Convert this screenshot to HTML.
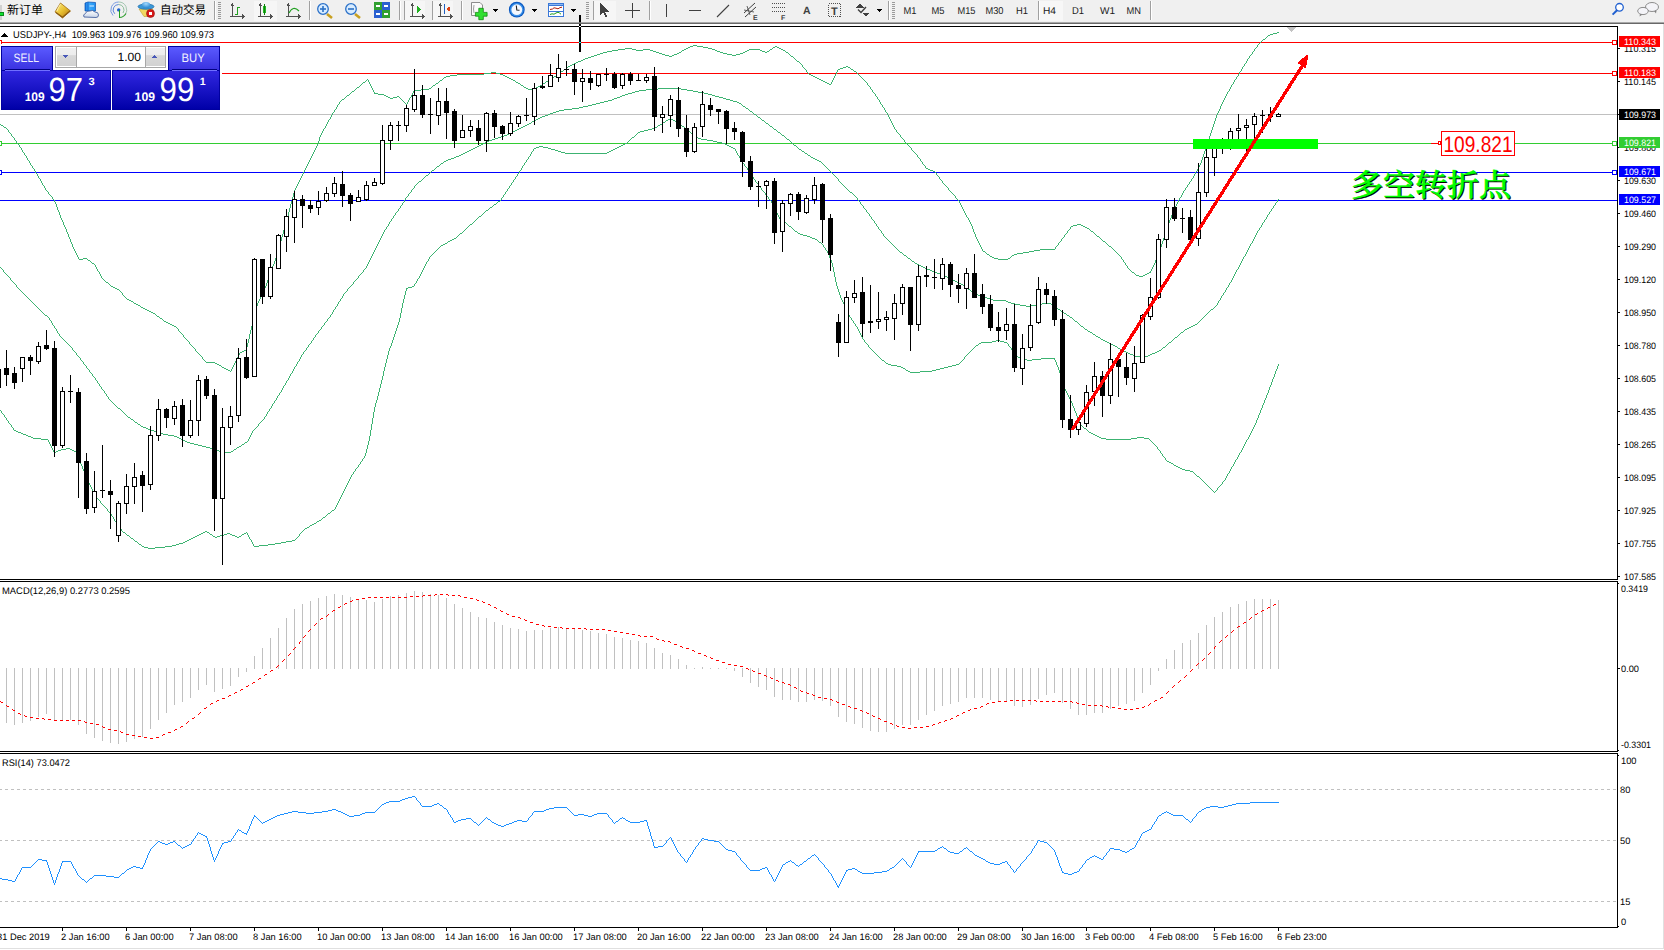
<!DOCTYPE html>
<html><head><meta charset="utf-8"><title>USDJPY-,H4</title>
<style>
html,body{margin:0;padding:0;background:#fff;width:1664px;height:950px;overflow:hidden;}
svg{display:block;}
text{white-space:pre;}
</style></head>
<body>
<svg width="1664" height="950" viewBox="0 0 1664 950" shape-rendering="crispEdges" text-rendering="geometricPrecision">
<rect x="0" y="0" width="1664" height="22" fill="#f0f0f0"/>
<rect x="0" y="22" width="1664" height="1" fill="#a8a8a8"/>
<rect x="0" y="23" width="1664" height="1" fill="#686868"/>
<rect x="0" y="5" width="1.5" height="15" fill="#d0d0d0"/>
<rect x="0" y="12" width="4" height="4" fill="#0a8a1a"/>
<rect x="0" y="13" width="3" height="2" fill="#10e030"/>
<text x="7" y="13.6" font-size="12" fill="#000" font-family="'Liberation Sans', 'Noto Sans CJK SC', 'WenQuanYi Zen Hei', sans-serif" textLength="36" lengthAdjust="spacingAndGlyphs">新订单</text>
<defs><linearGradient id="gGold" x1="0" y1="0" x2="1" y2="1"><stop offset="0" stop-color="#fff090"/><stop offset="0.5" stop-color="#e8c030"/><stop offset="1" stop-color="#b07010"/></linearGradient><linearGradient id="gSrv" x1="0" y1="0" x2="1" y2="0"><stop offset="0" stop-color="#1070e0"/><stop offset="0.3" stop-color="#40b0ff"/><stop offset="1" stop-color="#2090f0"/></linearGradient><linearGradient id="gCloud" x1="0" y1="0" x2="0" y2="1"><stop offset="0" stop-color="#ffffff"/><stop offset="1" stop-color="#c8d4e8"/></linearGradient><radialGradient id="gHat" cx="0.5" cy="0.3" r="0.7"><stop offset="0" stop-color="#a0d8ff"/><stop offset="1" stop-color="#2a88d0"/></radialGradient></defs>
<g shape-rendering="auto">
<polygon points="60.5,3 70.5,11 62.5,18 55,12" fill="url(#gGold)" stroke="#a06a10" stroke-width="0.8" stroke-linejoin="round"/>
<path d="M56,12.5 L62.5,17.2 L70,10.8" fill="none" stroke="#8a5a10" stroke-width="1.1"/>
<path d="M60.5,4 Q58,8 57,11" fill="none" stroke="#fff8c0" stroke-width="0.8"/>
<path d="M85,3 L88,2 L95.5,2.5 L95.5,11 L85,11 Z" fill="url(#gSrv)" stroke="#0a50b0" stroke-width="0.7"/>
<path d="M88,2.2 L88,11" stroke="#0a50c0" stroke-width="0.8"/>
<rect x="89.5" y="5.5" width="4.5" height="1" fill="#e0f0ff"/>
<path d="M84,17 Q82.5,14.5 85.5,13.5 Q86,10.5 90,11 Q92.5,9.5 95,12 Q98.5,12 98.5,15 Q98.5,17.5 96,17.5 Z" fill="url(#gCloud)" stroke="#4a64a0" stroke-width="0.9" stroke-linejoin="round"/>
<path d="M118.7,2 A8,8 0 0 0 113,15.5" fill="none" stroke="#6a90e0" stroke-width="0.9"/>
<path d="M118.7,4.5 A5.4,5.4 0 0 0 114.8,13.8" fill="none" stroke="#4a78d8" stroke-width="0.9"/>
<path d="M118.7,2 A8,8 0 0 1 125,15" fill="none" stroke="#9ac0a8" stroke-width="0.9"/>
<path d="M118.7,4.5 A5.4,5.4 0 0 1 123,13" fill="none" stroke="#80b890" stroke-width="0.9"/>
<path d="M119.4,17.5 A8,8 0 0 0 126,13.5" fill="none" stroke="#30a030" stroke-width="1.1"/>
<circle cx="118.7" cy="9.9" r="1.7" fill="#2060d0"/>
</g>
<rect x="119" y="10" width="1" height="8" fill="#20a020"/>
<g shape-rendering="auto">
<path d="M139,9 L153,9 L150,16.5 L144,16.5 Z" fill="#f0d860" stroke="#c0a030" stroke-width="0.6"/>
<ellipse cx="146" cy="6.6" rx="8" ry="2.6" fill="#3a98d8" stroke="#1a68a8" stroke-width="0.7"/>
<ellipse cx="146" cy="5" rx="4.2" ry="3" fill="url(#gHat)"/>
<circle cx="150.5" cy="13.5" r="4" fill="#d81818" stroke="#901010" stroke-width="0.6"/>
<rect x="149" y="12" width="3" height="3" fill="#ffffff"/>
</g>
<text x="160" y="13.6" font-size="12" fill="#000" font-family="'Liberation Sans', 'Noto Sans CJK SC', 'WenQuanYi Zen Hei', sans-serif" textLength="46" lengthAdjust="spacingAndGlyphs">自动交易</text>
<rect x="214" y="1" width="1" height="19" fill="#a0a0a0"/>
<rect x="215" y="1" width="1" height="19" fill="#ffffff"/>
<rect x="218" y="2" width="3" height="1" fill="#9a9a9a"/>
<rect x="218" y="4" width="3" height="1" fill="#9a9a9a"/>
<rect x="218" y="6" width="3" height="1" fill="#9a9a9a"/>
<rect x="218" y="8" width="3" height="1" fill="#9a9a9a"/>
<rect x="218" y="10" width="3" height="1" fill="#9a9a9a"/>
<rect x="218" y="12" width="3" height="1" fill="#9a9a9a"/>
<rect x="218" y="14" width="3" height="1" fill="#9a9a9a"/>
<rect x="218" y="16" width="3" height="1" fill="#9a9a9a"/>
<rect x="218" y="18" width="3" height="1" fill="#9a9a9a"/>
<rect x="232" y="4" width="1" height="13" fill="#505050"/>
<rect x="230" y="16" width="13" height="1" fill="#505050"/>
<polygon points="230.5,6 232.5,3 234.5,6" fill="#505050"/>
<polygon points="242,14 245,16.5 242,19" fill="#505050"/>
<rect x="237" y="7" width="1" height="8" fill="#20a020"/>
<rect x="237" y="7" width="3" height="1" fill="#20a020"/>
<rect x="235" y="14" width="2" height="1" fill="#20a020"/>
<rect x="254" y="1" width="23" height="20" fill="#f6f6f6"/>
<rect x="260" y="4" width="1" height="13" fill="#505050"/>
<rect x="258" y="16" width="13" height="1" fill="#505050"/>
<polygon points="258.5,6 260.5,3 262.5,6" fill="#505050"/>
<polygon points="270,14 273,16.5 270,19" fill="#505050"/>
<rect x="263" y="6" width="3" height="7" fill="#20c020"/>
<rect x="264" y="4" width="1" height="11" fill="#108010"/>
<rect x="288" y="4" width="1" height="13" fill="#505050"/>
<rect x="286" y="16" width="13" height="1" fill="#505050"/>
<polygon points="286.5,6 288.5,3 290.5,6" fill="#505050"/>
<polygon points="298,14 301,16.5 298,19" fill="#505050"/>
<g shape-rendering="auto"><path d="M289,13 Q293,5 299,11" fill="none" stroke="#20a020" stroke-width="1.2"/></g>
<rect x="309" y="1" width="1" height="19" fill="#a0a0a0"/>
<rect x="310" y="1" width="1" height="19" fill="#ffffff"/>
<g shape-rendering="auto">
<line x1="327" y1="14" x2="332" y2="18" stroke="#c8a020" stroke-width="2.6"/>
<circle cx="323" cy="9" r="5.3" fill="#d8ecff" stroke="#2a70c8" stroke-width="1.3"/>
<rect x="320" y="8.2" width="6" height="1.6" fill="#2a70c8"/>
<rect x="322.2" y="6" width="1.6" height="6" fill="#2a70c8"/>
<line x1="355" y1="14" x2="360" y2="18" stroke="#c8a020" stroke-width="2.6"/>
<circle cx="351" cy="9" r="5.3" fill="#d8ecff" stroke="#2a70c8" stroke-width="1.3"/>
<rect x="348" y="8.2" width="6" height="1.6" fill="#2a70c8"/>
</g>
<rect x="374" y="2" width="8" height="8" fill="#30a030"/>
<rect x="376" y="5" width="4" height="2" fill="#ffffff"/>
<rect x="382" y="2" width="8" height="8" fill="#2a60d0"/>
<rect x="384" y="5" width="4" height="2" fill="#ffffff"/>
<rect x="374" y="10" width="8" height="8" fill="#2a60d0"/>
<rect x="376" y="13" width="4" height="2" fill="#ffffff"/>
<rect x="382" y="10" width="8" height="8" fill="#30a030"/>
<rect x="384" y="13" width="4" height="2" fill="#ffffff"/>
<rect x="399" y="1" width="1" height="19" fill="#a0a0a0"/>
<rect x="400" y="1" width="1" height="19" fill="#ffffff"/>
<rect x="404" y="1" width="1" height="19" fill="#a0a0a0"/>
<rect x="405" y="1" width="1" height="19" fill="#ffffff"/>
<rect x="405" y="1" width="20" height="20" fill="#f6f6f6"/>
<rect x="412" y="4" width="1" height="13" fill="#505050"/>
<rect x="410" y="16" width="13" height="1" fill="#505050"/>
<polygon points="410.5,6 412.5,3 414.5,6" fill="#505050"/>
<polygon points="422,14 425,16.5 422,19" fill="#505050"/>
<polygon points="417,6 421,9.5 417,13" fill="#20b020"/>
<rect x="432" y="1" width="1" height="19" fill="#a0a0a0"/>
<rect x="433" y="1" width="1" height="19" fill="#ffffff"/>
<rect x="433" y="1" width="20" height="20" fill="#f6f6f6"/>
<rect x="440" y="4" width="1" height="13" fill="#505050"/>
<rect x="438" y="16" width="13" height="1" fill="#505050"/>
<polygon points="438.5,6 440.5,3 442.5,6" fill="#505050"/>
<polygon points="450,14 453,16.5 450,19" fill="#505050"/>
<rect x="444" y="4" width="1" height="10" fill="#2060c0"/>
<polygon points="446,9 450,6.5 450,11.5" fill="#e04010"/>
<rect x="461" y="1" width="1" height="19" fill="#a0a0a0"/>
<rect x="462" y="1" width="1" height="19" fill="#ffffff"/>
<g shape-rendering="auto">
<path d="M471.5,2.5 L480,2.5 L482.5,5 L482.5,15.5 L471.5,15.5 Z" fill="#fafafa" stroke="#808080" stroke-width="0.9"/>
<path d="M474,5 Q473,9 474,13" fill="none" stroke="#606060" stroke-width="0.6"/>
<path d="M478.8,8.3 H483.3 V12.4 H487.1 V16.2 H483.3 V19.7 H478.8 V16.2 H475.4 V12.4 H478.8 Z" fill="#30e030" stroke="#108a10" stroke-width="0.8"/>
</g>
<polygon points="493,9 498,9 495.5,12" fill="#000"/>
<g shape-rendering="auto">
<circle cx="516.8" cy="9.7" r="7.9" fill="#0a58c0"/>
<circle cx="516.8" cy="9.7" r="6.8" fill="#3a90e8"/>
<circle cx="516.8" cy="9.7" r="5.4" fill="#f4f8ff"/>
<path d="M516.3,5.5 L516.8,10 L519.5,10.3" fill="none" stroke="#202020" stroke-width="1.1"/>
</g>
<polygon points="532,9 537,9 534.5,12" fill="#000"/>
<rect x="548" y="3" width="16" height="14" fill="#3a78d8"/>
<rect x="549" y="6" width="14" height="10" fill="#ffffff"/>
<rect x="549" y="11" width="14" height="1" fill="#3a78d8"/>
<rect x="549" y="4" width="14" height="1" fill="#8ab8f0"/>
<g shape-rendering="auto">
<path d="M550,9.5 L552.5,9 L554,7.8 L556,8.2 L558,8.8 L560,7.6 L562,7.2" fill="none" stroke="#b02010" stroke-width="1"/>
<path d="M550,14.5 L552,13.8 L554,14.2 L556,13 L558,12.2 L559.5,13 L561,14.2" fill="none" stroke="#20a020" stroke-width="1"/>
</g>
<polygon points="571,9 576,9 573.5,12" fill="#000"/>
<rect x="586" y="2" width="3" height="1" fill="#9a9a9a"/>
<rect x="586" y="4" width="3" height="1" fill="#9a9a9a"/>
<rect x="586" y="6" width="3" height="1" fill="#9a9a9a"/>
<rect x="586" y="8" width="3" height="1" fill="#9a9a9a"/>
<rect x="586" y="10" width="3" height="1" fill="#9a9a9a"/>
<rect x="586" y="12" width="3" height="1" fill="#9a9a9a"/>
<rect x="586" y="14" width="3" height="1" fill="#9a9a9a"/>
<rect x="586" y="16" width="3" height="1" fill="#9a9a9a"/>
<rect x="586" y="18" width="3" height="1" fill="#9a9a9a"/>
<rect x="593" y="1" width="1" height="19" fill="#a0a0a0"/>
<rect x="594" y="1" width="1" height="19" fill="#ffffff"/>
<rect x="594" y="1" width="22" height="20" fill="#f6f6f6"/>
<polygon points="600,3 600,15 603,12 605.5,17 607,16.3 604.5,11.5 608.5,11.5" fill="#404040"/>
<rect x="632" y="3" width="1" height="15" fill="#404040"/>
<rect x="625" y="10" width="15" height="1" fill="#404040"/>
<rect x="649" y="1" width="1" height="19" fill="#a0a0a0"/>
<rect x="650" y="1" width="1" height="19" fill="#ffffff"/>
<rect x="666" y="4" width="1" height="13" fill="#404040"/>
<rect x="689" y="10" width="12" height="1" fill="#404040"/>
<g shape-rendering="auto">
<line x1="717" y1="17" x2="729" y2="5" stroke="#404040" stroke-width="1.1"/>
<line x1="744" y1="13" x2="755" y2="3" stroke="#404040" stroke-width="1"/>
<line x1="745" y1="17" x2="756" y2="7" stroke="#404040" stroke-width="1"/>
<line x1="744" y1="10" x2="754" y2="12" stroke="#404040" stroke-width="0.8"/>
<line x1="747" y1="6" x2="750" y2="15" stroke="#404040" stroke-width="0.8"/>
</g>
<text x="753" y="19.5" font-size="7" fill="#404040" font-family="'Liberation Sans', Arial, sans-serif" font-weight="bold">E</text>
<line x1="772" y1="3.5" x2="785" y2="3.5" stroke="#505050" stroke-width="1" stroke-dasharray="1,1"/>
<line x1="772" y1="7.5" x2="785" y2="7.5" stroke="#505050" stroke-width="1" stroke-dasharray="1,1"/>
<line x1="772" y1="11.5" x2="785" y2="11.5" stroke="#505050" stroke-width="1" stroke-dasharray="1,1"/>
<text x="781" y="19.5" font-size="7" fill="#404040" font-family="'Liberation Sans', Arial, sans-serif" font-weight="bold">F</text>
<text x="803" y="14" font-size="10.5" fill="#404040" font-family="'Liberation Sans', Arial, sans-serif" font-weight="bold">A</text>
<rect x="828.5" y="3.5" width="12" height="13" fill="none" stroke="#505050" stroke-width="1" stroke-dasharray="1,1"/>
<text x="831" y="15" font-size="11" fill="#404040" font-family="'Liberation Sans', Arial, sans-serif" font-weight="bold">T</text>
<polygon points="860,4 864,7.5 856,7.5" fill="#404040"/>
<polygon points="866,16.5 870,13 862,13" fill="#404040"/>
<g shape-rendering="auto"><path d="M858,9.5 L861,12.5 L866,7" fill="none" stroke="#404040" stroke-width="1.4"/></g>
<polygon points="877,9 882,9 879.5,12" fill="#000"/>
<rect x="888" y="1" width="1" height="19" fill="#a0a0a0"/>
<rect x="889" y="1" width="1" height="19" fill="#ffffff"/>
<rect x="892" y="2" width="3" height="1" fill="#9a9a9a"/>
<rect x="892" y="4" width="3" height="1" fill="#9a9a9a"/>
<rect x="892" y="6" width="3" height="1" fill="#9a9a9a"/>
<rect x="892" y="8" width="3" height="1" fill="#9a9a9a"/>
<rect x="892" y="10" width="3" height="1" fill="#9a9a9a"/>
<rect x="892" y="12" width="3" height="1" fill="#9a9a9a"/>
<rect x="892" y="14" width="3" height="1" fill="#9a9a9a"/>
<rect x="892" y="16" width="3" height="1" fill="#9a9a9a"/>
<rect x="892" y="18" width="3" height="1" fill="#9a9a9a"/>
<text x="903.5" y="14" font-size="10" fill="#202020" font-family="'Liberation Sans', Arial, sans-serif" textLength="13" lengthAdjust="spacingAndGlyphs">M1</text>
<text x="931.5" y="14" font-size="10" fill="#202020" font-family="'Liberation Sans', Arial, sans-serif" textLength="13" lengthAdjust="spacingAndGlyphs">M5</text>
<text x="957.5" y="14" font-size="10" fill="#202020" font-family="'Liberation Sans', Arial, sans-serif" textLength="18" lengthAdjust="spacingAndGlyphs">M15</text>
<text x="985.5" y="14" font-size="10" fill="#202020" font-family="'Liberation Sans', Arial, sans-serif" textLength="18" lengthAdjust="spacingAndGlyphs">M30</text>
<text x="1016" y="14" font-size="10" fill="#202020" font-family="'Liberation Sans', Arial, sans-serif" textLength="12" lengthAdjust="spacingAndGlyphs">H1</text>
<rect x="1039" y="1" width="24" height="20" fill="#f7f7f7"/>
<text x="1043" y="14" font-size="10" fill="#202020" font-family="'Liberation Sans', Arial, sans-serif" textLength="13" lengthAdjust="spacingAndGlyphs">H4</text>
<text x="1072" y="14" font-size="10" fill="#202020" font-family="'Liberation Sans', Arial, sans-serif" textLength="12" lengthAdjust="spacingAndGlyphs">D1</text>
<text x="1100" y="14" font-size="10" fill="#202020" font-family="'Liberation Sans', Arial, sans-serif" textLength="15" lengthAdjust="spacingAndGlyphs">W1</text>
<text x="1126.5" y="14" font-size="10" fill="#202020" font-family="'Liberation Sans', Arial, sans-serif" textLength="14.5" lengthAdjust="spacingAndGlyphs">MN</text>
<rect x="1038" y="1" width="1" height="19" fill="#a0a0a0"/>
<rect x="1039" y="1" width="1" height="19" fill="#ffffff"/>
<rect x="1150" y="1" width="1" height="19" fill="#a0a0a0"/>
<rect x="1151" y="1" width="1" height="19" fill="#ffffff"/>
<g shape-rendering="auto">
<circle cx="1619.5" cy="7.3" r="3.8" fill="#ffffff" stroke="#2060d0" stroke-width="1.3"/>
<line x1="1617" y1="10.3" x2="1612.6" y2="14.6" stroke="#2060d0" stroke-width="2"/>
<ellipse cx="1652" cy="7" rx="6.5" ry="4.5" fill="#f4f4f8" stroke="#808080" stroke-width="0.9"/>
<path d="M1654,11 L1656,13.5 L1656.5,10.5" fill="#808080"/>
<ellipse cx="1643" cy="11" rx="5.3" ry="3.6" fill="#f4f4f8" stroke="#808080" stroke-width="0.9"/>
<path d="M1640,14 L1639.5,16.5 L1642.5,14.5" fill="#808080"/>
</g>
<rect x="0" y="26" width="1618" height="1" fill="#000"/>
<rect x="1617" y="26" width="1" height="554" fill="#000"/>
<rect x="1617" y="581" width="1" height="171" fill="#000"/>
<rect x="1617" y="753" width="1" height="175" fill="#000"/>
<rect x="0" y="579" width="1617" height="1" fill="#000"/>
<rect x="0" y="581" width="1617" height="1" fill="#000"/>
<rect x="0" y="751" width="1617" height="1" fill="#000"/>
<rect x="0" y="753" width="1617" height="1" fill="#000"/>
<rect x="0" y="927" width="1618" height="1" fill="#000"/>
<rect x="1663" y="24" width="1" height="925" fill="#e0e0e0"/>
<rect x="0" y="948" width="1664" height="1" fill="#e0e0e0"/>
<defs><clipPath id="cm"><rect x="0" y="27" width="1617" height="552"/></clipPath><clipPath id="cmacd"><rect x="0" y="582" width="1617" height="169"/></clipPath><clipPath id="crsi"><rect x="0" y="755" width="1617" height="172"/></clipPath></defs>
<g clip-path="url(#cm)">
<rect x="0" y="114" width="1617" height="1" fill="#c0c0c0"/>
<rect x="0" y="42" width="1617" height="1" fill="#ff0000"/>
<rect x="-2.5" y="40.5" width="4" height="4" fill="#fff" stroke="#ff0000" stroke-width="1"/>
<rect x="1612.5" y="40.5" width="4" height="4" fill="#fff" stroke="#ff0000" stroke-width="1"/>
<rect x="0" y="73" width="1617" height="1" fill="#ff0000"/>
<rect x="1612.5" y="71.5" width="4" height="4" fill="#fff" stroke="#ff0000" stroke-width="1"/>
<rect x="0" y="143" width="1617" height="1" fill="#32cd32"/>
<rect x="-2.5" y="141.5" width="4" height="4" fill="#fff" stroke="#32cd32" stroke-width="1"/>
<rect x="1612.5" y="141.5" width="4" height="4" fill="#fff" stroke="#32cd32" stroke-width="1"/>
<rect x="0" y="172" width="1617" height="1" fill="#0000ff"/>
<rect x="-2.5" y="170.5" width="4" height="4" fill="#fff" stroke="#0000ff" stroke-width="1"/>
<rect x="1612.5" y="170.5" width="4" height="4" fill="#fff" stroke="#0000ff" stroke-width="1"/>
<rect x="0" y="200" width="1617" height="1" fill="#0000ff"/>
<path d="M1277 32h2v1h-2zM1273 33h4v1h-4zM1270 34h3v1h-3zM1268 35h2v1h-2zM1267 36h1v1h-1zM1266 37h1v1h-1zM1265 38h1v1h-1zM1263 39h2v1h-2zM1262 40h1v1h-1zM1261 41h1v1h-1zM1260 42h1v1h-1zM1259 43h1v1h-1zM1258 44h1v1h-1zM693 45h4v1h-4zM1257 45h1v1h-1zM690 46h3v1h-3zM697 46h6v1h-6zM775 46h2v1h-2zM1257 46h1v1h-1zM688 47h2v1h-2zM703 47h5v1h-5zM773 47h2v1h-2zM777 47h2v1h-2zM1256 47h1v1h-1zM625 48h7v1h-7zM686 48h2v1h-2zM708 48h4v1h-4zM772 48h1v1h-1zM779 48h2v1h-2zM1255 48h1v1h-1zM618 49h7v1h-7zM632 49h4v1h-4zM643 49h7v1h-7zM684 49h2v1h-2zM712 49h3v1h-3zM749 49h11v1h-11zM770 49h2v1h-2zM781 49h2v1h-2zM1254 49h1v1h-1zM612 50h6v1h-6zM636 50h7v1h-7zM650 50h3v1h-3zM682 50h2v1h-2zM715 50h2v1h-2zM747 50h2v1h-2zM760 50h2v1h-2zM769 50h1v1h-1zM783 50h2v1h-2zM1254 50h1v1h-1zM607 51h5v1h-5zM653 51h3v1h-3zM681 51h1v1h-1zM717 51h3v1h-3zM745 51h2v1h-2zM762 51h3v1h-3zM767 51h2v1h-2zM785 51h1v1h-1zM1253 51h1v1h-1zM603 52h4v1h-4zM656 52h3v1h-3zM679 52h2v1h-2zM720 52h3v1h-3zM743 52h2v1h-2zM765 52h2v1h-2zM786 52h2v1h-2zM1252 52h1v1h-1zM600 53h3v1h-3zM659 53h3v1h-3zM677 53h2v1h-2zM723 53h4v1h-4zM740 53h3v1h-3zM788 53h1v1h-1zM1252 53h1v1h-1zM597 54h3v1h-3zM662 54h3v1h-3zM674 54h3v1h-3zM727 54h5v1h-5zM736 54h4v1h-4zM789 54h1v1h-1zM1251 54h1v1h-1zM594 55h3v1h-3zM665 55h4v1h-4zM672 55h2v1h-2zM732 55h4v1h-4zM790 55h1v1h-1zM1250 55h1v1h-1zM591 56h3v1h-3zM669 56h3v1h-3zM791 56h2v1h-2zM1249 56h1v1h-1zM588 57h3v1h-3zM793 57h1v1h-1zM1249 57h1v1h-1zM585 58h3v1h-3zM794 58h1v1h-1zM1248 58h1v1h-1zM583 59h2v1h-2zM795 59h1v1h-1zM1247 59h1v1h-1zM581 60h2v1h-2zM796 60h1v1h-1zM1247 60h1v1h-1zM578 61h3v1h-3zM797 61h2v1h-2zM1246 61h1v1h-1zM576 62h2v1h-2zM799 62h1v1h-1zM1246 62h1v1h-1zM574 63h2v1h-2zM800 63h1v1h-1zM1245 63h1v1h-1zM572 64h2v1h-2zM801 64h1v1h-1zM1244 64h1v1h-1zM570 65h2v1h-2zM802 65h1v1h-1zM1244 65h1v1h-1zM568 66h2v1h-2zM802 66h1v1h-1zM846 66h2v1h-2zM1243 66h1v1h-1zM567 67h1v1h-1zM803 67h1v1h-1zM843 67h3v1h-3zM848 67h2v1h-2zM1242 67h1v1h-1zM566 68h1v1h-1zM804 68h1v1h-1zM840 68h3v1h-3zM850 68h1v1h-1zM1242 68h1v1h-1zM564 69h2v1h-2zM805 69h1v1h-1zM838 69h2v1h-2zM851 69h2v1h-2zM1241 69h1v1h-1zM563 70h1v1h-1zM806 70h1v1h-1zM837 70h1v1h-1zM853 70h1v1h-1zM1241 70h1v1h-1zM561 71h2v1h-2zM806 71h1v1h-1zM837 71h1v1h-1zM854 71h2v1h-2zM1240 71h1v1h-1zM491 72h5v1h-5zM560 72h1v1h-1zM807 72h1v1h-1zM836 72h1v1h-1zM856 72h1v1h-1zM1239 72h1v1h-1zM484 73h7v1h-7zM496 73h4v1h-4zM559 73h1v1h-1zM808 73h1v1h-1zM836 73h1v1h-1zM857 73h1v1h-1zM1239 73h1v1h-1zM457 74h27v1h-27zM500 74h3v1h-3zM557 74h2v1h-2zM809 74h2v1h-2zM835 74h1v1h-1zM858 74h1v1h-1zM1238 74h1v1h-1zM450 75h7v1h-7zM503 75h2v1h-2zM556 75h1v1h-1zM811 75h2v1h-2zM835 75h1v1h-1zM859 75h1v1h-1zM1238 75h1v1h-1zM446 76h4v1h-4zM505 76h2v1h-2zM554 76h2v1h-2zM813 76h2v1h-2zM834 76h1v1h-1zM860 76h1v1h-1zM1237 76h1v1h-1zM444 77h2v1h-2zM507 77h2v1h-2zM553 77h1v1h-1zM815 77h2v1h-2zM834 77h1v1h-1zM861 77h1v1h-1zM1236 77h1v1h-1zM443 78h1v1h-1zM509 78h2v1h-2zM551 78h2v1h-2zM817 78h2v1h-2zM833 78h1v1h-1zM862 78h1v1h-1zM1236 78h1v1h-1zM367 79h1v1h-1zM442 79h1v1h-1zM511 79h2v1h-2zM549 79h2v1h-2zM819 79h2v1h-2zM833 79h1v1h-1zM863 79h1v1h-1zM1235 79h1v1h-1zM366 80h1v1h-1zM368 80h1v1h-1zM440 80h2v1h-2zM513 80h2v1h-2zM548 80h1v1h-1zM821 80h2v1h-2zM832 80h1v1h-1zM864 80h1v1h-1zM1234 80h1v1h-1zM365 81h1v1h-1zM368 81h1v1h-1zM439 81h1v1h-1zM515 81h1v1h-1zM546 81h2v1h-2zM823 81h2v1h-2zM832 81h1v1h-1zM865 81h1v1h-1zM1234 81h1v1h-1zM363 82h2v1h-2zM369 82h1v1h-1zM438 82h1v1h-1zM516 82h2v1h-2zM545 82h1v1h-1zM825 82h2v1h-2zM831 82h1v1h-1zM866 82h1v1h-1zM1233 82h1v1h-1zM362 83h1v1h-1zM369 83h1v1h-1zM436 83h2v1h-2zM518 83h2v1h-2zM543 83h2v1h-2zM827 83h2v1h-2zM831 83h1v1h-1zM867 83h1v1h-1zM1233 83h1v1h-1zM361 84h1v1h-1zM370 84h1v1h-1zM435 84h1v1h-1zM520 84h1v1h-1zM542 84h1v1h-1zM829 84h2v1h-2zM867 84h1v1h-1zM1232 84h1v1h-1zM360 85h1v1h-1zM370 85h1v1h-1zM433 85h2v1h-2zM521 85h2v1h-2zM540 85h2v1h-2zM868 85h1v1h-1zM1231 85h1v1h-1zM359 86h1v1h-1zM371 86h1v1h-1zM432 86h1v1h-1zM523 86h1v1h-1zM538 86h2v1h-2zM869 86h1v1h-1zM1231 86h1v1h-1zM357 87h2v1h-2zM371 87h1v1h-1zM431 87h1v1h-1zM524 87h2v1h-2zM536 87h2v1h-2zM870 87h1v1h-1zM1230 87h1v1h-1zM356 88h1v1h-1zM372 88h1v1h-1zM429 88h2v1h-2zM526 88h2v1h-2zM534 88h2v1h-2zM870 88h1v1h-1zM1230 88h1v1h-1zM355 89h1v1h-1zM372 89h1v1h-1zM421 89h8v1h-8zM528 89h6v1h-6zM871 89h1v1h-1zM1229 89h1v1h-1zM354 90h1v1h-1zM373 90h1v1h-1zM414 90h7v1h-7zM872 90h1v1h-1zM1229 90h1v1h-1zM352 91h2v1h-2zM373 91h1v1h-1zM413 91h1v1h-1zM872 91h1v1h-1zM1228 91h1v1h-1zM351 92h1v1h-1zM374 92h1v1h-1zM413 92h1v1h-1zM873 92h1v1h-1zM1227 92h1v1h-1zM350 93h1v1h-1zM374 93h4v1h-4zM412 93h1v1h-1zM874 93h1v1h-1zM1227 93h1v1h-1zM349 94h1v1h-1zM378 94h6v1h-6zM412 94h1v1h-1zM875 94h1v1h-1zM1226 94h1v1h-1zM347 95h2v1h-2zM384 95h2v1h-2zM411 95h1v1h-1zM875 95h1v1h-1zM1226 95h1v1h-1zM346 96h1v1h-1zM386 96h2v1h-2zM397 96h2v1h-2zM411 96h1v1h-1zM876 96h1v1h-1zM1225 96h1v1h-1zM345 97h1v1h-1zM388 97h2v1h-2zM393 97h4v1h-4zM399 97h1v1h-1zM410 97h1v1h-1zM877 97h1v1h-1zM1225 97h1v1h-1zM344 98h1v1h-1zM390 98h3v1h-3zM400 98h1v1h-1zM409 98h1v1h-1zM877 98h1v1h-1zM1224 98h1v1h-1zM342 99h2v1h-2zM401 99h1v1h-1zM409 99h1v1h-1zM878 99h1v1h-1zM1224 99h1v1h-1zM341 100h1v1h-1zM402 100h1v1h-1zM408 100h1v1h-1zM879 100h1v1h-1zM1223 100h1v1h-1zM340 101h1v1h-1zM403 101h1v1h-1zM408 101h1v1h-1zM879 101h1v1h-1zM1223 101h1v1h-1zM339 102h1v1h-1zM404 102h1v1h-1zM407 102h1v1h-1zM880 102h1v1h-1zM1222 102h1v1h-1zM339 103h1v1h-1zM405 103h1v1h-1zM407 103h1v1h-1zM880 103h1v1h-1zM1222 103h1v1h-1zM338 104h1v1h-1zM406 104h1v1h-1zM881 104h1v1h-1zM1221 104h1v1h-1zM337 105h1v1h-1zM882 105h1v1h-1zM1221 105h1v1h-1zM337 106h1v1h-1zM882 106h1v1h-1zM1220 106h1v1h-1zM336 107h1v1h-1zM883 107h1v1h-1zM1220 107h1v1h-1zM336 108h1v1h-1zM884 108h1v1h-1zM1220 108h1v1h-1zM335 109h1v1h-1zM884 109h1v1h-1zM1219 109h1v1h-1zM334 110h1v1h-1zM885 110h1v1h-1zM1219 110h1v1h-1zM334 111h1v1h-1zM885 111h1v1h-1zM1218 111h1v1h-1zM333 112h1v1h-1zM886 112h1v1h-1zM1218 112h1v1h-1zM332 113h1v1h-1zM887 113h1v1h-1zM1217 113h1v1h-1zM332 114h1v1h-1zM887 114h1v1h-1zM1217 114h1v1h-1zM331 115h1v1h-1zM888 115h1v1h-1zM1216 115h1v1h-1zM331 116h1v1h-1zM888 116h1v1h-1zM1216 116h1v1h-1zM330 117h1v1h-1zM889 117h1v1h-1zM1216 117h1v1h-1zM330 118h1v1h-1zM889 118h1v1h-1zM1215 118h1v1h-1zM329 119h1v1h-1zM890 119h1v1h-1zM1215 119h1v1h-1zM328 120h1v1h-1zM890 120h1v1h-1zM1215 120h1v1h-1zM328 121h1v1h-1zM891 121h1v1h-1zM1214 121h1v1h-1zM327 122h1v1h-1zM891 122h1v1h-1zM1214 122h1v1h-1zM327 123h1v1h-1zM892 123h1v1h-1zM1214 123h1v1h-1zM0 124h1v1h-1zM326 124h1v1h-1zM892 124h1v1h-1zM1213 124h1v1h-1zM1 125h2v1h-2zM326 125h1v1h-1zM893 125h1v1h-1zM1213 125h1v1h-1zM3 126h1v1h-1zM325 126h1v1h-1zM893 126h1v1h-1zM1213 126h1v1h-1zM4 127h2v1h-2zM325 127h1v1h-1zM894 127h1v1h-1zM1212 127h1v1h-1zM6 128h1v1h-1zM324 128h1v1h-1zM894 128h1v1h-1zM1212 128h1v1h-1zM7 129h1v1h-1zM323 129h1v1h-1zM895 129h1v1h-1zM1212 129h1v1h-1zM8 130h1v1h-1zM323 130h1v1h-1zM896 130h1v1h-1zM1211 130h1v1h-1zM8 131h1v1h-1zM322 131h1v1h-1zM896 131h1v1h-1zM1211 131h1v1h-1zM9 132h1v1h-1zM322 132h1v1h-1zM897 132h1v1h-1zM1211 132h1v1h-1zM10 133h1v1h-1zM321 133h1v1h-1zM898 133h1v1h-1zM1210 133h1v1h-1zM11 134h1v1h-1zM321 134h1v1h-1zM899 134h1v1h-1zM1210 134h1v1h-1zM11 135h1v1h-1zM320 135h1v1h-1zM900 135h1v1h-1zM1210 135h1v1h-1zM12 136h1v1h-1zM320 136h1v1h-1zM900 136h1v1h-1zM1209 136h1v1h-1zM13 137h1v1h-1zM319 137h1v1h-1zM901 137h1v1h-1zM1209 137h1v1h-1zM14 138h1v1h-1zM319 138h1v1h-1zM902 138h1v1h-1zM1209 138h1v1h-1zM14 139h1v1h-1zM319 139h1v1h-1zM903 139h1v1h-1zM1208 139h1v1h-1zM15 140h1v1h-1zM319 140h1v1h-1zM904 140h1v1h-1zM1208 140h1v1h-1zM16 141h1v1h-1zM318 141h1v1h-1zM904 141h1v1h-1zM1208 141h1v1h-1zM16 142h1v1h-1zM318 142h1v1h-1zM905 142h1v1h-1zM1207 142h1v1h-1zM17 143h1v1h-1zM318 143h1v1h-1zM906 143h1v1h-1zM1207 143h1v1h-1zM18 144h1v1h-1zM317 144h1v1h-1zM907 144h1v1h-1zM1207 144h1v1h-1zM19 145h1v1h-1zM317 145h1v1h-1zM908 145h1v1h-1zM1206 145h1v1h-1zM19 146h1v1h-1zM316 146h1v1h-1zM909 146h1v1h-1zM1206 146h1v1h-1zM20 147h1v1h-1zM316 147h1v1h-1zM910 147h1v1h-1zM1206 147h1v1h-1zM21 148h1v1h-1zM315 148h1v1h-1zM911 148h1v1h-1zM1205 148h1v1h-1zM21 149h1v1h-1zM315 149h1v1h-1zM911 149h1v1h-1zM1205 149h1v1h-1zM22 150h1v1h-1zM314 150h1v1h-1zM912 150h1v1h-1zM1205 150h1v1h-1zM22 151h1v1h-1zM314 151h1v1h-1zM913 151h1v1h-1zM1204 151h1v1h-1zM23 152h1v1h-1zM313 152h1v1h-1zM914 152h1v1h-1zM1204 152h1v1h-1zM24 153h1v1h-1zM313 153h1v1h-1zM915 153h1v1h-1zM1204 153h1v1h-1zM24 154h1v1h-1zM312 154h1v1h-1zM916 154h1v1h-1zM1203 154h1v1h-1zM25 155h1v1h-1zM312 155h1v1h-1zM917 155h1v1h-1zM1203 155h1v1h-1zM26 156h1v1h-1zM311 156h1v1h-1zM917 156h1v1h-1zM1203 156h1v1h-1zM26 157h1v1h-1zM311 157h1v1h-1zM918 157h1v1h-1zM1202 157h1v1h-1zM27 158h1v1h-1zM310 158h1v1h-1zM919 158h1v1h-1zM1202 158h1v1h-1zM27 159h1v1h-1zM310 159h1v1h-1zM920 159h1v1h-1zM1202 159h1v1h-1zM28 160h1v1h-1zM309 160h1v1h-1zM920 160h1v1h-1zM1201 160h1v1h-1zM29 161h1v1h-1zM309 161h1v1h-1zM921 161h1v1h-1zM1201 161h1v1h-1zM29 162h1v1h-1zM308 162h1v1h-1zM922 162h1v1h-1zM1201 162h1v1h-1zM30 163h1v1h-1zM308 163h1v1h-1zM922 163h1v1h-1zM1200 163h1v1h-1zM30 164h1v1h-1zM307 164h1v1h-1zM923 164h1v1h-1zM1200 164h1v1h-1zM31 165h1v1h-1zM307 165h1v1h-1zM924 165h1v1h-1zM1199 165h1v1h-1zM32 166h1v1h-1zM306 166h1v1h-1zM925 166h1v1h-1zM1199 166h1v1h-1zM32 167h1v1h-1zM306 167h1v1h-1zM925 167h1v1h-1zM1198 167h1v1h-1zM33 168h1v1h-1zM305 168h1v1h-1zM926 168h2v1h-2zM1198 168h1v1h-1zM34 169h1v1h-1zM305 169h1v1h-1zM928 169h2v1h-2zM1197 169h1v1h-1zM34 170h1v1h-1zM304 170h1v1h-1zM930 170h3v1h-3zM1197 170h1v1h-1zM35 171h1v1h-1zM304 171h1v1h-1zM933 171h2v1h-2zM1196 171h1v1h-1zM35 172h1v1h-1zM303 172h1v1h-1zM935 172h1v1h-1zM1195 172h1v1h-1zM36 173h1v1h-1zM303 173h1v1h-1zM936 173h1v1h-1zM1195 173h1v1h-1zM37 174h1v1h-1zM302 174h1v1h-1zM936 174h1v1h-1zM1194 174h1v1h-1zM37 175h1v1h-1zM302 175h1v1h-1zM937 175h1v1h-1zM1194 175h1v1h-1zM38 176h1v1h-1zM301 176h1v1h-1zM938 176h1v1h-1zM1193 176h1v1h-1zM38 177h1v1h-1zM301 177h1v1h-1zM939 177h1v1h-1zM1193 177h1v1h-1zM39 178h1v1h-1zM300 178h1v1h-1zM939 178h1v1h-1zM1192 178h1v1h-1zM40 179h1v1h-1zM300 179h1v1h-1zM940 179h1v1h-1zM1191 179h1v1h-1zM40 180h1v1h-1zM299 180h1v1h-1zM941 180h1v1h-1zM1191 180h1v1h-1zM41 181h1v1h-1zM299 181h1v1h-1zM942 181h1v1h-1zM1190 181h1v1h-1zM41 182h1v1h-1zM298 182h1v1h-1zM942 182h1v1h-1zM1189 182h1v1h-1zM42 183h1v1h-1zM298 183h1v1h-1zM943 183h1v1h-1zM1189 183h1v1h-1zM42 184h1v1h-1zM297 184h1v1h-1zM944 184h1v1h-1zM1188 184h1v1h-1zM43 185h1v1h-1zM297 185h1v1h-1zM945 185h1v1h-1zM1187 185h1v1h-1zM44 186h1v1h-1zM296 186h1v1h-1zM946 186h1v1h-1zM1187 186h1v1h-1zM44 187h1v1h-1zM296 187h1v1h-1zM947 187h1v1h-1zM1186 187h1v1h-1zM45 188h1v1h-1zM295 188h1v1h-1zM948 188h1v1h-1zM1185 188h1v1h-1zM45 189h1v1h-1zM295 189h1v1h-1zM948 189h1v1h-1zM1185 189h1v1h-1zM46 190h1v1h-1zM294 190h1v1h-1zM949 190h1v1h-1zM1184 190h1v1h-1zM47 191h1v1h-1zM294 191h1v1h-1zM950 191h1v1h-1zM1183 191h1v1h-1zM48 192h1v1h-1zM294 192h1v1h-1zM951 192h1v1h-1zM1183 192h1v1h-1zM48 193h1v1h-1zM293 193h1v1h-1zM952 193h1v1h-1zM1182 193h1v1h-1zM49 194h1v1h-1zM293 194h1v1h-1zM953 194h1v1h-1zM1182 194h1v1h-1zM50 195h1v1h-1zM293 195h1v1h-1zM954 195h1v1h-1zM1181 195h1v1h-1zM51 196h1v1h-1zM293 196h1v1h-1zM955 196h1v1h-1zM1181 196h1v1h-1zM52 197h1v1h-1zM292 197h1v1h-1zM955 197h1v1h-1zM1180 197h1v1h-1zM52 198h1v1h-1zM292 198h1v1h-1zM956 198h1v1h-1zM1179 198h1v1h-1zM53 199h1v1h-1zM292 199h1v1h-1zM957 199h1v1h-1zM1179 199h1v1h-1zM54 200h1v1h-1zM292 200h1v1h-1zM958 200h1v1h-1zM1178 200h1v1h-1zM54 201h1v1h-1zM291 201h1v1h-1zM959 201h1v1h-1zM1178 201h1v1h-1zM55 202h1v1h-1zM291 202h1v1h-1zM959 202h1v1h-1zM1177 202h1v1h-1zM55 203h1v1h-1zM291 203h1v1h-1zM960 203h1v1h-1zM1177 203h1v1h-1zM56 204h1v1h-1zM290 204h1v1h-1zM960 204h1v1h-1zM1176 204h1v1h-1zM56 205h1v1h-1zM290 205h1v1h-1zM961 205h1v1h-1zM1176 205h1v1h-1zM56 206h1v1h-1zM290 206h1v1h-1zM961 206h1v1h-1zM1175 206h1v1h-1zM57 207h1v1h-1zM290 207h1v1h-1zM962 207h1v1h-1zM1175 207h1v1h-1zM57 208h1v1h-1zM289 208h1v1h-1zM962 208h1v1h-1zM1174 208h1v1h-1zM57 209h1v1h-1zM289 209h1v1h-1zM963 209h1v1h-1zM1174 209h1v1h-1zM58 210h1v1h-1zM289 210h1v1h-1zM963 210h1v1h-1zM1174 210h1v1h-1zM58 211h1v1h-1zM289 211h1v1h-1zM964 211h1v1h-1zM1173 211h1v1h-1zM59 212h1v1h-1zM288 212h1v1h-1zM964 212h1v1h-1zM1173 212h1v1h-1zM59 213h1v1h-1zM288 213h1v1h-1zM965 213h1v1h-1zM1172 213h1v1h-1zM59 214h1v1h-1zM288 214h1v1h-1zM965 214h1v1h-1zM1172 214h1v1h-1zM60 215h1v1h-1zM288 215h1v1h-1zM966 215h1v1h-1zM1171 215h1v1h-1zM60 216h1v1h-1zM287 216h1v1h-1zM966 216h1v1h-1zM1171 216h1v1h-1zM60 217h1v1h-1zM287 217h1v1h-1zM967 217h1v1h-1zM1171 217h1v1h-1zM61 218h1v1h-1zM287 218h1v1h-1zM968 218h1v1h-1zM1170 218h1v1h-1zM61 219h1v1h-1zM286 219h1v1h-1zM968 219h1v1h-1zM1170 219h1v1h-1zM62 220h1v1h-1zM286 220h1v1h-1zM969 220h1v1h-1zM1169 220h1v1h-1zM62 221h1v1h-1zM286 221h1v1h-1zM969 221h1v1h-1zM1169 221h1v1h-1zM63 222h1v1h-1zM286 222h1v1h-1zM970 222h1v1h-1zM1169 222h1v1h-1zM63 223h1v1h-1zM285 223h1v1h-1zM970 223h1v1h-1zM1168 223h1v1h-1zM63 224h1v1h-1zM285 224h1v1h-1zM971 224h1v1h-1zM1077 224h4v1h-4zM1168 224h1v1h-1zM64 225h1v1h-1zM285 225h1v1h-1zM971 225h1v1h-1zM1073 225h4v1h-4zM1081 225h2v1h-2zM1168 225h1v1h-1zM64 226h1v1h-1zM285 226h1v1h-1zM972 226h1v1h-1zM1071 226h2v1h-2zM1083 226h2v1h-2zM1167 226h1v1h-1zM65 227h1v1h-1zM284 227h1v1h-1zM972 227h1v1h-1zM1070 227h1v1h-1zM1085 227h2v1h-2zM1167 227h1v1h-1zM65 228h1v1h-1zM284 228h1v1h-1zM972 228h1v1h-1zM1070 228h1v1h-1zM1087 228h2v1h-2zM1167 228h1v1h-1zM66 229h1v1h-1zM284 229h1v1h-1zM973 229h1v1h-1zM1069 229h1v1h-1zM1089 229h1v1h-1zM1166 229h1v1h-1zM66 230h1v1h-1zM283 230h1v1h-1zM973 230h1v1h-1zM1068 230h1v1h-1zM1090 230h1v1h-1zM1166 230h1v1h-1zM66 231h1v1h-1zM283 231h1v1h-1zM973 231h1v1h-1zM1067 231h1v1h-1zM1091 231h2v1h-2zM1166 231h1v1h-1zM67 232h1v1h-1zM283 232h1v1h-1zM974 232h1v1h-1zM1067 232h1v1h-1zM1093 232h1v1h-1zM1165 232h1v1h-1zM67 233h1v1h-1zM283 233h1v1h-1zM974 233h1v1h-1zM1066 233h1v1h-1zM1094 233h1v1h-1zM1165 233h1v1h-1zM68 234h1v1h-1zM282 234h1v1h-1zM975 234h1v1h-1zM1065 234h1v1h-1zM1095 234h1v1h-1zM1165 234h1v1h-1zM68 235h1v1h-1zM282 235h1v1h-1zM975 235h1v1h-1zM1064 235h1v1h-1zM1096 235h1v1h-1zM1164 235h1v1h-1zM68 236h1v1h-1zM282 236h1v1h-1zM975 236h1v1h-1zM1064 236h1v1h-1zM1097 236h2v1h-2zM1164 236h1v1h-1zM69 237h1v1h-1zM281 237h1v1h-1zM976 237h1v1h-1zM1063 237h1v1h-1zM1099 237h1v1h-1zM1164 237h1v1h-1zM69 238h1v1h-1zM281 238h1v1h-1zM976 238h1v1h-1zM1062 238h1v1h-1zM1100 238h1v1h-1zM1163 238h1v1h-1zM70 239h1v1h-1zM281 239h1v1h-1zM977 239h1v1h-1zM1061 239h1v1h-1zM1101 239h1v1h-1zM1163 239h1v1h-1zM70 240h1v1h-1zM281 240h1v1h-1zM977 240h1v1h-1zM1061 240h1v1h-1zM1102 240h1v1h-1zM1163 240h1v1h-1zM70 241h1v1h-1zM280 241h1v1h-1zM978 241h1v1h-1zM1060 241h1v1h-1zM1103 241h2v1h-2zM1162 241h1v1h-1zM71 242h1v1h-1zM280 242h1v1h-1zM978 242h1v1h-1zM1059 242h1v1h-1zM1105 242h1v1h-1zM1162 242h1v1h-1zM71 243h1v1h-1zM280 243h1v1h-1zM979 243h1v1h-1zM1058 243h1v1h-1zM1106 243h1v1h-1zM1162 243h1v1h-1zM72 244h1v1h-1zM279 244h1v1h-1zM979 244h1v1h-1zM1058 244h1v1h-1zM1107 244h1v1h-1zM1161 244h1v1h-1zM72 245h1v1h-1zM279 245h1v1h-1zM980 245h1v1h-1zM1057 245h1v1h-1zM1108 245h1v1h-1zM1161 245h1v1h-1zM72 246h1v1h-1zM279 246h1v1h-1zM980 246h1v1h-1zM1056 246h1v1h-1zM1109 246h2v1h-2zM1161 246h1v1h-1zM73 247h1v1h-1zM279 247h1v1h-1zM981 247h1v1h-1zM1055 247h1v1h-1zM1111 247h1v1h-1zM1160 247h1v1h-1zM73 248h1v1h-1zM278 248h1v1h-1zM981 248h1v1h-1zM1055 248h1v1h-1zM1112 248h1v1h-1zM1160 248h1v1h-1zM74 249h1v1h-1zM278 249h1v1h-1zM982 249h1v1h-1zM1040 249h15v1h-15zM1113 249h1v1h-1zM1160 249h1v1h-1zM74 250h1v1h-1zM278 250h1v1h-1zM982 250h1v1h-1zM1034 250h6v1h-6zM1114 250h1v1h-1zM1159 250h1v1h-1zM75 251h1v1h-1zM277 251h1v1h-1zM983 251h2v1h-2zM1029 251h5v1h-5zM1115 251h1v1h-1zM1159 251h1v1h-1zM75 252h1v1h-1zM277 252h1v1h-1zM985 252h1v1h-1zM1023 252h6v1h-6zM1116 252h1v1h-1zM1158 252h1v1h-1zM76 253h1v1h-1zM277 253h1v1h-1zM986 253h1v1h-1zM1017 253h6v1h-6zM1117 253h1v1h-1zM1158 253h1v1h-1zM76 254h1v1h-1zM277 254h1v1h-1zM987 254h2v1h-2zM1014 254h3v1h-3zM1118 254h1v1h-1zM1158 254h1v1h-1zM77 255h1v1h-1zM276 255h1v1h-1zM989 255h1v1h-1zM1012 255h2v1h-2zM1119 255h1v1h-1zM1157 255h1v1h-1zM77 256h1v1h-1zM276 256h1v1h-1zM990 256h2v1h-2zM1011 256h1v1h-1zM1120 256h1v1h-1zM1157 256h1v1h-1zM78 257h1v1h-1zM276 257h1v1h-1zM992 257h2v1h-2zM1010 257h1v1h-1zM1121 257h1v1h-1zM1157 257h1v1h-1zM78 258h1v1h-1zM83 258h4v1h-4zM275 258h1v1h-1zM994 258h4v1h-4zM1008 258h2v1h-2zM1121 258h1v1h-1zM1156 258h1v1h-1zM79 259h4v1h-4zM87 259h1v1h-1zM275 259h1v1h-1zM998 259h10v1h-10zM1122 259h1v1h-1zM1156 259h1v1h-1zM88 260h2v1h-2zM275 260h1v1h-1zM1123 260h1v1h-1zM1155 260h1v1h-1zM90 261h1v1h-1zM274 261h1v1h-1zM1123 261h1v1h-1zM1155 261h1v1h-1zM91 262h1v1h-1zM274 262h1v1h-1zM1124 262h1v1h-1zM1155 262h1v1h-1zM92 263h2v1h-2zM274 263h1v1h-1zM1125 263h1v1h-1zM1154 263h1v1h-1zM94 264h1v1h-1zM273 264h1v1h-1zM1125 264h1v1h-1zM1154 264h1v1h-1zM95 265h1v1h-1zM273 265h1v1h-1zM1126 265h1v1h-1zM1153 265h1v1h-1zM95 266h1v1h-1zM272 266h1v1h-1zM1127 266h1v1h-1zM1153 266h1v1h-1zM96 267h1v1h-1zM272 267h1v1h-1zM1127 267h1v1h-1zM1152 267h1v1h-1zM96 268h1v1h-1zM272 268h1v1h-1zM1128 268h1v1h-1zM1152 268h1v1h-1zM97 269h1v1h-1zM271 269h1v1h-1zM1129 269h1v1h-1zM1151 269h1v1h-1zM97 270h1v1h-1zM271 270h1v1h-1zM1130 270h1v1h-1zM1151 270h1v1h-1zM98 271h1v1h-1zM271 271h1v1h-1zM1131 271h1v1h-1zM1150 271h1v1h-1zM99 272h1v1h-1zM270 272h1v1h-1zM1132 272h2v1h-2zM1149 272h2v1h-2zM99 273h1v1h-1zM270 273h1v1h-1zM1134 273h1v1h-1zM1147 273h2v1h-2zM100 274h1v1h-1zM270 274h1v1h-1zM1135 274h1v1h-1zM1145 274h2v1h-2zM100 275h1v1h-1zM269 275h1v1h-1zM1136 275h3v1h-3zM1143 275h2v1h-2zM101 276h1v1h-1zM269 276h1v1h-1zM1139 276h4v1h-4zM101 277h1v1h-1zM269 277h1v1h-1zM102 278h1v1h-1zM268 278h1v1h-1zM103 279h1v1h-1zM268 279h1v1h-1zM104 280h1v1h-1zM267 280h1v1h-1zM105 281h1v1h-1zM267 281h1v1h-1zM106 282h2v1h-2zM267 282h1v1h-1zM108 283h1v1h-1zM266 283h1v1h-1zM109 284h1v1h-1zM266 284h1v1h-1zM110 285h1v1h-1zM266 285h1v1h-1zM111 286h2v1h-2zM265 286h1v1h-1zM113 287h2v1h-2zM265 287h1v1h-1zM115 288h2v1h-2zM264 288h1v1h-1zM117 289h2v1h-2zM264 289h1v1h-1zM119 290h1v1h-1zM263 290h1v1h-1zM120 291h1v1h-1zM263 291h1v1h-1zM121 292h1v1h-1zM262 292h1v1h-1zM122 293h1v1h-1zM262 293h1v1h-1zM122 294h1v1h-1zM262 294h1v1h-1zM123 295h1v1h-1zM261 295h1v1h-1zM124 296h1v1h-1zM261 296h1v1h-1zM125 297h1v1h-1zM260 297h1v1h-1zM126 298h1v1h-1zM260 298h1v1h-1zM127 299h2v1h-2zM259 299h1v1h-1zM129 300h2v1h-2zM259 300h1v1h-1zM131 301h2v1h-2zM258 301h1v1h-1zM133 302h1v1h-1zM258 302h1v1h-1zM134 303h2v1h-2zM257 303h1v1h-1zM136 304h2v1h-2zM257 304h1v1h-1zM138 305h2v1h-2zM257 305h1v1h-1zM140 306h1v1h-1zM256 306h1v1h-1zM141 307h2v1h-2zM256 307h1v1h-1zM143 308h2v1h-2zM256 308h1v1h-1zM145 309h2v1h-2zM256 309h1v1h-1zM147 310h2v1h-2zM255 310h1v1h-1zM149 311h2v1h-2zM255 311h1v1h-1zM151 312h2v1h-2zM255 312h1v1h-1zM153 313h2v1h-2zM255 313h1v1h-1zM155 314h1v1h-1zM254 314h1v1h-1zM156 315h1v1h-1zM254 315h1v1h-1zM157 316h2v1h-2zM254 316h1v1h-1zM159 317h1v1h-1zM254 317h1v1h-1zM160 318h2v1h-2zM253 318h1v1h-1zM162 319h1v1h-1zM253 319h1v1h-1zM163 320h1v1h-1zM253 320h1v1h-1zM164 321h2v1h-2zM253 321h1v1h-1zM166 322h2v1h-2zM252 322h1v1h-1zM168 323h2v1h-2zM252 323h1v1h-1zM170 324h2v1h-2zM252 324h1v1h-1zM172 325h2v1h-2zM252 325h1v1h-1zM174 326h2v1h-2zM251 326h1v1h-1zM176 327h1v1h-1zM251 327h1v1h-1zM177 328h1v1h-1zM251 328h1v1h-1zM178 329h1v1h-1zM251 329h1v1h-1zM178 330h1v1h-1zM250 330h1v1h-1zM179 331h1v1h-1zM250 331h1v1h-1zM180 332h1v1h-1zM250 332h1v1h-1zM181 333h1v1h-1zM250 333h1v1h-1zM182 334h1v1h-1zM249 334h1v1h-1zM183 335h1v1h-1zM249 335h1v1h-1zM183 336h1v1h-1zM249 336h1v1h-1zM184 337h1v1h-1zM249 337h1v1h-1zM185 338h1v1h-1zM249 338h1v1h-1zM186 339h1v1h-1zM248 339h1v1h-1zM187 340h1v1h-1zM248 340h1v1h-1zM188 341h1v1h-1zM248 341h1v1h-1zM189 342h1v1h-1zM248 342h1v1h-1zM189 343h1v1h-1zM247 343h1v1h-1zM190 344h1v1h-1zM247 344h1v1h-1zM191 345h1v1h-1zM247 345h1v1h-1zM192 346h1v1h-1zM247 346h1v1h-1zM193 347h1v1h-1zM246 347h1v1h-1zM194 348h1v1h-1zM246 348h1v1h-1zM195 349h1v1h-1zM246 349h1v1h-1zM195 350h1v1h-1zM244 350h2v1h-2zM196 351h1v1h-1zM242 351h2v1h-2zM197 352h1v1h-1zM240 352h2v1h-2zM198 353h1v1h-1zM239 353h1v1h-1zM199 354h1v1h-1zM239 354h1v1h-1zM200 355h1v1h-1zM238 355h1v1h-1zM201 356h1v1h-1zM238 356h1v1h-1zM202 357h1v1h-1zM237 357h1v1h-1zM202 358h1v1h-1zM237 358h1v1h-1zM203 359h1v1h-1zM236 359h1v1h-1zM204 360h1v1h-1zM236 360h1v1h-1zM205 361h1v1h-1zM235 361h1v1h-1zM206 362h9v1h-9zM235 362h1v1h-1zM215 363h2v1h-2zM234 363h1v1h-1zM217 364h2v1h-2zM234 364h1v1h-1zM219 365h2v1h-2zM233 365h1v1h-1zM221 366h1v1h-1zM233 366h1v1h-1zM222 367h2v1h-2zM232 367h1v1h-1zM224 368h2v1h-2zM232 368h1v1h-1zM226 369h2v1h-2zM231 369h1v1h-1zM228 370h2v1h-2zM231 370h1v1h-1zM230 371h1v1h-1z" fill="#3cb371"/>
<path d="M658 88h23v1h-23zM646 89h12v1h-12zM681 89h6v1h-6zM639 90h7v1h-7zM687 90h6v1h-6zM635 91h4v1h-4zM693 91h5v1h-5zM632 92h3v1h-3zM698 92h6v1h-6zM628 93h4v1h-4zM704 93h4v1h-4zM625 94h3v1h-3zM708 94h4v1h-4zM622 95h3v1h-3zM712 95h3v1h-3zM620 96h2v1h-2zM715 96h4v1h-4zM617 97h3v1h-3zM719 97h4v1h-4zM614 98h3v1h-3zM723 98h3v1h-3zM612 99h2v1h-2zM726 99h4v1h-4zM608 100h4v1h-4zM730 100h3v1h-3zM604 101h4v1h-4zM733 101h4v1h-4zM600 102h4v1h-4zM737 102h2v1h-2zM596 103h4v1h-4zM739 103h2v1h-2zM592 104h4v1h-4zM741 104h1v1h-1zM588 105h4v1h-4zM742 105h1v1h-1zM583 106h5v1h-5zM743 106h2v1h-2zM579 107h4v1h-4zM745 107h1v1h-1zM572 108h7v1h-7zM746 108h2v1h-2zM564 109h8v1h-8zM748 109h1v1h-1zM559 110h5v1h-5zM749 110h1v1h-1zM556 111h3v1h-3zM750 111h2v1h-2zM553 112h3v1h-3zM752 112h1v1h-1zM550 113h3v1h-3zM753 113h1v1h-1zM548 114h2v1h-2zM754 114h2v1h-2zM545 115h3v1h-3zM756 115h1v1h-1zM542 116h3v1h-3zM757 116h1v1h-1zM540 117h2v1h-2zM758 117h2v1h-2zM538 118h2v1h-2zM760 118h1v1h-1zM536 119h2v1h-2zM761 119h1v1h-1zM534 120h2v1h-2zM762 120h2v1h-2zM532 121h2v1h-2zM764 121h1v1h-1zM531 122h1v1h-1zM765 122h1v1h-1zM529 123h2v1h-2zM766 123h2v1h-2zM527 124h2v1h-2zM768 124h1v1h-1zM525 125h2v1h-2zM769 125h1v1h-1zM523 126h2v1h-2zM770 126h2v1h-2zM521 127h2v1h-2zM772 127h1v1h-1zM519 128h2v1h-2zM773 128h1v1h-1zM517 129h2v1h-2zM774 129h2v1h-2zM515 130h2v1h-2zM776 130h1v1h-1zM513 131h2v1h-2zM777 131h1v1h-1zM511 132h2v1h-2zM778 132h2v1h-2zM509 133h2v1h-2zM780 133h1v1h-1zM507 134h2v1h-2zM781 134h1v1h-1zM504 135h3v1h-3zM782 135h2v1h-2zM501 136h3v1h-3zM784 136h1v1h-1zM498 137h3v1h-3zM785 137h1v1h-1zM495 138h3v1h-3zM786 138h1v1h-1zM492 139h3v1h-3zM787 139h2v1h-2zM489 140h3v1h-3zM789 140h1v1h-1zM487 141h2v1h-2zM790 141h1v1h-1zM485 142h2v1h-2zM791 142h1v1h-1zM483 143h2v1h-2zM792 143h1v1h-1zM481 144h2v1h-2zM793 144h1v1h-1zM479 145h2v1h-2zM794 145h2v1h-2zM477 146h2v1h-2zM796 146h1v1h-1zM475 147h2v1h-2zM797 147h1v1h-1zM473 148h2v1h-2zM798 148h1v1h-1zM471 149h2v1h-2zM799 149h2v1h-2zM469 150h2v1h-2zM801 150h1v1h-1zM467 151h2v1h-2zM802 151h2v1h-2zM465 152h2v1h-2zM804 152h1v1h-1zM463 153h2v1h-2zM805 153h2v1h-2zM461 154h2v1h-2zM807 154h1v1h-1zM459 155h2v1h-2zM808 155h2v1h-2zM456 156h3v1h-3zM810 156h1v1h-1zM454 157h2v1h-2zM811 157h2v1h-2zM451 158h3v1h-3zM813 158h2v1h-2zM448 159h3v1h-3zM815 159h2v1h-2zM446 160h2v1h-2zM817 160h2v1h-2zM444 161h2v1h-2zM819 161h2v1h-2zM443 162h1v1h-1zM821 162h1v1h-1zM441 163h2v1h-2zM822 163h1v1h-1zM440 164h1v1h-1zM823 164h1v1h-1zM439 165h1v1h-1zM824 165h1v1h-1zM437 166h2v1h-2zM825 166h1v1h-1zM436 167h1v1h-1zM826 167h1v1h-1zM435 168h1v1h-1zM827 168h1v1h-1zM434 169h1v1h-1zM828 169h1v1h-1zM432 170h2v1h-2zM829 170h1v1h-1zM431 171h1v1h-1zM830 171h1v1h-1zM430 172h1v1h-1zM831 172h1v1h-1zM429 173h1v1h-1zM832 173h1v1h-1zM428 174h1v1h-1zM833 174h1v1h-1zM426 175h2v1h-2zM834 175h1v1h-1zM425 176h1v1h-1zM835 176h1v1h-1zM424 177h1v1h-1zM836 177h1v1h-1zM423 178h1v1h-1zM837 178h1v1h-1zM422 179h1v1h-1zM838 179h1v1h-1zM421 180h1v1h-1zM838 180h1v1h-1zM419 181h2v1h-2zM839 181h1v1h-1zM418 182h1v1h-1zM840 182h1v1h-1zM417 183h1v1h-1zM841 183h1v1h-1zM416 184h1v1h-1zM842 184h1v1h-1zM415 185h1v1h-1zM843 185h1v1h-1zM414 186h1v1h-1zM844 186h1v1h-1zM414 187h1v1h-1zM845 187h1v1h-1zM413 188h1v1h-1zM846 188h1v1h-1zM412 189h1v1h-1zM847 189h1v1h-1zM411 190h1v1h-1zM848 190h1v1h-1zM411 191h1v1h-1zM849 191h1v1h-1zM410 192h1v1h-1zM850 192h2v1h-2zM409 193h1v1h-1zM852 193h1v1h-1zM408 194h1v1h-1zM853 194h1v1h-1zM408 195h1v1h-1zM854 195h1v1h-1zM407 196h1v1h-1zM855 196h1v1h-1zM406 197h1v1h-1zM856 197h1v1h-1zM405 198h1v1h-1zM857 198h1v1h-1zM405 199h1v1h-1zM857 199h1v1h-1zM1278 199h1v1h-1zM404 200h1v1h-1zM858 200h1v1h-1zM1277 200h1v1h-1zM404 201h1v1h-1zM859 201h1v1h-1zM1277 201h1v1h-1zM403 202h1v1h-1zM860 202h1v1h-1zM1276 202h1v1h-1zM402 203h1v1h-1zM860 203h1v1h-1zM1275 203h1v1h-1zM402 204h1v1h-1zM861 204h1v1h-1zM1275 204h1v1h-1zM401 205h1v1h-1zM862 205h1v1h-1zM1274 205h1v1h-1zM400 206h1v1h-1zM863 206h1v1h-1zM1273 206h1v1h-1zM400 207h1v1h-1zM863 207h1v1h-1zM1273 207h1v1h-1zM399 208h1v1h-1zM864 208h1v1h-1zM1272 208h1v1h-1zM398 209h1v1h-1zM865 209h1v1h-1zM1271 209h1v1h-1zM398 210h1v1h-1zM866 210h1v1h-1zM1271 210h1v1h-1zM397 211h1v1h-1zM866 211h1v1h-1zM1270 211h1v1h-1zM396 212h1v1h-1zM867 212h1v1h-1zM1269 212h1v1h-1zM395 213h1v1h-1zM868 213h1v1h-1zM1269 213h1v1h-1zM395 214h1v1h-1zM869 214h1v1h-1zM1268 214h1v1h-1zM394 215h1v1h-1zM869 215h1v1h-1zM1267 215h1v1h-1zM393 216h1v1h-1zM870 216h1v1h-1zM1267 216h1v1h-1zM393 217h1v1h-1zM871 217h1v1h-1zM1266 217h1v1h-1zM392 218h1v1h-1zM871 218h1v1h-1zM1266 218h1v1h-1zM391 219h1v1h-1zM872 219h1v1h-1zM1265 219h1v1h-1zM391 220h1v1h-1zM873 220h1v1h-1zM1264 220h1v1h-1zM390 221h1v1h-1zM874 221h1v1h-1zM1264 221h1v1h-1zM389 222h1v1h-1zM874 222h1v1h-1zM1263 222h1v1h-1zM389 223h1v1h-1zM875 223h1v1h-1zM1262 223h1v1h-1zM388 224h1v1h-1zM876 224h1v1h-1zM1262 224h1v1h-1zM388 225h1v1h-1zM876 225h1v1h-1zM1261 225h1v1h-1zM387 226h1v1h-1zM877 226h1v1h-1zM1261 226h1v1h-1zM386 227h1v1h-1zM878 227h1v1h-1zM1260 227h1v1h-1zM386 228h1v1h-1zM878 228h1v1h-1zM1259 228h1v1h-1zM385 229h1v1h-1zM879 229h1v1h-1zM1259 229h1v1h-1zM384 230h1v1h-1zM880 230h1v1h-1zM1258 230h1v1h-1zM384 231h1v1h-1zM881 231h1v1h-1zM1257 231h1v1h-1zM383 232h1v1h-1zM881 232h1v1h-1zM1257 232h1v1h-1zM383 233h1v1h-1zM882 233h1v1h-1zM1256 233h1v1h-1zM382 234h1v1h-1zM883 234h1v1h-1zM1256 234h1v1h-1zM382 235h1v1h-1zM883 235h1v1h-1zM1255 235h1v1h-1zM381 236h1v1h-1zM884 236h1v1h-1zM1255 236h1v1h-1zM381 237h1v1h-1zM885 237h1v1h-1zM1254 237h1v1h-1zM380 238h1v1h-1zM886 238h1v1h-1zM1254 238h1v1h-1zM380 239h1v1h-1zM887 239h1v1h-1zM1253 239h1v1h-1zM379 240h1v1h-1zM888 240h1v1h-1zM1253 240h1v1h-1zM379 241h1v1h-1zM889 241h1v1h-1zM1252 241h1v1h-1zM378 242h1v1h-1zM890 242h1v1h-1zM1252 242h1v1h-1zM378 243h1v1h-1zM891 243h1v1h-1zM1251 243h1v1h-1zM377 244h1v1h-1zM892 244h1v1h-1zM1250 244h1v1h-1zM377 245h1v1h-1zM893 245h1v1h-1zM1250 245h1v1h-1zM376 246h1v1h-1zM894 246h1v1h-1zM1249 246h1v1h-1zM376 247h1v1h-1zM895 247h1v1h-1zM1249 247h1v1h-1zM375 248h1v1h-1zM896 248h1v1h-1zM1248 248h1v1h-1zM375 249h1v1h-1zM897 249h1v1h-1zM1248 249h1v1h-1zM374 250h1v1h-1zM898 250h1v1h-1zM1247 250h1v1h-1zM374 251h1v1h-1zM899 251h1v1h-1zM1247 251h1v1h-1zM373 252h1v1h-1zM900 252h2v1h-2zM1246 252h1v1h-1zM373 253h1v1h-1zM902 253h1v1h-1zM1246 253h1v1h-1zM372 254h1v1h-1zM903 254h1v1h-1zM1245 254h1v1h-1zM372 255h1v1h-1zM904 255h2v1h-2zM1245 255h1v1h-1zM371 256h1v1h-1zM906 256h1v1h-1zM1244 256h1v1h-1zM371 257h1v1h-1zM907 257h1v1h-1zM1243 257h1v1h-1zM370 258h1v1h-1zM908 258h2v1h-2zM1243 258h1v1h-1zM370 259h1v1h-1zM910 259h1v1h-1zM1242 259h1v1h-1zM369 260h1v1h-1zM911 260h1v1h-1zM1242 260h1v1h-1zM369 261h1v1h-1zM912 261h2v1h-2zM1241 261h1v1h-1zM368 262h1v1h-1zM914 262h1v1h-1zM1241 262h1v1h-1zM368 263h1v1h-1zM915 263h2v1h-2zM1240 263h1v1h-1zM367 264h1v1h-1zM917 264h2v1h-2zM1240 264h1v1h-1zM367 265h1v1h-1zM919 265h2v1h-2zM1239 265h1v1h-1zM366 266h1v1h-1zM921 266h2v1h-2zM1239 266h1v1h-1zM0 267h1v1h-1zM366 267h1v1h-1zM923 267h2v1h-2zM1238 267h1v1h-1zM1 268h1v1h-1zM365 268h1v1h-1zM925 268h2v1h-2zM1238 268h1v1h-1zM2 269h1v1h-1zM364 269h1v1h-1zM927 269h3v1h-3zM1237 269h1v1h-1zM3 270h1v1h-1zM363 270h1v1h-1zM930 270h2v1h-2zM1236 270h1v1h-1zM3 271h1v1h-1zM363 271h1v1h-1zM932 271h3v1h-3zM1236 271h1v1h-1zM4 272h1v1h-1zM362 272h1v1h-1zM935 272h2v1h-2zM1235 272h1v1h-1zM5 273h1v1h-1zM361 273h1v1h-1zM937 273h3v1h-3zM1235 273h1v1h-1zM6 274h1v1h-1zM360 274h1v1h-1zM940 274h3v1h-3zM1234 274h1v1h-1zM7 275h1v1h-1zM359 275h1v1h-1zM943 275h2v1h-2zM1234 275h1v1h-1zM8 276h1v1h-1zM358 276h1v1h-1zM945 276h2v1h-2zM1233 276h1v1h-1zM9 277h1v1h-1zM358 277h1v1h-1zM947 277h2v1h-2zM1233 277h1v1h-1zM10 278h1v1h-1zM357 278h1v1h-1zM949 278h2v1h-2zM1232 278h1v1h-1zM10 279h1v1h-1zM356 279h1v1h-1zM951 279h2v1h-2zM1232 279h1v1h-1zM11 280h1v1h-1zM355 280h1v1h-1zM953 280h2v1h-2zM1231 280h1v1h-1zM12 281h1v1h-1zM354 281h1v1h-1zM955 281h2v1h-2zM1231 281h1v1h-1zM13 282h1v1h-1zM353 282h1v1h-1zM957 282h2v1h-2zM1230 282h1v1h-1zM14 283h1v1h-1zM353 283h1v1h-1zM959 283h2v1h-2zM1229 283h1v1h-1zM15 284h1v1h-1zM352 284h1v1h-1zM961 284h2v1h-2zM1229 284h1v1h-1zM16 285h1v1h-1zM351 285h1v1h-1zM963 285h1v1h-1zM1228 285h1v1h-1zM16 286h1v1h-1zM350 286h1v1h-1zM964 286h2v1h-2zM1228 286h1v1h-1zM17 287h1v1h-1zM349 287h1v1h-1zM966 287h1v1h-1zM1227 287h1v1h-1zM18 288h1v1h-1zM348 288h1v1h-1zM967 288h1v1h-1zM1226 288h1v1h-1zM19 289h1v1h-1zM347 289h1v1h-1zM968 289h2v1h-2zM1226 289h1v1h-1zM20 290h1v1h-1zM347 290h1v1h-1zM970 290h1v1h-1zM1225 290h1v1h-1zM21 291h1v1h-1zM346 291h1v1h-1zM971 291h2v1h-2zM1225 291h1v1h-1zM22 292h1v1h-1zM345 292h1v1h-1zM973 292h1v1h-1zM1224 292h1v1h-1zM23 293h1v1h-1zM344 293h1v1h-1zM974 293h2v1h-2zM1223 293h1v1h-1zM24 294h1v1h-1zM343 294h1v1h-1zM976 294h2v1h-2zM1223 294h1v1h-1zM25 295h1v1h-1zM343 295h1v1h-1zM978 295h3v1h-3zM1222 295h1v1h-1zM26 296h1v1h-1zM342 296h1v1h-1zM981 296h3v1h-3zM1221 296h1v1h-1zM27 297h1v1h-1zM342 297h1v1h-1zM984 297h3v1h-3zM1221 297h1v1h-1zM28 298h1v1h-1zM341 298h1v1h-1zM987 298h3v1h-3zM1220 298h1v1h-1zM29 299h1v1h-1zM340 299h1v1h-1zM990 299h3v1h-3zM1220 299h1v1h-1zM30 300h1v1h-1zM340 300h1v1h-1zM993 300h13v1h-13zM1219 300h1v1h-1zM31 301h1v1h-1zM339 301h1v1h-1zM1006 301h2v1h-2zM1218 301h1v1h-1zM32 302h1v1h-1zM338 302h1v1h-1zM1008 302h3v1h-3zM1218 302h1v1h-1zM33 303h1v1h-1zM338 303h1v1h-1zM1011 303h4v1h-4zM1042 303h9v1h-9zM1217 303h1v1h-1zM34 304h1v1h-1zM337 304h1v1h-1zM1015 304h5v1h-5zM1036 304h6v1h-6zM1051 304h2v1h-2zM1217 304h1v1h-1zM35 305h1v1h-1zM337 305h1v1h-1zM1020 305h6v1h-6zM1031 305h5v1h-5zM1053 305h1v1h-1zM1216 305h1v1h-1zM36 306h1v1h-1zM336 306h1v1h-1zM1026 306h5v1h-5zM1054 306h1v1h-1zM1215 306h1v1h-1zM37 307h1v1h-1zM335 307h1v1h-1zM1055 307h2v1h-2zM1214 307h1v1h-1zM38 308h1v1h-1zM335 308h1v1h-1zM1057 308h1v1h-1zM1213 308h1v1h-1zM39 309h1v1h-1zM334 309h1v1h-1zM1058 309h2v1h-2zM1211 309h2v1h-2zM40 310h1v1h-1zM333 310h1v1h-1zM1060 310h1v1h-1zM1210 310h1v1h-1zM41 311h1v1h-1zM333 311h1v1h-1zM1061 311h2v1h-2zM1209 311h1v1h-1zM42 312h1v1h-1zM332 312h1v1h-1zM1063 312h1v1h-1zM1208 312h1v1h-1zM43 313h1v1h-1zM332 313h1v1h-1zM1064 313h2v1h-2zM1207 313h1v1h-1zM44 314h1v1h-1zM331 314h1v1h-1zM1066 314h1v1h-1zM1206 314h1v1h-1zM45 315h2v1h-2zM330 315h1v1h-1zM1067 315h2v1h-2zM1205 315h1v1h-1zM47 316h1v1h-1zM330 316h1v1h-1zM1069 316h1v1h-1zM1204 316h1v1h-1zM48 317h1v1h-1zM329 317h1v1h-1zM1070 317h2v1h-2zM1203 317h1v1h-1zM49 318h1v1h-1zM328 318h1v1h-1zM1072 318h1v1h-1zM1202 318h1v1h-1zM49 319h1v1h-1zM327 319h1v1h-1zM1073 319h1v1h-1zM1201 319h1v1h-1zM50 320h1v1h-1zM327 320h1v1h-1zM1074 320h1v1h-1zM1200 320h1v1h-1zM51 321h1v1h-1zM326 321h1v1h-1zM1075 321h2v1h-2zM1199 321h1v1h-1zM51 322h1v1h-1zM325 322h1v1h-1zM1077 322h1v1h-1zM1198 322h1v1h-1zM52 323h1v1h-1zM324 323h1v1h-1zM1078 323h1v1h-1zM1197 323h1v1h-1zM52 324h1v1h-1zM324 324h1v1h-1zM1079 324h1v1h-1zM1195 324h2v1h-2zM53 325h1v1h-1zM323 325h1v1h-1zM1080 325h1v1h-1zM1193 325h2v1h-2zM54 326h1v1h-1zM322 326h1v1h-1zM1081 326h2v1h-2zM1191 326h2v1h-2zM54 327h1v1h-1zM321 327h1v1h-1zM1083 327h1v1h-1zM1189 327h2v1h-2zM55 328h1v1h-1zM321 328h1v1h-1zM1084 328h1v1h-1zM1187 328h2v1h-2zM56 329h1v1h-1zM320 329h1v1h-1zM1085 329h2v1h-2zM1185 329h2v1h-2zM56 330h1v1h-1zM319 330h1v1h-1zM1087 330h1v1h-1zM1184 330h1v1h-1zM57 331h1v1h-1zM318 331h1v1h-1zM1088 331h2v1h-2zM1183 331h1v1h-1zM57 332h1v1h-1zM318 332h1v1h-1zM1090 332h2v1h-2zM1181 332h2v1h-2zM58 333h1v1h-1zM317 333h1v1h-1zM1092 333h1v1h-1zM1180 333h1v1h-1zM59 334h1v1h-1zM316 334h1v1h-1zM1093 334h2v1h-2zM1179 334h1v1h-1zM59 335h1v1h-1zM315 335h1v1h-1zM1095 335h1v1h-1zM1178 335h1v1h-1zM60 336h1v1h-1zM315 336h1v1h-1zM1096 336h2v1h-2zM1177 336h1v1h-1zM61 337h1v1h-1zM314 337h1v1h-1zM1098 337h2v1h-2zM1175 337h2v1h-2zM62 338h1v1h-1zM313 338h1v1h-1zM1100 338h1v1h-1zM1174 338h1v1h-1zM63 339h1v1h-1zM313 339h1v1h-1zM1101 339h2v1h-2zM1173 339h1v1h-1zM64 340h1v1h-1zM312 340h1v1h-1zM1103 340h2v1h-2zM1172 340h1v1h-1zM65 341h1v1h-1zM311 341h1v1h-1zM1105 341h2v1h-2zM1171 341h1v1h-1zM66 342h1v1h-1zM311 342h1v1h-1zM1107 342h2v1h-2zM1169 342h2v1h-2zM67 343h1v1h-1zM310 343h1v1h-1zM1109 343h2v1h-2zM1168 343h1v1h-1zM68 344h1v1h-1zM309 344h1v1h-1zM1111 344h2v1h-2zM1167 344h1v1h-1zM69 345h1v1h-1zM308 345h1v1h-1zM1113 345h2v1h-2zM1166 345h1v1h-1zM70 346h1v1h-1zM308 346h1v1h-1zM1115 346h2v1h-2zM1165 346h1v1h-1zM71 347h1v1h-1zM307 347h1v1h-1zM1117 347h1v1h-1zM1163 347h2v1h-2zM72 348h1v1h-1zM306 348h1v1h-1zM1118 348h2v1h-2zM1162 348h1v1h-1zM72 349h1v1h-1zM306 349h1v1h-1zM1120 349h2v1h-2zM1161 349h1v1h-1zM73 350h1v1h-1zM305 350h1v1h-1zM1122 350h2v1h-2zM1159 350h2v1h-2zM74 351h1v1h-1zM304 351h1v1h-1zM1124 351h2v1h-2zM1157 351h2v1h-2zM75 352h1v1h-1zM303 352h1v1h-1zM1126 352h2v1h-2zM1155 352h2v1h-2zM76 353h1v1h-1zM303 353h1v1h-1zM1128 353h2v1h-2zM1152 353h3v1h-3zM76 354h1v1h-1zM302 354h1v1h-1zM1130 354h3v1h-3zM1150 354h2v1h-2zM77 355h1v1h-1zM301 355h1v1h-1zM1133 355h2v1h-2zM1148 355h2v1h-2zM78 356h1v1h-1zM301 356h1v1h-1zM1135 356h13v1h-13zM79 357h1v1h-1zM300 357h1v1h-1zM80 358h1v1h-1zM300 358h1v1h-1zM80 359h1v1h-1zM299 359h1v1h-1zM81 360h1v1h-1zM299 360h1v1h-1zM82 361h1v1h-1zM298 361h1v1h-1zM83 362h1v1h-1zM297 362h1v1h-1zM83 363h1v1h-1zM297 363h1v1h-1zM84 364h1v1h-1zM296 364h1v1h-1zM85 365h1v1h-1zM296 365h1v1h-1zM86 366h1v1h-1zM295 366h1v1h-1zM86 367h1v1h-1zM294 367h1v1h-1zM87 368h1v1h-1zM294 368h1v1h-1zM88 369h1v1h-1zM293 369h1v1h-1zM89 370h1v1h-1zM293 370h1v1h-1zM89 371h1v1h-1zM292 371h1v1h-1zM90 372h1v1h-1zM292 372h1v1h-1zM91 373h1v1h-1zM291 373h1v1h-1zM92 374h1v1h-1zM290 374h1v1h-1zM92 375h1v1h-1zM290 375h1v1h-1zM93 376h1v1h-1zM289 376h1v1h-1zM94 377h1v1h-1zM289 377h1v1h-1zM95 378h1v1h-1zM288 378h1v1h-1zM95 379h1v1h-1zM288 379h1v1h-1zM96 380h1v1h-1zM287 380h1v1h-1zM97 381h1v1h-1zM286 381h1v1h-1zM97 382h1v1h-1zM286 382h1v1h-1zM98 383h1v1h-1zM285 383h1v1h-1zM99 384h1v1h-1zM285 384h1v1h-1zM99 385h1v1h-1zM284 385h1v1h-1zM100 386h1v1h-1zM283 386h1v1h-1zM101 387h1v1h-1zM283 387h1v1h-1zM101 388h1v1h-1zM282 388h1v1h-1zM102 389h1v1h-1zM282 389h1v1h-1zM103 390h1v1h-1zM281 390h1v1h-1zM104 391h1v1h-1zM281 391h1v1h-1zM104 392h1v1h-1zM280 392h1v1h-1zM105 393h1v1h-1zM279 393h1v1h-1zM106 394h1v1h-1zM279 394h1v1h-1zM106 395h1v1h-1zM278 395h1v1h-1zM107 396h1v1h-1zM277 396h1v1h-1zM108 397h1v1h-1zM277 397h1v1h-1zM108 398h1v1h-1zM276 398h1v1h-1zM109 399h1v1h-1zM276 399h1v1h-1zM110 400h1v1h-1zM275 400h1v1h-1zM111 401h1v1h-1zM274 401h1v1h-1zM112 402h1v1h-1zM274 402h1v1h-1zM113 403h1v1h-1zM273 403h1v1h-1zM114 404h1v1h-1zM272 404h1v1h-1zM115 405h1v1h-1zM272 405h1v1h-1zM116 406h1v1h-1zM271 406h1v1h-1zM117 407h1v1h-1zM271 407h1v1h-1zM118 408h2v1h-2zM270 408h1v1h-1zM120 409h1v1h-1zM269 409h1v1h-1zM121 410h1v1h-1zM269 410h1v1h-1zM122 411h1v1h-1zM268 411h1v1h-1zM123 412h1v1h-1zM267 412h1v1h-1zM124 413h1v1h-1zM267 413h1v1h-1zM125 414h1v1h-1zM266 414h1v1h-1zM126 415h1v1h-1zM266 415h1v1h-1zM127 416h1v1h-1zM265 416h1v1h-1zM128 417h2v1h-2zM264 417h1v1h-1zM130 418h1v1h-1zM264 418h1v1h-1zM131 419h2v1h-2zM263 419h1v1h-1zM133 420h1v1h-1zM262 420h1v1h-1zM134 421h1v1h-1zM261 421h1v1h-1zM135 422h2v1h-2zM260 422h1v1h-1zM137 423h1v1h-1zM259 423h1v1h-1zM138 424h2v1h-2zM258 424h1v1h-1zM140 425h1v1h-1zM258 425h1v1h-1zM141 426h2v1h-2zM257 426h1v1h-1zM143 427h3v1h-3zM256 427h1v1h-1zM146 428h2v1h-2zM255 428h1v1h-1zM148 429h3v1h-3zM254 429h1v1h-1zM151 430h3v1h-3zM253 430h1v1h-1zM154 431h2v1h-2zM252 431h1v1h-1zM156 432h3v1h-3zM252 432h1v1h-1zM159 433h4v1h-4zM251 433h1v1h-1zM163 434h5v1h-5zM251 434h1v1h-1zM168 435h6v1h-6zM250 435h1v1h-1zM174 436h3v1h-3zM250 436h1v1h-1zM177 437h2v1h-2zM249 437h1v1h-1zM179 438h2v1h-2zM249 438h1v1h-1zM181 439h2v1h-2zM248 439h1v1h-1zM183 440h2v1h-2zM248 440h1v1h-1zM185 441h2v1h-2zM247 441h1v1h-1zM187 442h3v1h-3zM245 442h2v1h-2zM190 443h4v1h-4zM244 443h1v1h-1zM194 444h4v1h-4zM242 444h2v1h-2zM198 445h4v1h-4zM241 445h1v1h-1zM202 446h4v1h-4zM239 446h2v1h-2zM206 447h4v1h-4zM237 447h2v1h-2zM210 448h3v1h-3zM236 448h1v1h-1zM213 449h3v1h-3zM234 449h2v1h-2zM216 450h3v1h-3zM233 450h1v1h-1zM219 451h6v1h-6zM231 451h2v1h-2zM225 452h6v1h-6z" fill="#3cb371"/>
<path d="M670 118h1v1h-1zM668 119h2v1h-2zM671 119h2v1h-2zM666 120h2v1h-2zM673 120h2v1h-2zM665 121h1v1h-1zM675 121h2v1h-2zM663 122h2v1h-2zM677 122h1v1h-1zM662 123h1v1h-1zM678 123h2v1h-2zM660 124h2v1h-2zM680 124h1v1h-1zM658 125h2v1h-2zM681 125h1v1h-1zM657 126h1v1h-1zM682 126h2v1h-2zM655 127h2v1h-2zM684 127h1v1h-1zM652 128h3v1h-3zM685 128h1v1h-1zM648 129h4v1h-4zM686 129h1v1h-1zM644 130h4v1h-4zM687 130h2v1h-2zM640 131h4v1h-4zM689 131h1v1h-1zM638 132h2v1h-2zM690 132h1v1h-1zM637 133h1v1h-1zM691 133h2v1h-2zM636 134h1v1h-1zM693 134h1v1h-1zM635 135h1v1h-1zM694 135h1v1h-1zM634 136h1v1h-1zM695 136h2v1h-2zM632 137h2v1h-2zM697 137h1v1h-1zM631 138h1v1h-1zM698 138h3v1h-3zM630 139h1v1h-1zM701 139h6v1h-6zM629 140h1v1h-1zM707 140h6v1h-6zM628 141h1v1h-1zM713 141h4v1h-4zM627 142h1v1h-1zM717 142h5v1h-5zM625 143h2v1h-2zM722 143h3v1h-3zM623 144h2v1h-2zM725 144h2v1h-2zM621 145h2v1h-2zM727 145h2v1h-2zM539 146h4v1h-4zM619 146h2v1h-2zM729 146h2v1h-2zM536 147h3v1h-3zM543 147h5v1h-5zM617 147h2v1h-2zM731 147h2v1h-2zM534 148h2v1h-2zM548 148h3v1h-3zM615 148h2v1h-2zM733 148h2v1h-2zM533 149h1v1h-1zM551 149h4v1h-4zM613 149h2v1h-2zM735 149h1v1h-1zM533 150h1v1h-1zM555 150h3v1h-3zM611 150h2v1h-2zM735 150h1v1h-1zM532 151h1v1h-1zM558 151h3v1h-3zM609 151h2v1h-2zM736 151h1v1h-1zM531 152h1v1h-1zM561 152h4v1h-4zM607 152h2v1h-2zM736 152h1v1h-1zM531 153h1v1h-1zM565 153h42v1h-42zM737 153h1v1h-1zM530 154h1v1h-1zM737 154h1v1h-1zM530 155h1v1h-1zM738 155h1v1h-1zM529 156h1v1h-1zM739 156h1v1h-1zM528 157h1v1h-1zM739 157h1v1h-1zM528 158h1v1h-1zM740 158h1v1h-1zM527 159h1v1h-1zM740 159h1v1h-1zM526 160h1v1h-1zM741 160h1v1h-1zM526 161h1v1h-1zM741 161h1v1h-1zM525 162h1v1h-1zM742 162h1v1h-1zM524 163h1v1h-1zM743 163h1v1h-1zM524 164h1v1h-1zM744 164h1v1h-1zM523 165h1v1h-1zM744 165h1v1h-1zM522 166h1v1h-1zM745 166h1v1h-1zM522 167h1v1h-1zM746 167h1v1h-1zM521 168h1v1h-1zM747 168h1v1h-1zM521 169h1v1h-1zM747 169h1v1h-1zM520 170h1v1h-1zM748 170h1v1h-1zM519 171h1v1h-1zM749 171h1v1h-1zM519 172h1v1h-1zM749 172h1v1h-1zM518 173h1v1h-1zM750 173h1v1h-1zM517 174h1v1h-1zM751 174h1v1h-1zM517 175h1v1h-1zM751 175h1v1h-1zM516 176h1v1h-1zM752 176h1v1h-1zM515 177h1v1h-1zM753 177h1v1h-1zM515 178h1v1h-1zM753 178h1v1h-1zM514 179h1v1h-1zM754 179h1v1h-1zM513 180h1v1h-1zM755 180h1v1h-1zM513 181h1v1h-1zM755 181h1v1h-1zM512 182h1v1h-1zM756 182h1v1h-1zM511 183h1v1h-1zM757 183h1v1h-1zM511 184h1v1h-1zM758 184h1v1h-1zM510 185h1v1h-1zM758 185h1v1h-1zM509 186h1v1h-1zM759 186h1v1h-1zM509 187h1v1h-1zM760 187h1v1h-1zM508 188h1v1h-1zM761 188h1v1h-1zM507 189h1v1h-1zM761 189h1v1h-1zM507 190h1v1h-1zM762 190h1v1h-1zM506 191h1v1h-1zM763 191h1v1h-1zM505 192h1v1h-1zM764 192h1v1h-1zM505 193h1v1h-1zM765 193h1v1h-1zM504 194h1v1h-1zM765 194h1v1h-1zM503 195h1v1h-1zM766 195h1v1h-1zM503 196h1v1h-1zM767 196h1v1h-1zM502 197h1v1h-1zM768 197h1v1h-1zM501 198h1v1h-1zM768 198h1v1h-1zM501 199h1v1h-1zM769 199h1v1h-1zM500 200h1v1h-1zM770 200h1v1h-1zM498 201h2v1h-2zM771 201h1v1h-1zM497 202h1v1h-1zM771 202h1v1h-1zM496 203h1v1h-1zM772 203h1v1h-1zM494 204h2v1h-2zM772 204h1v1h-1zM493 205h1v1h-1zM773 205h1v1h-1zM492 206h1v1h-1zM773 206h1v1h-1zM490 207h2v1h-2zM774 207h1v1h-1zM489 208h1v1h-1zM774 208h1v1h-1zM488 209h1v1h-1zM775 209h1v1h-1zM486 210h2v1h-2zM775 210h1v1h-1zM485 211h1v1h-1zM776 211h1v1h-1zM484 212h1v1h-1zM776 212h1v1h-1zM483 213h1v1h-1zM777 213h1v1h-1zM482 214h1v1h-1zM777 214h1v1h-1zM481 215h1v1h-1zM778 215h1v1h-1zM479 216h2v1h-2zM778 216h1v1h-1zM478 217h1v1h-1zM779 217h1v1h-1zM477 218h1v1h-1zM779 218h1v1h-1zM476 219h1v1h-1zM780 219h2v1h-2zM475 220h1v1h-1zM782 220h1v1h-1zM474 221h1v1h-1zM783 221h2v1h-2zM473 222h1v1h-1zM785 222h1v1h-1zM472 223h1v1h-1zM786 223h1v1h-1zM470 224h2v1h-2zM787 224h1v1h-1zM469 225h1v1h-1zM788 225h1v1h-1zM468 226h1v1h-1zM789 226h2v1h-2zM467 227h1v1h-1zM791 227h1v1h-1zM466 228h1v1h-1zM792 228h1v1h-1zM465 229h1v1h-1zM793 229h1v1h-1zM464 230h1v1h-1zM794 230h1v1h-1zM463 231h1v1h-1zM795 231h2v1h-2zM462 232h1v1h-1zM797 232h1v1h-1zM460 233h2v1h-2zM798 233h2v1h-2zM459 234h1v1h-1zM800 234h3v1h-3zM458 235h1v1h-1zM803 235h4v1h-4zM457 236h1v1h-1zM807 236h3v1h-3zM456 237h1v1h-1zM810 237h2v1h-2zM454 238h2v1h-2zM812 238h3v1h-3zM452 239h2v1h-2zM815 239h2v1h-2zM450 240h2v1h-2zM817 240h1v1h-1zM448 241h2v1h-2zM818 241h1v1h-1zM447 242h1v1h-1zM819 242h2v1h-2zM445 243h2v1h-2zM821 243h1v1h-1zM443 244h2v1h-2zM822 244h1v1h-1zM441 245h2v1h-2zM823 245h1v1h-1zM440 246h1v1h-1zM823 246h1v1h-1zM439 247h1v1h-1zM824 247h1v1h-1zM438 248h1v1h-1zM825 248h1v1h-1zM437 249h1v1h-1zM825 249h1v1h-1zM436 250h1v1h-1zM826 250h1v1h-1zM435 251h1v1h-1zM827 251h1v1h-1zM434 252h1v1h-1zM827 252h1v1h-1zM433 253h1v1h-1zM828 253h1v1h-1zM432 254h1v1h-1zM828 254h1v1h-1zM431 255h1v1h-1zM829 255h1v1h-1zM430 256h1v1h-1zM829 256h1v1h-1zM429 257h1v1h-1zM829 257h1v1h-1zM429 258h1v1h-1zM830 258h1v1h-1zM428 259h1v1h-1zM830 259h1v1h-1zM428 260h1v1h-1zM831 260h1v1h-1zM427 261h1v1h-1zM831 261h1v1h-1zM426 262h1v1h-1zM831 262h1v1h-1zM426 263h1v1h-1zM832 263h1v1h-1zM425 264h1v1h-1zM832 264h1v1h-1zM425 265h1v1h-1zM832 265h1v1h-1zM424 266h1v1h-1zM832 266h1v1h-1zM424 267h1v1h-1zM833 267h1v1h-1zM423 268h1v1h-1zM833 268h1v1h-1zM423 269h1v1h-1zM833 269h1v1h-1zM422 270h1v1h-1zM833 270h1v1h-1zM422 271h1v1h-1zM833 271h1v1h-1zM421 272h1v1h-1zM834 272h1v1h-1zM421 273h1v1h-1zM834 273h1v1h-1zM420 274h1v1h-1zM834 274h1v1h-1zM420 275h1v1h-1zM834 275h1v1h-1zM419 276h1v1h-1zM834 276h1v1h-1zM419 277h1v1h-1zM835 277h1v1h-1zM418 278h1v1h-1zM835 278h1v1h-1zM417 279h1v1h-1zM835 279h1v1h-1zM417 280h1v1h-1zM835 280h1v1h-1zM416 281h1v1h-1zM835 281h1v1h-1zM416 282h1v1h-1zM836 282h1v1h-1zM415 283h1v1h-1zM836 283h1v1h-1zM414 284h1v1h-1zM836 284h1v1h-1zM414 285h1v1h-1zM836 285h1v1h-1zM412 286h2v1h-2zM837 286h1v1h-1zM408 287h4v1h-4zM837 287h1v1h-1zM406 288h2v1h-2zM837 288h1v1h-1zM406 289h1v1h-1zM838 289h1v1h-1zM406 290h1v1h-1zM838 290h1v1h-1zM405 291h1v1h-1zM838 291h1v1h-1zM405 292h1v1h-1zM839 292h1v1h-1zM405 293h1v1h-1zM839 293h1v1h-1zM405 294h1v1h-1zM839 294h1v1h-1zM404 295h1v1h-1zM840 295h1v1h-1zM404 296h1v1h-1zM840 296h1v1h-1zM404 297h1v1h-1zM840 297h1v1h-1zM404 298h1v1h-1zM841 298h1v1h-1zM403 299h1v1h-1zM841 299h1v1h-1zM403 300h1v1h-1zM842 300h1v1h-1zM403 301h1v1h-1zM842 301h1v1h-1zM403 302h1v1h-1zM843 302h1v1h-1zM402 303h1v1h-1zM843 303h1v1h-1zM402 304h1v1h-1zM844 304h1v1h-1zM402 305h1v1h-1zM844 305h1v1h-1zM402 306h1v1h-1zM844 306h1v1h-1zM402 307h1v1h-1zM845 307h1v1h-1zM401 308h1v1h-1zM845 308h1v1h-1zM401 309h1v1h-1zM846 309h1v1h-1zM401 310h1v1h-1zM846 310h1v1h-1zM401 311h1v1h-1zM847 311h1v1h-1zM401 312h1v1h-1zM847 312h1v1h-1zM400 313h1v1h-1zM848 313h1v1h-1zM400 314h1v1h-1zM848 314h1v1h-1zM400 315h1v1h-1zM849 315h1v1h-1zM400 316h1v1h-1zM849 316h1v1h-1zM400 317h1v1h-1zM850 317h1v1h-1zM399 318h1v1h-1zM851 318h1v1h-1zM399 319h1v1h-1zM851 319h1v1h-1zM399 320h1v1h-1zM852 320h1v1h-1zM399 321h1v1h-1zM853 321h1v1h-1zM398 322h1v1h-1zM853 322h1v1h-1zM398 323h1v1h-1zM854 323h1v1h-1zM398 324h1v1h-1zM855 324h1v1h-1zM397 325h1v1h-1zM855 325h1v1h-1zM397 326h1v1h-1zM856 326h1v1h-1zM397 327h1v1h-1zM857 327h1v1h-1zM396 328h1v1h-1zM857 328h1v1h-1zM396 329h1v1h-1zM858 329h1v1h-1zM396 330h1v1h-1zM858 330h1v1h-1zM395 331h1v1h-1zM859 331h1v1h-1zM395 332h1v1h-1zM859 332h1v1h-1zM395 333h1v1h-1zM860 333h1v1h-1zM394 334h1v1h-1zM860 334h1v1h-1zM394 335h1v1h-1zM861 335h1v1h-1zM394 336h1v1h-1zM861 336h1v1h-1zM393 337h1v1h-1zM862 337h1v1h-1zM393 338h1v1h-1zM862 338h1v1h-1zM393 339h1v1h-1zM863 339h1v1h-1zM392 340h1v1h-1zM864 340h1v1h-1zM996 340h4v1h-4zM392 341h1v1h-1zM864 341h1v1h-1zM992 341h4v1h-4zM1000 341h4v1h-4zM392 342h1v1h-1zM865 342h1v1h-1zM981 342h11v1h-11zM1004 342h3v1h-3zM391 343h1v1h-1zM866 343h1v1h-1zM979 343h2v1h-2zM1007 343h1v1h-1zM391 344h1v1h-1zM867 344h1v1h-1zM978 344h1v1h-1zM1008 344h1v1h-1zM391 345h1v1h-1zM868 345h1v1h-1zM976 345h2v1h-2zM1008 345h1v1h-1zM390 346h1v1h-1zM868 346h1v1h-1zM975 346h1v1h-1zM1009 346h1v1h-1zM390 347h1v1h-1zM869 347h1v1h-1zM974 347h1v1h-1zM1010 347h1v1h-1zM389 348h1v1h-1zM870 348h1v1h-1zM973 348h1v1h-1zM1011 348h1v1h-1zM389 349h1v1h-1zM871 349h1v1h-1zM972 349h1v1h-1zM1011 349h1v1h-1zM389 350h1v1h-1zM872 350h1v1h-1zM971 350h1v1h-1zM1012 350h1v1h-1zM388 351h1v1h-1zM873 351h1v1h-1zM970 351h1v1h-1zM1013 351h1v1h-1zM388 352h1v1h-1zM874 352h1v1h-1zM969 352h1v1h-1zM1014 352h1v1h-1zM388 353h1v1h-1zM875 353h1v1h-1zM968 353h1v1h-1zM1015 353h1v1h-1zM388 354h1v1h-1zM876 354h1v1h-1zM967 354h1v1h-1zM1015 354h1v1h-1zM387 355h1v1h-1zM877 355h1v1h-1zM966 355h1v1h-1zM1016 355h1v1h-1zM387 356h1v1h-1zM878 356h1v1h-1zM965 356h1v1h-1zM1017 356h1v1h-1zM387 357h1v1h-1zM879 357h1v1h-1zM964 357h1v1h-1zM1018 357h2v1h-2zM387 358h1v1h-1zM880 358h1v1h-1zM964 358h1v1h-1zM1020 358h3v1h-3zM1041 358h14v1h-14zM386 359h1v1h-1zM881 359h1v1h-1zM963 359h1v1h-1zM1023 359h4v1h-4zM1032 359h9v1h-9zM1054 359h1v1h-1zM386 360h1v1h-1zM882 360h2v1h-2zM962 360h1v1h-1zM1027 360h5v1h-5zM1055 360h1v1h-1zM386 361h1v1h-1zM884 361h1v1h-1zM961 361h1v1h-1zM1055 361h1v1h-1zM386 362h1v1h-1zM885 362h1v1h-1zM960 362h1v1h-1zM1056 362h1v1h-1zM385 363h1v1h-1zM886 363h2v1h-2zM959 363h1v1h-1zM1056 363h1v1h-1zM385 364h1v1h-1zM888 364h3v1h-3zM956 364h3v1h-3zM1056 364h1v1h-1zM1278 364h1v1h-1zM385 365h1v1h-1zM891 365h6v1h-6zM952 365h4v1h-4zM1057 365h1v1h-1zM1278 365h1v1h-1zM385 366h1v1h-1zM897 366h4v1h-4zM948 366h4v1h-4zM1057 366h1v1h-1zM1277 366h1v1h-1zM384 367h1v1h-1zM901 367h2v1h-2zM944 367h4v1h-4zM1058 367h1v1h-1zM1277 367h1v1h-1zM384 368h1v1h-1zM903 368h2v1h-2zM940 368h4v1h-4zM1058 368h1v1h-1zM1277 368h1v1h-1zM384 369h1v1h-1zM905 369h1v1h-1zM936 369h4v1h-4zM1058 369h1v1h-1zM1276 369h1v1h-1zM384 370h1v1h-1zM906 370h2v1h-2zM932 370h4v1h-4zM1059 370h1v1h-1zM1276 370h1v1h-1zM383 371h1v1h-1zM908 371h2v1h-2zM920 371h12v1h-12zM1059 371h1v1h-1zM1275 371h1v1h-1zM383 372h1v1h-1zM910 372h10v1h-10zM1059 372h1v1h-1zM1275 372h1v1h-1zM383 373h1v1h-1zM1060 373h1v1h-1zM1275 373h1v1h-1zM383 374h1v1h-1zM1060 374h1v1h-1zM1274 374h1v1h-1zM383 375h1v1h-1zM1060 375h1v1h-1zM1274 375h1v1h-1zM382 376h1v1h-1zM1060 376h1v1h-1zM1274 376h1v1h-1zM382 377h1v1h-1zM1061 377h1v1h-1zM1273 377h1v1h-1zM382 378h1v1h-1zM1061 378h1v1h-1zM1273 378h1v1h-1zM382 379h1v1h-1zM1061 379h1v1h-1zM1272 379h1v1h-1zM381 380h1v1h-1zM1062 380h1v1h-1zM1272 380h1v1h-1zM381 381h1v1h-1zM1062 381h1v1h-1zM1272 381h1v1h-1zM381 382h1v1h-1zM1062 382h1v1h-1zM1271 382h1v1h-1zM381 383h1v1h-1zM1063 383h1v1h-1zM1271 383h1v1h-1zM380 384h1v1h-1zM1063 384h1v1h-1zM1271 384h1v1h-1zM380 385h1v1h-1zM1063 385h1v1h-1zM1270 385h1v1h-1zM380 386h1v1h-1zM1063 386h1v1h-1zM1270 386h1v1h-1zM380 387h1v1h-1zM1064 387h1v1h-1zM1269 387h1v1h-1zM379 388h1v1h-1zM1064 388h1v1h-1zM1269 388h1v1h-1zM379 389h1v1h-1zM1065 389h1v1h-1zM1269 389h1v1h-1zM379 390h1v1h-1zM1065 390h1v1h-1zM1268 390h1v1h-1zM379 391h1v1h-1zM1066 391h1v1h-1zM1268 391h1v1h-1zM378 392h1v1h-1zM1066 392h1v1h-1zM1268 392h1v1h-1zM378 393h1v1h-1zM1067 393h1v1h-1zM1267 393h1v1h-1zM378 394h1v1h-1zM1067 394h1v1h-1zM1267 394h1v1h-1zM378 395h1v1h-1zM1068 395h1v1h-1zM1266 395h1v1h-1zM377 396h1v1h-1zM1068 396h1v1h-1zM1266 396h1v1h-1zM377 397h1v1h-1zM1069 397h1v1h-1zM1266 397h1v1h-1zM377 398h1v1h-1zM1069 398h1v1h-1zM1265 398h1v1h-1zM377 399h1v1h-1zM1070 399h1v1h-1zM1265 399h1v1h-1zM376 400h1v1h-1zM1070 400h1v1h-1zM1264 400h1v1h-1zM376 401h1v1h-1zM1071 401h1v1h-1zM1264 401h1v1h-1zM376 402h1v1h-1zM1071 402h1v1h-1zM1264 402h1v1h-1zM375 403h1v1h-1zM1072 403h1v1h-1zM1263 403h1v1h-1zM375 404h1v1h-1zM1072 404h1v1h-1zM1263 404h1v1h-1zM375 405h1v1h-1zM1072 405h1v1h-1zM1262 405h1v1h-1zM375 406h1v1h-1zM1073 406h1v1h-1zM1262 406h1v1h-1zM374 407h1v1h-1zM1073 407h1v1h-1zM1262 407h1v1h-1zM374 408h1v1h-1zM1074 408h1v1h-1zM1261 408h1v1h-1zM374 409h1v1h-1zM1074 409h1v1h-1zM1261 409h1v1h-1zM0 410h1v1h-1zM374 410h1v1h-1zM1074 410h1v1h-1zM1260 410h1v1h-1zM1 411h1v1h-1zM374 411h1v1h-1zM1075 411h1v1h-1zM1260 411h1v1h-1zM1 412h1v1h-1zM373 412h1v1h-1zM1075 412h1v1h-1zM1260 412h1v1h-1zM2 413h1v1h-1zM373 413h1v1h-1zM1076 413h1v1h-1zM1259 413h1v1h-1zM3 414h1v1h-1zM373 414h1v1h-1zM1076 414h1v1h-1zM1259 414h1v1h-1zM4 415h1v1h-1zM373 415h1v1h-1zM1076 415h1v1h-1zM1258 415h1v1h-1zM4 416h1v1h-1zM373 416h1v1h-1zM1077 416h1v1h-1zM1258 416h1v1h-1zM5 417h1v1h-1zM373 417h1v1h-1zM1077 417h1v1h-1zM1258 417h1v1h-1zM6 418h1v1h-1zM372 418h1v1h-1zM1078 418h1v1h-1zM1257 418h1v1h-1zM6 419h1v1h-1zM372 419h1v1h-1zM1078 419h1v1h-1zM1257 419h1v1h-1zM7 420h1v1h-1zM372 420h1v1h-1zM1078 420h1v1h-1zM1256 420h1v1h-1zM8 421h1v1h-1zM372 421h1v1h-1zM1079 421h1v1h-1zM1256 421h1v1h-1zM8 422h1v1h-1zM372 422h1v1h-1zM1079 422h1v1h-1zM1256 422h1v1h-1zM9 423h1v1h-1zM372 423h1v1h-1zM1080 423h1v1h-1zM1255 423h1v1h-1zM10 424h1v1h-1zM371 424h1v1h-1zM1080 424h1v1h-1zM1255 424h1v1h-1zM11 425h1v1h-1zM371 425h1v1h-1zM1081 425h1v1h-1zM1254 425h1v1h-1zM11 426h1v1h-1zM371 426h1v1h-1zM1082 426h1v1h-1zM1254 426h1v1h-1zM12 427h1v1h-1zM371 427h1v1h-1zM1083 427h1v1h-1zM1253 427h1v1h-1zM13 428h1v1h-1zM371 428h1v1h-1zM1084 428h2v1h-2zM1253 428h1v1h-1zM13 429h1v1h-1zM371 429h1v1h-1zM1086 429h1v1h-1zM1252 429h1v1h-1zM14 430h2v1h-2zM370 430h1v1h-1zM1087 430h1v1h-1zM1252 430h1v1h-1zM16 431h2v1h-2zM370 431h1v1h-1zM1088 431h1v1h-1zM1251 431h1v1h-1zM18 432h3v1h-3zM370 432h1v1h-1zM1089 432h2v1h-2zM1251 432h1v1h-1zM21 433h2v1h-2zM370 433h1v1h-1zM1091 433h2v1h-2zM1250 433h1v1h-1zM23 434h3v1h-3zM370 434h1v1h-1zM1093 434h2v1h-2zM1250 434h1v1h-1zM26 435h2v1h-2zM370 435h1v1h-1zM1095 435h2v1h-2zM1249 435h1v1h-1zM28 436h3v1h-3zM369 436h1v1h-1zM1097 436h2v1h-2zM1249 436h1v1h-1zM31 437h2v1h-2zM369 437h1v1h-1zM1099 437h2v1h-2zM1137 437h7v1h-7zM1248 437h1v1h-1zM33 438h8v1h-8zM369 438h1v1h-1zM1101 438h5v1h-5zM1131 438h6v1h-6zM1144 438h5v1h-5zM1248 438h1v1h-1zM41 439h7v1h-7zM369 439h1v1h-1zM1106 439h25v1h-25zM1149 439h1v1h-1zM1247 439h1v1h-1zM48 440h1v1h-1zM369 440h1v1h-1zM1150 440h1v1h-1zM1246 440h1v1h-1zM48 441h1v1h-1zM368 441h1v1h-1zM1151 441h1v1h-1zM1246 441h1v1h-1zM49 442h1v1h-1zM368 442h1v1h-1zM1152 442h1v1h-1zM1245 442h1v1h-1zM49 443h1v1h-1zM368 443h1v1h-1zM1153 443h1v1h-1zM1245 443h1v1h-1zM50 444h1v1h-1zM368 444h1v1h-1zM1154 444h1v1h-1zM1244 444h1v1h-1zM50 445h1v1h-1zM367 445h1v1h-1zM1155 445h1v1h-1zM1244 445h1v1h-1zM51 446h1v1h-1zM367 446h1v1h-1zM1156 446h1v1h-1zM1243 446h1v1h-1zM51 447h1v1h-1zM367 447h1v1h-1zM1157 447h1v1h-1zM1243 447h1v1h-1zM52 448h1v1h-1zM66 448h4v1h-4zM367 448h1v1h-1zM1157 448h1v1h-1zM1242 448h1v1h-1zM52 449h1v1h-1zM61 449h5v1h-5zM70 449h2v1h-2zM366 449h1v1h-1zM1158 449h1v1h-1zM1242 449h1v1h-1zM53 450h1v1h-1zM58 450h3v1h-3zM72 450h2v1h-2zM366 450h1v1h-1zM1159 450h1v1h-1zM1241 450h1v1h-1zM53 451h1v1h-1zM56 451h2v1h-2zM74 451h2v1h-2zM366 451h1v1h-1zM1160 451h1v1h-1zM1241 451h1v1h-1zM54 452h2v1h-2zM76 452h1v1h-1zM366 452h1v1h-1zM1160 452h1v1h-1zM1240 452h1v1h-1zM76 453h1v1h-1zM365 453h1v1h-1zM1161 453h1v1h-1zM1239 453h1v1h-1zM77 454h1v1h-1zM365 454h1v1h-1zM1162 454h1v1h-1zM1239 454h1v1h-1zM77 455h1v1h-1zM365 455h1v1h-1zM1162 455h1v1h-1zM1238 455h1v1h-1zM78 456h1v1h-1zM364 456h1v1h-1zM1163 456h1v1h-1zM1238 456h1v1h-1zM78 457h1v1h-1zM364 457h1v1h-1zM1164 457h1v1h-1zM1237 457h1v1h-1zM78 458h1v1h-1zM363 458h1v1h-1zM1165 458h1v1h-1zM1237 458h1v1h-1zM79 459h1v1h-1zM362 459h1v1h-1zM1165 459h1v1h-1zM1236 459h1v1h-1zM79 460h1v1h-1zM362 460h1v1h-1zM1166 460h1v1h-1zM1235 460h1v1h-1zM80 461h1v1h-1zM361 461h1v1h-1zM1167 461h2v1h-2zM1235 461h1v1h-1zM80 462h1v1h-1zM360 462h1v1h-1zM1169 462h2v1h-2zM1234 462h1v1h-1zM80 463h1v1h-1zM360 463h1v1h-1zM1171 463h2v1h-2zM1234 463h1v1h-1zM81 464h1v1h-1zM359 464h1v1h-1zM1173 464h1v1h-1zM1233 464h1v1h-1zM81 465h1v1h-1zM358 465h1v1h-1zM1174 465h2v1h-2zM1233 465h1v1h-1zM82 466h1v1h-1zM358 466h1v1h-1zM1176 466h2v1h-2zM1232 466h1v1h-1zM82 467h1v1h-1zM357 467h1v1h-1zM1178 467h2v1h-2zM1231 467h1v1h-1zM82 468h1v1h-1zM356 468h1v1h-1zM1180 468h2v1h-2zM1231 468h1v1h-1zM83 469h1v1h-1zM355 469h1v1h-1zM1182 469h3v1h-3zM1230 469h1v1h-1zM83 470h1v1h-1zM355 470h1v1h-1zM1185 470h5v1h-5zM1230 470h1v1h-1zM84 471h1v1h-1zM354 471h1v1h-1zM1190 471h3v1h-3zM1229 471h1v1h-1zM84 472h1v1h-1zM353 472h1v1h-1zM1193 472h1v1h-1zM1229 472h1v1h-1zM84 473h1v1h-1zM353 473h1v1h-1zM1194 473h1v1h-1zM1228 473h1v1h-1zM85 474h1v1h-1zM352 474h1v1h-1zM1195 474h1v1h-1zM1227 474h1v1h-1zM85 475h1v1h-1zM351 475h1v1h-1zM1196 475h1v1h-1zM1227 475h1v1h-1zM86 476h1v1h-1zM351 476h1v1h-1zM1197 476h2v1h-2zM1226 476h1v1h-1zM86 477h1v1h-1zM350 477h1v1h-1zM1199 477h1v1h-1zM1226 477h1v1h-1zM87 478h1v1h-1zM350 478h1v1h-1zM1200 478h1v1h-1zM1225 478h1v1h-1zM87 479h1v1h-1zM349 479h1v1h-1zM1201 479h1v1h-1zM1225 479h1v1h-1zM87 480h1v1h-1zM349 480h1v1h-1zM1202 480h1v1h-1zM1224 480h1v1h-1zM88 481h1v1h-1zM348 481h1v1h-1zM1203 481h1v1h-1zM1223 481h1v1h-1zM88 482h1v1h-1zM348 482h1v1h-1zM1204 482h1v1h-1zM1222 482h1v1h-1zM89 483h1v1h-1zM347 483h1v1h-1zM1205 483h1v1h-1zM1222 483h1v1h-1zM89 484h1v1h-1zM347 484h1v1h-1zM1206 484h1v1h-1zM1221 484h1v1h-1zM90 485h1v1h-1zM346 485h1v1h-1zM1207 485h1v1h-1zM1220 485h1v1h-1zM90 486h1v1h-1zM346 486h1v1h-1zM1208 486h1v1h-1zM1219 486h1v1h-1zM91 487h1v1h-1zM345 487h1v1h-1zM1209 487h1v1h-1zM1218 487h1v1h-1zM91 488h1v1h-1zM345 488h1v1h-1zM1210 488h1v1h-1zM1217 488h1v1h-1zM92 489h1v1h-1zM344 489h1v1h-1zM1211 489h1v1h-1zM1217 489h1v1h-1zM92 490h1v1h-1zM344 490h1v1h-1zM1212 490h1v1h-1zM1216 490h1v1h-1zM93 491h1v1h-1zM343 491h1v1h-1zM1213 491h1v1h-1zM1215 491h1v1h-1zM94 492h1v1h-1zM343 492h1v1h-1zM1214 492h1v1h-1zM94 493h1v1h-1zM342 493h1v1h-1zM95 494h1v1h-1zM342 494h1v1h-1zM95 495h1v1h-1zM341 495h1v1h-1zM96 496h1v1h-1zM341 496h1v1h-1zM96 497h1v1h-1zM340 497h1v1h-1zM97 498h1v1h-1zM340 498h1v1h-1zM98 499h1v1h-1zM339 499h1v1h-1zM99 500h1v1h-1zM339 500h1v1h-1zM100 501h1v1h-1zM338 501h1v1h-1zM100 502h1v1h-1zM338 502h1v1h-1zM101 503h1v1h-1zM337 503h1v1h-1zM102 504h1v1h-1zM337 504h1v1h-1zM103 505h1v1h-1zM336 505h1v1h-1zM104 506h1v1h-1zM336 506h1v1h-1zM105 507h1v1h-1zM335 507h1v1h-1zM106 508h1v1h-1zM335 508h1v1h-1zM107 509h1v1h-1zM334 509h1v1h-1zM107 510h1v1h-1zM332 510h2v1h-2zM108 511h1v1h-1zM331 511h1v1h-1zM109 512h1v1h-1zM330 512h1v1h-1zM110 513h1v1h-1zM328 513h2v1h-2zM111 514h1v1h-1zM327 514h1v1h-1zM111 515h1v1h-1zM326 515h1v1h-1zM112 516h1v1h-1zM325 516h1v1h-1zM113 517h1v1h-1zM323 517h2v1h-2zM113 518h1v1h-1zM322 518h1v1h-1zM114 519h1v1h-1zM321 519h1v1h-1zM114 520h1v1h-1zM319 520h2v1h-2zM115 521h1v1h-1zM317 521h2v1h-2zM116 522h1v1h-1zM316 522h1v1h-1zM116 523h1v1h-1zM314 523h2v1h-2zM117 524h1v1h-1zM312 524h2v1h-2zM118 525h1v1h-1zM310 525h2v1h-2zM118 526h1v1h-1zM309 526h1v1h-1zM119 527h1v1h-1zM307 527h2v1h-2zM120 528h1v1h-1zM305 528h2v1h-2zM121 529h1v1h-1zM304 529h1v1h-1zM121 530h1v1h-1zM303 530h1v1h-1zM122 531h1v1h-1zM205 531h2v1h-2zM302 531h1v1h-1zM123 532h2v1h-2zM203 532h2v1h-2zM207 532h2v1h-2zM246 532h1v1h-1zM301 532h1v1h-1zM125 533h1v1h-1zM201 533h2v1h-2zM209 533h1v1h-1zM227 533h3v1h-3zM244 533h2v1h-2zM247 533h1v1h-1zM300 533h1v1h-1zM126 534h1v1h-1zM199 534h2v1h-2zM210 534h2v1h-2zM224 534h3v1h-3zM230 534h2v1h-2zM242 534h2v1h-2zM247 534h1v1h-1zM299 534h1v1h-1zM127 535h2v1h-2zM197 535h2v1h-2zM212 535h1v1h-1zM220 535h4v1h-4zM232 535h3v1h-3zM241 535h1v1h-1zM248 535h1v1h-1zM299 535h1v1h-1zM129 536h1v1h-1zM195 536h2v1h-2zM213 536h2v1h-2zM217 536h3v1h-3zM235 536h2v1h-2zM239 536h2v1h-2zM248 536h1v1h-1zM298 536h1v1h-1zM130 537h1v1h-1zM193 537h2v1h-2zM215 537h2v1h-2zM237 537h2v1h-2zM249 537h1v1h-1zM297 537h1v1h-1zM131 538h2v1h-2zM191 538h2v1h-2zM249 538h1v1h-1zM296 538h1v1h-1zM133 539h1v1h-1zM189 539h2v1h-2zM250 539h1v1h-1zM295 539h1v1h-1zM134 540h1v1h-1zM187 540h2v1h-2zM251 540h1v1h-1zM292 540h3v1h-3zM135 541h2v1h-2zM185 541h2v1h-2zM251 541h1v1h-1zM286 541h6v1h-6zM137 542h1v1h-1zM183 542h2v1h-2zM252 542h1v1h-1zM281 542h5v1h-5zM138 543h1v1h-1zM179 543h4v1h-4zM252 543h1v1h-1zM275 543h6v1h-6zM139 544h2v1h-2zM176 544h3v1h-3zM253 544h1v1h-1zM268 544h7v1h-7zM141 545h1v1h-1zM172 545h4v1h-4zM253 545h1v1h-1zM259 545h9v1h-9zM142 546h2v1h-2zM165 546h7v1h-7zM254 546h5v1h-5zM144 547h4v1h-4zM155 547h10v1h-10zM148 548h7v1h-7z" fill="#3cb371"/>
<rect x="-2" y="362" width="1" height="31" fill="#000"/>
<rect x="-4" y="369" width="5" height="19" fill="#000"/>
<rect x="6" y="350" width="1" height="36" fill="#000"/>
<rect x="4" y="368" width="5" height="7" fill="#000"/>
<rect x="14" y="367" width="1" height="22" fill="#000"/>
<rect x="12" y="373" width="5" height="10" fill="#000"/>
<rect x="22" y="357" width="1" height="25" fill="#000"/>
<rect x="20" y="357" width="5" height="12" fill="#000"/>
<rect x="21" y="358" width="3" height="10" fill="#fff"/>
<rect x="30" y="355" width="1" height="20" fill="#000"/>
<rect x="28" y="357" width="5" height="4" fill="#000"/>
<rect x="38" y="342" width="1" height="22" fill="#000"/>
<rect x="36" y="346" width="5" height="16" fill="#000"/>
<rect x="37" y="347" width="3" height="14" fill="#fff"/>
<rect x="46" y="330" width="1" height="20" fill="#000"/>
<rect x="44" y="345" width="5" height="4" fill="#000"/>
<rect x="54" y="341" width="1" height="116" fill="#000"/>
<rect x="52" y="348" width="5" height="98" fill="#000"/>
<rect x="62" y="387" width="1" height="61" fill="#000"/>
<rect x="60" y="391" width="5" height="55" fill="#000"/>
<rect x="61" y="392" width="3" height="53" fill="#fff"/>
<rect x="70" y="375" width="1" height="28" fill="#000"/>
<rect x="68" y="391" width="5" height="1" fill="#000"/>
<rect x="78" y="388" width="1" height="110" fill="#000"/>
<rect x="76" y="392" width="5" height="71" fill="#000"/>
<rect x="86" y="453" width="1" height="61" fill="#000"/>
<rect x="84" y="461" width="5" height="48" fill="#000"/>
<rect x="94" y="471" width="1" height="42" fill="#000"/>
<rect x="92" y="491" width="5" height="17" fill="#000"/>
<rect x="93" y="492" width="3" height="15" fill="#fff"/>
<rect x="102" y="445" width="1" height="53" fill="#000"/>
<rect x="100" y="490" width="5" height="1" fill="#000"/>
<rect x="110" y="480" width="1" height="49" fill="#000"/>
<rect x="108" y="491" width="5" height="4" fill="#000"/>
<rect x="118" y="501" width="1" height="41" fill="#000"/>
<rect x="116" y="503" width="5" height="33" fill="#000"/>
<rect x="117" y="504" width="3" height="31" fill="#fff"/>
<rect x="126" y="474" width="1" height="40" fill="#000"/>
<rect x="124" y="486" width="5" height="18" fill="#000"/>
<rect x="125" y="487" width="3" height="16" fill="#fff"/>
<rect x="134" y="463" width="1" height="41" fill="#000"/>
<rect x="132" y="477" width="5" height="10" fill="#000"/>
<rect x="133" y="478" width="3" height="8" fill="#fff"/>
<rect x="142" y="471" width="1" height="41" fill="#000"/>
<rect x="140" y="475" width="5" height="11" fill="#000"/>
<rect x="150" y="426" width="1" height="64" fill="#000"/>
<rect x="148" y="435" width="5" height="50" fill="#000"/>
<rect x="149" y="436" width="3" height="48" fill="#fff"/>
<rect x="158" y="399" width="1" height="42" fill="#000"/>
<rect x="156" y="409" width="5" height="27" fill="#000"/>
<rect x="157" y="410" width="3" height="25" fill="#fff"/>
<rect x="166" y="408" width="1" height="20" fill="#000"/>
<rect x="164" y="409" width="5" height="9" fill="#000"/>
<rect x="174" y="401" width="1" height="24" fill="#000"/>
<rect x="172" y="406" width="5" height="13" fill="#000"/>
<rect x="173" y="407" width="3" height="11" fill="#fff"/>
<rect x="182" y="399" width="1" height="48" fill="#000"/>
<rect x="180" y="405" width="5" height="31" fill="#000"/>
<rect x="190" y="400" width="1" height="38" fill="#000"/>
<rect x="188" y="420" width="5" height="16" fill="#000"/>
<rect x="189" y="421" width="3" height="14" fill="#fff"/>
<rect x="198" y="375" width="1" height="61" fill="#000"/>
<rect x="196" y="380" width="5" height="41" fill="#000"/>
<rect x="197" y="381" width="3" height="39" fill="#fff"/>
<rect x="206" y="376" width="1" height="23" fill="#000"/>
<rect x="204" y="379" width="5" height="17" fill="#000"/>
<rect x="214" y="389" width="1" height="142" fill="#000"/>
<rect x="212" y="395" width="5" height="104" fill="#000"/>
<rect x="222" y="408" width="1" height="157" fill="#000"/>
<rect x="220" y="427" width="5" height="72" fill="#000"/>
<rect x="221" y="428" width="3" height="70" fill="#fff"/>
<rect x="230" y="406" width="1" height="39" fill="#000"/>
<rect x="228" y="416" width="5" height="12" fill="#000"/>
<rect x="229" y="417" width="3" height="10" fill="#fff"/>
<rect x="238" y="348" width="1" height="74" fill="#000"/>
<rect x="236" y="358" width="5" height="58" fill="#000"/>
<rect x="237" y="359" width="3" height="56" fill="#fff"/>
<rect x="246" y="339" width="1" height="40" fill="#000"/>
<rect x="244" y="357" width="5" height="21" fill="#000"/>
<rect x="254" y="258" width="1" height="119" fill="#000"/>
<rect x="252" y="259" width="5" height="118" fill="#000"/>
<rect x="253" y="260" width="3" height="116" fill="#fff"/>
<rect x="262" y="259" width="1" height="45" fill="#000"/>
<rect x="260" y="259" width="5" height="38" fill="#000"/>
<rect x="270" y="254" width="1" height="45" fill="#000"/>
<rect x="268" y="267" width="5" height="30" fill="#000"/>
<rect x="269" y="268" width="3" height="28" fill="#fff"/>
<rect x="278" y="234" width="1" height="35" fill="#000"/>
<rect x="276" y="235" width="5" height="34" fill="#000"/>
<rect x="277" y="236" width="3" height="32" fill="#fff"/>
<rect x="286" y="209" width="1" height="43" fill="#000"/>
<rect x="284" y="216" width="5" height="21" fill="#000"/>
<rect x="285" y="217" width="3" height="19" fill="#fff"/>
<rect x="294" y="191" width="1" height="52" fill="#000"/>
<rect x="292" y="199" width="5" height="19" fill="#000"/>
<rect x="293" y="200" width="3" height="17" fill="#fff"/>
<rect x="302" y="195" width="1" height="33" fill="#000"/>
<rect x="300" y="199" width="5" height="7" fill="#000"/>
<rect x="310" y="200" width="1" height="13" fill="#000"/>
<rect x="308" y="205" width="5" height="4" fill="#000"/>
<rect x="318" y="191" width="1" height="24" fill="#000"/>
<rect x="316" y="201" width="5" height="7" fill="#000"/>
<rect x="317" y="202" width="3" height="5" fill="#fff"/>
<rect x="326" y="187" width="1" height="15" fill="#000"/>
<rect x="324" y="193" width="5" height="8" fill="#000"/>
<rect x="325" y="194" width="3" height="6" fill="#fff"/>
<rect x="334" y="177" width="1" height="20" fill="#000"/>
<rect x="332" y="183" width="5" height="11" fill="#000"/>
<rect x="333" y="184" width="3" height="9" fill="#fff"/>
<rect x="342" y="171" width="1" height="36" fill="#000"/>
<rect x="340" y="184" width="5" height="12" fill="#000"/>
<rect x="350" y="193" width="1" height="28" fill="#000"/>
<rect x="348" y="195" width="5" height="9" fill="#000"/>
<rect x="358" y="190" width="1" height="12" fill="#000"/>
<rect x="356" y="197" width="5" height="5" fill="#000"/>
<rect x="357" y="198" width="3" height="3" fill="#fff"/>
<rect x="366" y="181" width="1" height="20" fill="#000"/>
<rect x="364" y="185" width="5" height="15" fill="#000"/>
<rect x="365" y="186" width="3" height="13" fill="#fff"/>
<rect x="374" y="178" width="1" height="8" fill="#000"/>
<rect x="372" y="182" width="5" height="4" fill="#000"/>
<rect x="373" y="183" width="3" height="2" fill="#fff"/>
<rect x="382" y="125" width="1" height="60" fill="#000"/>
<rect x="380" y="140" width="5" height="44" fill="#000"/>
<rect x="381" y="141" width="3" height="42" fill="#fff"/>
<rect x="390" y="122" width="1" height="28" fill="#000"/>
<rect x="388" y="125" width="5" height="16" fill="#000"/>
<rect x="389" y="126" width="3" height="14" fill="#fff"/>
<rect x="398" y="121" width="1" height="20" fill="#000"/>
<rect x="396" y="125" width="5" height="1" fill="#000"/>
<rect x="406" y="105" width="1" height="27" fill="#000"/>
<rect x="404" y="108" width="5" height="18" fill="#000"/>
<rect x="405" y="109" width="3" height="16" fill="#fff"/>
<rect x="414" y="69" width="1" height="43" fill="#000"/>
<rect x="412" y="95" width="5" height="15" fill="#000"/>
<rect x="413" y="96" width="3" height="13" fill="#fff"/>
<rect x="422" y="85" width="1" height="33" fill="#000"/>
<rect x="420" y="95" width="5" height="20" fill="#000"/>
<rect x="430" y="98" width="1" height="36" fill="#000"/>
<rect x="428" y="114" width="5" height="1" fill="#000"/>
<rect x="438" y="88" width="1" height="37" fill="#000"/>
<rect x="436" y="101" width="5" height="15" fill="#000"/>
<rect x="437" y="102" width="3" height="13" fill="#fff"/>
<rect x="446" y="88" width="1" height="51" fill="#000"/>
<rect x="444" y="101" width="5" height="12" fill="#000"/>
<rect x="454" y="109" width="1" height="39" fill="#000"/>
<rect x="452" y="111" width="5" height="30" fill="#000"/>
<rect x="462" y="115" width="1" height="23" fill="#000"/>
<rect x="460" y="130" width="5" height="8" fill="#000"/>
<rect x="461" y="131" width="3" height="6" fill="#fff"/>
<rect x="470" y="120" width="1" height="17" fill="#000"/>
<rect x="468" y="126" width="5" height="5" fill="#000"/>
<rect x="469" y="127" width="3" height="3" fill="#fff"/>
<rect x="478" y="120" width="1" height="25" fill="#000"/>
<rect x="476" y="128" width="5" height="13" fill="#000"/>
<rect x="486" y="112" width="1" height="40" fill="#000"/>
<rect x="484" y="113" width="5" height="28" fill="#000"/>
<rect x="485" y="114" width="3" height="26" fill="#fff"/>
<rect x="494" y="110" width="1" height="28" fill="#000"/>
<rect x="492" y="113" width="5" height="14" fill="#000"/>
<rect x="502" y="125" width="1" height="15" fill="#000"/>
<rect x="500" y="126" width="5" height="8" fill="#000"/>
<rect x="510" y="112" width="1" height="24" fill="#000"/>
<rect x="508" y="123" width="5" height="11" fill="#000"/>
<rect x="509" y="124" width="3" height="9" fill="#fff"/>
<rect x="518" y="115" width="1" height="12" fill="#000"/>
<rect x="516" y="116" width="5" height="8" fill="#000"/>
<rect x="517" y="117" width="3" height="6" fill="#fff"/>
<rect x="526" y="98" width="1" height="23" fill="#000"/>
<rect x="524" y="115" width="5" height="1" fill="#000"/>
<rect x="534" y="83" width="1" height="42" fill="#000"/>
<rect x="532" y="88" width="5" height="29" fill="#000"/>
<rect x="533" y="89" width="3" height="27" fill="#fff"/>
<rect x="542" y="76" width="1" height="13" fill="#000"/>
<rect x="540" y="86" width="5" height="2" fill="#000"/>
<rect x="550" y="64" width="1" height="23" fill="#000"/>
<rect x="548" y="75" width="5" height="12" fill="#000"/>
<rect x="549" y="76" width="3" height="10" fill="#fff"/>
<rect x="558" y="54" width="1" height="28" fill="#000"/>
<rect x="556" y="68" width="5" height="10" fill="#000"/>
<rect x="557" y="69" width="3" height="8" fill="#fff"/>
<rect x="566" y="61" width="1" height="15" fill="#000"/>
<rect x="564" y="69" width="5" height="1" fill="#000"/>
<rect x="574" y="64" width="1" height="31" fill="#000"/>
<rect x="572" y="69" width="5" height="13" fill="#000"/>
<rect x="582" y="69" width="1" height="33" fill="#000"/>
<rect x="580" y="78" width="5" height="4" fill="#000"/>
<rect x="581" y="79" width="3" height="2" fill="#fff"/>
<rect x="590" y="71" width="1" height="19" fill="#000"/>
<rect x="588" y="78" width="5" height="5" fill="#000"/>
<rect x="598" y="74" width="1" height="13" fill="#000"/>
<rect x="596" y="74" width="5" height="12" fill="#000"/>
<rect x="597" y="75" width="3" height="10" fill="#fff"/>
<rect x="606" y="68" width="1" height="13" fill="#000"/>
<rect x="604" y="74" width="5" height="1" fill="#000"/>
<rect x="614" y="72" width="1" height="17" fill="#000"/>
<rect x="612" y="74" width="5" height="14" fill="#000"/>
<rect x="622" y="73" width="1" height="16" fill="#000"/>
<rect x="620" y="74" width="5" height="12" fill="#000"/>
<rect x="621" y="75" width="3" height="10" fill="#fff"/>
<rect x="630" y="72" width="1" height="13" fill="#000"/>
<rect x="628" y="74" width="5" height="7" fill="#000"/>
<rect x="638" y="74" width="1" height="7" fill="#000"/>
<rect x="636" y="80" width="5" height="1" fill="#000"/>
<rect x="646" y="74" width="1" height="9" fill="#000"/>
<rect x="644" y="77" width="5" height="4" fill="#000"/>
<rect x="645" y="78" width="3" height="2" fill="#fff"/>
<rect x="654" y="67" width="1" height="64" fill="#000"/>
<rect x="652" y="76" width="5" height="41" fill="#000"/>
<rect x="662" y="106" width="1" height="27" fill="#000"/>
<rect x="660" y="114" width="5" height="4" fill="#000"/>
<rect x="661" y="115" width="3" height="2" fill="#fff"/>
<rect x="670" y="95" width="1" height="32" fill="#000"/>
<rect x="668" y="99" width="5" height="17" fill="#000"/>
<rect x="669" y="100" width="3" height="15" fill="#fff"/>
<rect x="678" y="87" width="1" height="50" fill="#000"/>
<rect x="676" y="100" width="5" height="29" fill="#000"/>
<rect x="686" y="115" width="1" height="42" fill="#000"/>
<rect x="684" y="128" width="5" height="24" fill="#000"/>
<rect x="694" y="123" width="1" height="30" fill="#000"/>
<rect x="692" y="127" width="5" height="25" fill="#000"/>
<rect x="693" y="128" width="3" height="23" fill="#fff"/>
<rect x="702" y="91" width="1" height="46" fill="#000"/>
<rect x="700" y="104" width="5" height="23" fill="#000"/>
<rect x="701" y="105" width="3" height="21" fill="#fff"/>
<rect x="710" y="98" width="1" height="18" fill="#000"/>
<rect x="708" y="105" width="5" height="5" fill="#000"/>
<rect x="718" y="109" width="1" height="15" fill="#000"/>
<rect x="716" y="109" width="5" height="3" fill="#000"/>
<rect x="726" y="110" width="1" height="34" fill="#000"/>
<rect x="724" y="111" width="5" height="18" fill="#000"/>
<rect x="734" y="122" width="1" height="18" fill="#000"/>
<rect x="732" y="128" width="5" height="4" fill="#000"/>
<rect x="742" y="131" width="1" height="46" fill="#000"/>
<rect x="740" y="132" width="5" height="30" fill="#000"/>
<rect x="750" y="156" width="1" height="34" fill="#000"/>
<rect x="748" y="161" width="5" height="26" fill="#000"/>
<rect x="758" y="181" width="1" height="26" fill="#000"/>
<rect x="756" y="186" width="5" height="1" fill="#000"/>
<rect x="766" y="180" width="1" height="29" fill="#000"/>
<rect x="764" y="181" width="5" height="5" fill="#000"/>
<rect x="765" y="182" width="3" height="3" fill="#fff"/>
<rect x="774" y="178" width="1" height="66" fill="#000"/>
<rect x="772" y="181" width="5" height="52" fill="#000"/>
<rect x="782" y="200" width="1" height="52" fill="#000"/>
<rect x="780" y="203" width="5" height="29" fill="#000"/>
<rect x="781" y="204" width="3" height="27" fill="#fff"/>
<rect x="790" y="193" width="1" height="23" fill="#000"/>
<rect x="788" y="194" width="5" height="10" fill="#000"/>
<rect x="789" y="195" width="3" height="8" fill="#fff"/>
<rect x="798" y="192" width="1" height="28" fill="#000"/>
<rect x="796" y="194" width="5" height="18" fill="#000"/>
<rect x="806" y="195" width="1" height="19" fill="#000"/>
<rect x="804" y="198" width="5" height="15" fill="#000"/>
<rect x="805" y="199" width="3" height="13" fill="#fff"/>
<rect x="814" y="177" width="1" height="27" fill="#000"/>
<rect x="812" y="185" width="5" height="15" fill="#000"/>
<rect x="813" y="186" width="3" height="13" fill="#fff"/>
<rect x="822" y="183" width="1" height="60" fill="#000"/>
<rect x="820" y="184" width="5" height="36" fill="#000"/>
<rect x="830" y="214" width="1" height="57" fill="#000"/>
<rect x="828" y="218" width="5" height="37" fill="#000"/>
<rect x="838" y="314" width="1" height="43" fill="#000"/>
<rect x="836" y="322" width="5" height="21" fill="#000"/>
<rect x="846" y="291" width="1" height="52" fill="#000"/>
<rect x="844" y="297" width="5" height="46" fill="#000"/>
<rect x="845" y="298" width="3" height="44" fill="#fff"/>
<rect x="854" y="280" width="1" height="23" fill="#000"/>
<rect x="852" y="293" width="5" height="5" fill="#000"/>
<rect x="853" y="294" width="3" height="3" fill="#fff"/>
<rect x="862" y="277" width="1" height="60" fill="#000"/>
<rect x="860" y="292" width="5" height="32" fill="#000"/>
<rect x="870" y="285" width="1" height="48" fill="#000"/>
<rect x="868" y="321" width="5" height="2" fill="#000"/>
<rect x="878" y="292" width="1" height="37" fill="#000"/>
<rect x="876" y="319" width="5" height="3" fill="#000"/>
<rect x="877" y="320" width="3" height="1" fill="#fff"/>
<rect x="886" y="311" width="1" height="20" fill="#000"/>
<rect x="884" y="317" width="5" height="3" fill="#000"/>
<rect x="885" y="318" width="3" height="1" fill="#fff"/>
<rect x="894" y="294" width="1" height="46" fill="#000"/>
<rect x="892" y="303" width="5" height="16" fill="#000"/>
<rect x="893" y="304" width="3" height="14" fill="#fff"/>
<rect x="902" y="284" width="1" height="31" fill="#000"/>
<rect x="900" y="287" width="5" height="17" fill="#000"/>
<rect x="901" y="288" width="3" height="15" fill="#fff"/>
<rect x="910" y="287" width="1" height="64" fill="#000"/>
<rect x="908" y="287" width="5" height="38" fill="#000"/>
<rect x="918" y="265" width="1" height="66" fill="#000"/>
<rect x="916" y="276" width="5" height="49" fill="#000"/>
<rect x="917" y="277" width="3" height="47" fill="#fff"/>
<rect x="926" y="266" width="1" height="21" fill="#000"/>
<rect x="924" y="275" width="5" height="2" fill="#000"/>
<rect x="934" y="259" width="1" height="30" fill="#000"/>
<rect x="932" y="277" width="5" height="1" fill="#000"/>
<rect x="942" y="258" width="1" height="32" fill="#000"/>
<rect x="940" y="264" width="5" height="15" fill="#000"/>
<rect x="941" y="265" width="3" height="13" fill="#fff"/>
<rect x="950" y="262" width="1" height="35" fill="#000"/>
<rect x="948" y="264" width="5" height="21" fill="#000"/>
<rect x="958" y="274" width="1" height="29" fill="#000"/>
<rect x="956" y="285" width="5" height="4" fill="#000"/>
<rect x="966" y="268" width="1" height="41" fill="#000"/>
<rect x="964" y="273" width="5" height="16" fill="#000"/>
<rect x="965" y="274" width="3" height="14" fill="#fff"/>
<rect x="974" y="254" width="1" height="44" fill="#000"/>
<rect x="972" y="273" width="5" height="25" fill="#000"/>
<rect x="982" y="284" width="1" height="30" fill="#000"/>
<rect x="980" y="294" width="5" height="13" fill="#000"/>
<rect x="990" y="295" width="1" height="36" fill="#000"/>
<rect x="988" y="304" width="5" height="24" fill="#000"/>
<rect x="998" y="312" width="1" height="30" fill="#000"/>
<rect x="996" y="327" width="5" height="4" fill="#000"/>
<rect x="1006" y="308" width="1" height="32" fill="#000"/>
<rect x="1004" y="324" width="5" height="7" fill="#000"/>
<rect x="1005" y="325" width="3" height="5" fill="#fff"/>
<rect x="1014" y="304" width="1" height="68" fill="#000"/>
<rect x="1012" y="324" width="5" height="44" fill="#000"/>
<rect x="1022" y="334" width="1" height="51" fill="#000"/>
<rect x="1020" y="348" width="5" height="21" fill="#000"/>
<rect x="1021" y="349" width="3" height="19" fill="#fff"/>
<rect x="1030" y="304" width="1" height="47" fill="#000"/>
<rect x="1028" y="325" width="5" height="23" fill="#000"/>
<rect x="1029" y="326" width="3" height="21" fill="#fff"/>
<rect x="1038" y="277" width="1" height="47" fill="#000"/>
<rect x="1036" y="289" width="5" height="34" fill="#000"/>
<rect x="1037" y="290" width="3" height="32" fill="#fff"/>
<rect x="1046" y="283" width="1" height="21" fill="#000"/>
<rect x="1044" y="289" width="5" height="6" fill="#000"/>
<rect x="1054" y="290" width="1" height="36" fill="#000"/>
<rect x="1052" y="296" width="5" height="24" fill="#000"/>
<rect x="1062" y="310" width="1" height="118" fill="#000"/>
<rect x="1060" y="319" width="5" height="101" fill="#000"/>
<rect x="1070" y="395" width="1" height="43" fill="#000"/>
<rect x="1068" y="419" width="5" height="11" fill="#000"/>
<rect x="1078" y="417" width="1" height="18" fill="#000"/>
<rect x="1076" y="422" width="5" height="8" fill="#000"/>
<rect x="1077" y="423" width="3" height="6" fill="#fff"/>
<rect x="1086" y="385" width="1" height="42" fill="#000"/>
<rect x="1084" y="392" width="5" height="32" fill="#000"/>
<rect x="1085" y="393" width="3" height="30" fill="#fff"/>
<rect x="1094" y="362" width="1" height="44" fill="#000"/>
<rect x="1092" y="376" width="5" height="16" fill="#000"/>
<rect x="1093" y="377" width="3" height="14" fill="#fff"/>
<rect x="1102" y="371" width="1" height="46" fill="#000"/>
<rect x="1100" y="376" width="5" height="20" fill="#000"/>
<rect x="1110" y="343" width="1" height="61" fill="#000"/>
<rect x="1108" y="359" width="5" height="37" fill="#000"/>
<rect x="1109" y="360" width="3" height="35" fill="#fff"/>
<rect x="1118" y="359" width="1" height="38" fill="#000"/>
<rect x="1116" y="359" width="5" height="8" fill="#000"/>
<rect x="1126" y="353" width="1" height="32" fill="#000"/>
<rect x="1124" y="367" width="5" height="11" fill="#000"/>
<rect x="1134" y="346" width="1" height="46" fill="#000"/>
<rect x="1132" y="363" width="5" height="16" fill="#000"/>
<rect x="1133" y="364" width="3" height="14" fill="#fff"/>
<rect x="1142" y="314" width="1" height="49" fill="#000"/>
<rect x="1140" y="315" width="5" height="48" fill="#000"/>
<rect x="1141" y="316" width="3" height="46" fill="#fff"/>
<rect x="1150" y="278" width="1" height="42" fill="#000"/>
<rect x="1148" y="297" width="5" height="20" fill="#000"/>
<rect x="1149" y="298" width="3" height="18" fill="#fff"/>
<rect x="1158" y="234" width="1" height="65" fill="#000"/>
<rect x="1156" y="239" width="5" height="59" fill="#000"/>
<rect x="1157" y="240" width="3" height="57" fill="#fff"/>
<rect x="1166" y="199" width="1" height="49" fill="#000"/>
<rect x="1164" y="207" width="5" height="33" fill="#000"/>
<rect x="1165" y="208" width="3" height="31" fill="#fff"/>
<rect x="1174" y="198" width="1" height="23" fill="#000"/>
<rect x="1172" y="207" width="5" height="12" fill="#000"/>
<rect x="1182" y="208" width="1" height="25" fill="#000"/>
<rect x="1180" y="218" width="5" height="1" fill="#000"/>
<rect x="1190" y="210" width="1" height="30" fill="#000"/>
<rect x="1188" y="217" width="5" height="23" fill="#000"/>
<rect x="1198" y="163" width="1" height="83" fill="#000"/>
<rect x="1196" y="192" width="5" height="47" fill="#000"/>
<rect x="1197" y="193" width="3" height="45" fill="#fff"/>
<rect x="1206" y="148" width="1" height="49" fill="#000"/>
<rect x="1204" y="157" width="5" height="36" fill="#000"/>
<rect x="1205" y="158" width="3" height="34" fill="#fff"/>
<rect x="1214" y="139" width="1" height="37" fill="#000"/>
<rect x="1212" y="142" width="5" height="16" fill="#000"/>
<rect x="1213" y="143" width="3" height="14" fill="#fff"/>
<rect x="1222" y="138" width="1" height="16" fill="#000"/>
<rect x="1220" y="142" width="5" height="5" fill="#000"/>
<rect x="1221" y="143" width="3" height="3" fill="#fff"/>
<rect x="1230" y="128" width="1" height="22" fill="#000"/>
<rect x="1228" y="131" width="5" height="11" fill="#000"/>
<rect x="1229" y="132" width="3" height="9" fill="#fff"/>
<rect x="1238" y="114" width="1" height="32" fill="#000"/>
<rect x="1236" y="128" width="5" height="3" fill="#000"/>
<rect x="1237" y="129" width="3" height="1" fill="#fff"/>
<rect x="1246" y="119" width="1" height="32" fill="#000"/>
<rect x="1244" y="125" width="5" height="3" fill="#000"/>
<rect x="1245" y="126" width="3" height="1" fill="#fff"/>
<rect x="1254" y="113" width="1" height="25" fill="#000"/>
<rect x="1252" y="116" width="5" height="9" fill="#000"/>
<rect x="1253" y="117" width="3" height="7" fill="#fff"/>
<rect x="1262" y="110" width="1" height="23" fill="#000"/>
<rect x="1260" y="115" width="5" height="1" fill="#000"/>
<rect x="1270" y="107" width="1" height="15" fill="#000"/>
<rect x="1268" y="114" width="5" height="3" fill="#000"/>
<rect x="1278" y="113" width="1" height="4" fill="#000"/>
<rect x="1276" y="114" width="5" height="3" fill="#000"/>
<rect x="1277" y="115" width="3" height="1" fill="#fff"/>
</g>
<rect x="1193" y="139" width="125" height="10" fill="#00ff00"/>
<g shape-rendering="crispEdges">
<line x1="1072.9" y1="428.7" x2="1302.3" y2="65.8" stroke="#ff0000" stroke-width="3.3" stroke-linecap="round"/>
<polygon points="1307.6,55.2 1298.2,62.6 1305.5,67.6" fill="#ff0000" stroke="#ff0000" stroke-width="1.3" stroke-linejoin="round"/>
</g>
<polygon points="1286,27 1296,27 1291,32" fill="#c4c4c4"/>
<rect x="1441.5" y="131.5" width="73" height="24" fill="#fff" stroke="#ff0000" stroke-width="1"/>
<rect x="1431" y="143" width="8" height="1" fill="#ff0000"/>
<rect x="1438.5" y="141.5" width="2" height="3" fill="#fff" stroke="#ff0000" stroke-width="1"/>
<text x="1443.5" y="152.2" font-size="22.5" fill="#ff0000" font-family="'Liberation Sans', Arial, sans-serif" textLength="69" lengthAdjust="spacingAndGlyphs">109.821</text>
<text x="1352" y="197" font-size="31" fill="#000" font-family="'Liberation Serif', 'Noto Serif CJK SC', serif" font-weight="500" textLength="160" lengthAdjust="spacingAndGlyphs" stroke="#000" stroke-width="0.45">多空转折点</text>
<text x="1351" y="196" font-size="31" fill="#00ff00" font-family="'Liberation Serif', 'Noto Serif CJK SC', serif" font-weight="500" textLength="160" lengthAdjust="spacingAndGlyphs" stroke="#00ff00" stroke-width="0.45">多空转折点</text>
<rect x="579" y="15" width="2" height="37" fill="#000"/>
<rect x="579" y="26" width="2" height="1" fill="#fff"/>
<rect x="579" y="42" width="2" height="1" fill="#00ffff"/>
<rect x="579" y="22" width="2" height="2" fill="#6a6a6a"/>
<g clip-path="url(#cmacd)">
<rect x="6" y="668" width="1" height="55" fill="#c0c0c0"/>
<rect x="14" y="668" width="1" height="57" fill="#c0c0c0"/>
<rect x="22" y="668" width="1" height="55" fill="#c0c0c0"/>
<rect x="30" y="668" width="1" height="53" fill="#c0c0c0"/>
<rect x="38" y="668" width="1" height="49" fill="#c0c0c0"/>
<rect x="46" y="668" width="1" height="46" fill="#c0c0c0"/>
<rect x="54" y="668" width="1" height="53" fill="#c0c0c0"/>
<rect x="62" y="668" width="1" height="53" fill="#c0c0c0"/>
<rect x="70" y="668" width="1" height="52" fill="#c0c0c0"/>
<rect x="78" y="668" width="1" height="57" fill="#c0c0c0"/>
<rect x="86" y="668" width="1" height="66" fill="#c0c0c0"/>
<rect x="94" y="668" width="1" height="70" fill="#c0c0c0"/>
<rect x="102" y="668" width="1" height="73" fill="#c0c0c0"/>
<rect x="110" y="668" width="1" height="75" fill="#c0c0c0"/>
<rect x="118" y="668" width="1" height="76" fill="#c0c0c0"/>
<rect x="126" y="668" width="1" height="74" fill="#c0c0c0"/>
<rect x="134" y="668" width="1" height="71" fill="#c0c0c0"/>
<rect x="142" y="668" width="1" height="69" fill="#c0c0c0"/>
<rect x="150" y="668" width="1" height="61" fill="#c0c0c0"/>
<rect x="158" y="668" width="1" height="52" fill="#c0c0c0"/>
<rect x="166" y="668" width="1" height="45" fill="#c0c0c0"/>
<rect x="174" y="668" width="1" height="37" fill="#c0c0c0"/>
<rect x="182" y="668" width="1" height="34" fill="#c0c0c0"/>
<rect x="190" y="668" width="1" height="30" fill="#c0c0c0"/>
<rect x="198" y="668" width="1" height="22" fill="#c0c0c0"/>
<rect x="206" y="668" width="1" height="17" fill="#c0c0c0"/>
<rect x="214" y="668" width="1" height="24" fill="#c0c0c0"/>
<rect x="222" y="668" width="1" height="21" fill="#c0c0c0"/>
<rect x="230" y="668" width="1" height="18" fill="#c0c0c0"/>
<rect x="238" y="668" width="1" height="9" fill="#c0c0c0"/>
<rect x="246" y="668" width="1" height="4" fill="#c0c0c0"/>
<rect x="254" y="656" width="1" height="13" fill="#c0c0c0"/>
<rect x="262" y="648" width="1" height="21" fill="#c0c0c0"/>
<rect x="270" y="638" width="1" height="31" fill="#c0c0c0"/>
<rect x="278" y="628" width="1" height="41" fill="#c0c0c0"/>
<rect x="286" y="618" width="1" height="51" fill="#c0c0c0"/>
<rect x="294" y="609" width="1" height="60" fill="#c0c0c0"/>
<rect x="302" y="604" width="1" height="65" fill="#c0c0c0"/>
<rect x="310" y="601" width="1" height="68" fill="#c0c0c0"/>
<rect x="318" y="598" width="1" height="71" fill="#c0c0c0"/>
<rect x="326" y="596" width="1" height="73" fill="#c0c0c0"/>
<rect x="334" y="594" width="1" height="75" fill="#c0c0c0"/>
<rect x="342" y="595" width="1" height="74" fill="#c0c0c0"/>
<rect x="350" y="597" width="1" height="72" fill="#c0c0c0"/>
<rect x="358" y="599" width="1" height="70" fill="#c0c0c0"/>
<rect x="366" y="600" width="1" height="69" fill="#c0c0c0"/>
<rect x="374" y="602" width="1" height="67" fill="#c0c0c0"/>
<rect x="382" y="599" width="1" height="70" fill="#c0c0c0"/>
<rect x="390" y="596" width="1" height="73" fill="#c0c0c0"/>
<rect x="398" y="595" width="1" height="74" fill="#c0c0c0"/>
<rect x="406" y="593" width="1" height="76" fill="#c0c0c0"/>
<rect x="414" y="591" width="1" height="78" fill="#c0c0c0"/>
<rect x="422" y="592" width="1" height="77" fill="#c0c0c0"/>
<rect x="430" y="594" width="1" height="75" fill="#c0c0c0"/>
<rect x="438" y="595" width="1" height="74" fill="#c0c0c0"/>
<rect x="446" y="598" width="1" height="71" fill="#c0c0c0"/>
<rect x="454" y="604" width="1" height="65" fill="#c0c0c0"/>
<rect x="462" y="608" width="1" height="61" fill="#c0c0c0"/>
<rect x="470" y="612" width="1" height="57" fill="#c0c0c0"/>
<rect x="478" y="617" width="1" height="52" fill="#c0c0c0"/>
<rect x="486" y="618" width="1" height="51" fill="#c0c0c0"/>
<rect x="494" y="622" width="1" height="47" fill="#c0c0c0"/>
<rect x="502" y="625" width="1" height="44" fill="#c0c0c0"/>
<rect x="510" y="628" width="1" height="41" fill="#c0c0c0"/>
<rect x="518" y="629" width="1" height="40" fill="#c0c0c0"/>
<rect x="526" y="631" width="1" height="38" fill="#c0c0c0"/>
<rect x="534" y="630" width="1" height="39" fill="#c0c0c0"/>
<rect x="542" y="630" width="1" height="39" fill="#c0c0c0"/>
<rect x="550" y="628" width="1" height="41" fill="#c0c0c0"/>
<rect x="558" y="627" width="1" height="42" fill="#c0c0c0"/>
<rect x="566" y="628" width="1" height="41" fill="#c0c0c0"/>
<rect x="574" y="629" width="1" height="40" fill="#c0c0c0"/>
<rect x="582" y="630" width="1" height="39" fill="#c0c0c0"/>
<rect x="590" y="631" width="1" height="38" fill="#c0c0c0"/>
<rect x="598" y="633" width="1" height="36" fill="#c0c0c0"/>
<rect x="606" y="634" width="1" height="35" fill="#c0c0c0"/>
<rect x="614" y="637" width="1" height="32" fill="#c0c0c0"/>
<rect x="622" y="638" width="1" height="31" fill="#c0c0c0"/>
<rect x="630" y="640" width="1" height="29" fill="#c0c0c0"/>
<rect x="638" y="641" width="1" height="28" fill="#c0c0c0"/>
<rect x="646" y="643" width="1" height="26" fill="#c0c0c0"/>
<rect x="654" y="648" width="1" height="21" fill="#c0c0c0"/>
<rect x="662" y="653" width="1" height="16" fill="#c0c0c0"/>
<rect x="670" y="655" width="1" height="14" fill="#c0c0c0"/>
<rect x="678" y="659" width="1" height="10" fill="#c0c0c0"/>
<rect x="686" y="665" width="1" height="4" fill="#c0c0c0"/>
<rect x="694" y="668" width="1" height="1" fill="#c0c0c0"/>
<rect x="702" y="667" width="1" height="2" fill="#c0c0c0"/>
<rect x="710" y="668" width="1" height="1" fill="#c0c0c0"/>
<rect x="718" y="668" width="1" height="1" fill="#c0c0c0"/>
<rect x="726" y="668" width="1" height="1" fill="#c0c0c0"/>
<rect x="734" y="668" width="1" height="3" fill="#c0c0c0"/>
<rect x="742" y="668" width="1" height="9" fill="#c0c0c0"/>
<rect x="750" y="668" width="1" height="15" fill="#c0c0c0"/>
<rect x="758" y="668" width="1" height="19" fill="#c0c0c0"/>
<rect x="766" y="668" width="1" height="22" fill="#c0c0c0"/>
<rect x="774" y="668" width="1" height="29" fill="#c0c0c0"/>
<rect x="782" y="668" width="1" height="32" fill="#c0c0c0"/>
<rect x="790" y="668" width="1" height="32" fill="#c0c0c0"/>
<rect x="798" y="668" width="1" height="34" fill="#c0c0c0"/>
<rect x="806" y="668" width="1" height="34" fill="#c0c0c0"/>
<rect x="814" y="668" width="1" height="32" fill="#c0c0c0"/>
<rect x="822" y="668" width="1" height="33" fill="#c0c0c0"/>
<rect x="830" y="668" width="1" height="38" fill="#c0c0c0"/>
<rect x="838" y="668" width="1" height="49" fill="#c0c0c0"/>
<rect x="846" y="668" width="1" height="54" fill="#c0c0c0"/>
<rect x="854" y="668" width="1" height="56" fill="#c0c0c0"/>
<rect x="862" y="668" width="1" height="60" fill="#c0c0c0"/>
<rect x="870" y="668" width="1" height="63" fill="#c0c0c0"/>
<rect x="878" y="668" width="1" height="64" fill="#c0c0c0"/>
<rect x="886" y="668" width="1" height="64" fill="#c0c0c0"/>
<rect x="894" y="668" width="1" height="61" fill="#c0c0c0"/>
<rect x="902" y="668" width="1" height="57" fill="#c0c0c0"/>
<rect x="910" y="668" width="1" height="57" fill="#c0c0c0"/>
<rect x="918" y="668" width="1" height="52" fill="#c0c0c0"/>
<rect x="926" y="668" width="1" height="47" fill="#c0c0c0"/>
<rect x="934" y="668" width="1" height="43" fill="#c0c0c0"/>
<rect x="942" y="668" width="1" height="38" fill="#c0c0c0"/>
<rect x="950" y="668" width="1" height="36" fill="#c0c0c0"/>
<rect x="958" y="668" width="1" height="34" fill="#c0c0c0"/>
<rect x="966" y="668" width="1" height="30" fill="#c0c0c0"/>
<rect x="974" y="668" width="1" height="30" fill="#c0c0c0"/>
<rect x="982" y="668" width="1" height="30" fill="#c0c0c0"/>
<rect x="990" y="668" width="1" height="32" fill="#c0c0c0"/>
<rect x="998" y="668" width="1" height="34" fill="#c0c0c0"/>
<rect x="1006" y="668" width="1" height="34" fill="#c0c0c0"/>
<rect x="1014" y="668" width="1" height="38" fill="#c0c0c0"/>
<rect x="1022" y="668" width="1" height="39" fill="#c0c0c0"/>
<rect x="1030" y="668" width="1" height="37" fill="#c0c0c0"/>
<rect x="1038" y="668" width="1" height="31" fill="#c0c0c0"/>
<rect x="1046" y="668" width="1" height="27" fill="#c0c0c0"/>
<rect x="1054" y="668" width="1" height="25" fill="#c0c0c0"/>
<rect x="1062" y="668" width="1" height="35" fill="#c0c0c0"/>
<rect x="1070" y="668" width="1" height="41" fill="#c0c0c0"/>
<rect x="1078" y="668" width="1" height="47" fill="#c0c0c0"/>
<rect x="1086" y="668" width="1" height="47" fill="#c0c0c0"/>
<rect x="1094" y="668" width="1" height="45" fill="#c0c0c0"/>
<rect x="1102" y="668" width="1" height="45" fill="#c0c0c0"/>
<rect x="1110" y="668" width="1" height="41" fill="#c0c0c0"/>
<rect x="1118" y="668" width="1" height="38" fill="#c0c0c0"/>
<rect x="1126" y="668" width="1" height="36" fill="#c0c0c0"/>
<rect x="1134" y="668" width="1" height="33" fill="#c0c0c0"/>
<rect x="1142" y="668" width="1" height="25" fill="#c0c0c0"/>
<rect x="1150" y="668" width="1" height="17" fill="#c0c0c0"/>
<rect x="1158" y="668" width="1" height="3" fill="#c0c0c0"/>
<rect x="1166" y="659" width="1" height="10" fill="#c0c0c0"/>
<rect x="1174" y="650" width="1" height="19" fill="#c0c0c0"/>
<rect x="1182" y="643" width="1" height="26" fill="#c0c0c0"/>
<rect x="1190" y="640" width="1" height="29" fill="#c0c0c0"/>
<rect x="1198" y="633" width="1" height="36" fill="#c0c0c0"/>
<rect x="1206" y="625" width="1" height="44" fill="#c0c0c0"/>
<rect x="1214" y="617" width="1" height="52" fill="#c0c0c0"/>
<rect x="1222" y="612" width="1" height="57" fill="#c0c0c0"/>
<rect x="1230" y="607" width="1" height="62" fill="#c0c0c0"/>
<rect x="1238" y="604" width="1" height="65" fill="#c0c0c0"/>
<rect x="1246" y="601" width="1" height="68" fill="#c0c0c0"/>
<rect x="1254" y="599" width="1" height="70" fill="#c0c0c0"/>
<rect x="1262" y="599" width="1" height="70" fill="#c0c0c0"/>
<rect x="1270" y="599" width="1" height="70" fill="#c0c0c0"/>
<rect x="1278" y="600" width="1" height="69" fill="#c0c0c0"/>
<path d="M435 594h2v1h-2zM440 594h3v1h-3zM446 594h2v1h-2zM423 595h2v1h-2zM428 595h3v1h-3zM434 595h1v1h-1zM448 595h1v1h-1zM452 595h3v1h-3zM458 595h2v1h-2zM410 596h3v1h-3zM416 596h3v1h-3zM422 596h1v1h-1zM460 596h1v1h-1zM368 597h3v1h-3zM374 597h3v1h-3zM380 597h3v1h-3zM386 597h3v1h-3zM392 597h3v1h-3zM398 597h3v1h-3zM404 597h3v1h-3zM464 597h3v1h-3zM362 598h3v1h-3zM470 598h3v1h-3zM356 599h3v1h-3zM476 599h1v1h-1zM352 600h1v1h-1zM477 600h2v1h-2zM350 601h2v1h-2zM482 601h1v1h-1zM483 602h2v1h-2zM345 603h2v1h-2zM344 604h1v1h-1zM488 604h2v1h-2zM1274 604h2v1h-2zM490 605h1v1h-1zM1273 605h1v1h-1zM340 606h1v1h-1zM338 607h2v1h-2zM494 607h2v1h-2zM1268 607h2v1h-2zM496 608h1v1h-1zM1267 608h1v1h-1zM333 610h2v1h-2zM500 610h1v1h-1zM1262 610h2v1h-2zM332 611h1v1h-1zM501 611h2v1h-2zM1261 611h1v1h-1zM506 613h1v1h-1zM1257 613h1v1h-1zM328 614h1v1h-1zM507 614h2v1h-2zM1255 614h2v1h-2zM327 615h1v1h-1zM326 616h1v1h-1zM512 616h3v1h-3zM518 617h2v1h-2zM1251 617h1v1h-1zM321 618h2v1h-2zM520 618h1v1h-1zM1250 618h1v1h-1zM320 619h1v1h-1zM524 619h1v1h-1zM1249 619h1v1h-1zM525 620h2v1h-2zM530 622h3v1h-3zM1244 622h2v1h-2zM316 623h1v1h-1zM1243 623h1v1h-1zM315 624h1v1h-1zM536 624h3v1h-3zM314 625h1v1h-1zM542 625h2v1h-2zM544 626h1v1h-1zM548 626h3v1h-3zM1238 626h2v1h-2zM554 627h3v1h-3zM560 627h2v1h-2zM1237 627h1v1h-1zM562 628h1v1h-1zM566 628h3v1h-3zM572 628h3v1h-3zM578 628h3v1h-3zM584 628h2v1h-2zM310 629h1v1h-1zM586 629h1v1h-1zM590 629h3v1h-3zM596 629h3v1h-3zM602 629h3v1h-3zM309 630h1v1h-1zM608 630h3v1h-3zM1233 630h1v1h-1zM308 631h1v1h-1zM614 631h3v1h-3zM1232 631h1v1h-1zM620 632h3v1h-3zM1231 632h1v1h-1zM626 633h3v1h-3zM632 634h3v1h-3zM305 635h1v1h-1zM638 635h2v1h-2zM1227 635h1v1h-1zM304 636h1v1h-1zM640 636h1v1h-1zM644 636h3v1h-3zM650 636h3v1h-3zM1226 636h1v1h-1zM303 637h1v1h-1zM1225 637h1v1h-1zM656 638h1v1h-1zM657 639h2v1h-2zM662 640h2v1h-2zM1221 640h1v1h-1zM300 641h1v1h-1zM664 641h1v1h-1zM668 641h2v1h-2zM1220 641h1v1h-1zM299 642h1v1h-1zM670 642h1v1h-1zM1219 642h1v1h-1zM299 643h1v1h-1zM674 644h3v1h-3zM680 646h2v1h-2zM1215 646h1v1h-1zM295 647h1v1h-1zM682 647h1v1h-1zM1214 647h1v1h-1zM294 648h1v1h-1zM686 648h3v1h-3zM1214 648h1v1h-1zM293 649h1v1h-1zM692 650h2v1h-2zM694 651h1v1h-1zM1210 652h1v1h-1zM290 653h1v1h-1zM698 653h3v1h-3zM1209 653h1v1h-1zM289 654h1v1h-1zM1208 654h1v1h-1zM288 655h1v1h-1zM704 655h2v1h-2zM706 656h1v1h-1zM710 657h1v1h-1zM711 658h2v1h-2zM1204 658h1v1h-1zM284 659h1v1h-1zM1203 659h1v1h-1zM283 660h1v1h-1zM716 660h3v1h-3zM1202 660h1v1h-1zM282 661h1v1h-1zM722 662h3v1h-3zM1198 663h1v1h-1zM728 664h3v1h-3zM1197 664h1v1h-1zM278 665h1v1h-1zM734 665h3v1h-3zM1196 665h1v1h-1zM277 666h1v1h-1zM740 666h3v1h-3zM276 667h1v1h-1zM746 668h2v1h-2zM748 669h1v1h-1zM1192 669h1v1h-1zM271 670h2v1h-2zM752 670h1v1h-1zM1191 670h1v1h-1zM270 671h1v1h-1zM753 671h2v1h-2zM1190 671h1v1h-1zM758 673h3v1h-3zM265 674h2v1h-2zM264 675h1v1h-1zM764 675h2v1h-2zM1186 675h1v1h-1zM766 676h1v1h-1zM1185 676h1v1h-1zM770 677h1v1h-1zM1184 677h1v1h-1zM259 678h2v1h-2zM771 678h2v1h-2zM258 679h1v1h-1zM776 680h2v1h-2zM1180 680h1v1h-1zM778 681h1v1h-1zM1179 681h1v1h-1zM253 682h2v1h-2zM782 682h2v1h-2zM1178 682h1v1h-1zM252 683h1v1h-1zM784 683h1v1h-1zM788 684h2v1h-2zM248 685h1v1h-1zM790 685h1v1h-1zM1174 685h1v1h-1zM246 686h2v1h-2zM1173 686h1v1h-1zM794 687h2v1h-2zM1172 687h1v1h-1zM796 688h1v1h-1zM241 689h2v1h-2zM240 690h1v1h-1zM800 690h1v1h-1zM801 691h2v1h-2zM1168 691h1v1h-1zM235 692h2v1h-2zM806 692h1v1h-1zM1167 692h1v1h-1zM234 693h1v1h-1zM807 693h2v1h-2zM1166 693h1v1h-1zM812 694h1v1h-1zM229 695h2v1h-2zM813 695h2v1h-2zM228 696h1v1h-1zM818 697h3v1h-3zM1161 697h2v1h-2zM222 698h3v1h-3zM824 698h3v1h-3zM1160 698h1v1h-1zM830 699h2v1h-2zM217 700h2v1h-2zM832 700h1v1h-1zM1010 700h3v1h-3zM1016 700h3v1h-3zM1022 700h3v1h-3zM1028 700h3v1h-3zM1034 700h2v1h-2zM1155 700h2v1h-2zM0 701h1v1h-1zM216 701h1v1h-1zM836 701h1v1h-1zM998 701h3v1h-3zM1004 701h3v1h-3zM1036 701h1v1h-1zM1040 701h3v1h-3zM1046 701h3v1h-3zM1052 701h3v1h-3zM1058 701h3v1h-3zM1064 701h3v1h-3zM1070 701h2v1h-2zM1154 701h1v1h-1zM1 702h2v1h-2zM837 702h2v1h-2zM992 702h3v1h-3zM1072 702h1v1h-1zM1076 702h1v1h-1zM211 703h2v1h-2zM987 703h2v1h-2zM1077 703h2v1h-2zM1150 703h1v1h-1zM210 704h1v1h-1zM842 704h3v1h-3zM986 704h1v1h-1zM1082 704h3v1h-3zM1149 704h1v1h-1zM6 705h1v1h-1zM1088 705h3v1h-3zM1094 705h3v1h-3zM1100 705h2v1h-2zM1148 705h1v1h-1zM7 706h2v1h-2zM848 706h2v1h-2zM981 706h2v1h-2zM1102 706h1v1h-1zM1106 706h2v1h-2zM1144 706h1v1h-1zM206 707h1v1h-1zM850 707h1v1h-1zM980 707h1v1h-1zM1108 707h1v1h-1zM1112 707h3v1h-3zM1142 707h2v1h-2zM204 708h2v1h-2zM854 708h3v1h-3zM974 708h3v1h-3zM1118 708h3v1h-3zM1136 708h3v1h-3zM12 709h1v1h-1zM970 709h1v1h-1zM1124 709h3v1h-3zM1130 709h3v1h-3zM13 710h2v1h-2zM860 710h2v1h-2zM968 710h2v1h-2zM862 711h1v1h-1zM200 712h1v1h-1zM866 712h1v1h-1zM963 712h2v1h-2zM18 713h2v1h-2zM199 713h1v1h-1zM867 713h2v1h-2zM962 713h1v1h-1zM20 714h1v1h-1zM198 714h1v1h-1zM24 715h1v1h-1zM872 715h1v1h-1zM957 715h2v1h-2zM25 716h2v1h-2zM873 716h2v1h-2zM956 716h1v1h-1zM30 717h3v1h-3zM194 717h1v1h-1zM36 718h3v1h-3zM42 718h2v1h-2zM192 718h2v1h-2zM878 718h2v1h-2zM951 718h2v1h-2zM44 719h1v1h-1zM48 719h3v1h-3zM880 719h1v1h-1zM950 719h1v1h-1zM54 720h3v1h-3zM60 720h3v1h-3zM66 720h3v1h-3zM72 720h3v1h-3zM78 720h3v1h-3zM945 720h2v1h-2zM84 721h1v1h-1zM188 721h1v1h-1zM884 721h3v1h-3zM944 721h1v1h-1zM85 722h2v1h-2zM187 722h1v1h-1zM939 722h2v1h-2zM90 723h3v1h-3zM186 723h1v1h-1zM890 723h2v1h-2zM938 723h1v1h-1zM96 724h3v1h-3zM892 724h1v1h-1zM933 724h2v1h-2zM896 725h1v1h-1zM932 725h1v1h-1zM102 726h1v1h-1zM181 726h2v1h-2zM897 726h2v1h-2zM926 726h3v1h-3zM103 727h2v1h-2zM180 727h1v1h-1zM902 727h3v1h-3zM914 727h3v1h-3zM920 727h3v1h-3zM908 728h3v1h-3zM108 729h3v1h-3zM175 729h2v1h-2zM114 730h3v1h-3zM174 730h1v1h-1zM120 731h1v1h-1zM121 732h2v1h-2zM168 732h3v1h-3zM126 734h3v1h-3zM163 734h2v1h-2zM132 735h3v1h-3zM162 735h1v1h-1zM138 736h3v1h-3zM144 737h3v1h-3zM156 737h3v1h-3zM150 738h3v1h-3z" fill="#ff0000"/>
</g>
<g clip-path="url(#crsi)">
<line x1="0" y1="789.5" x2="1617" y2="789.5" stroke="#c0c0c0" stroke-width="1" stroke-dasharray="3,3" stroke-dashoffset="1"/>
<line x1="0" y1="840.5" x2="1617" y2="840.5" stroke="#c0c0c0" stroke-width="1" stroke-dasharray="3,3" stroke-dashoffset="1"/>
<line x1="0" y1="901.5" x2="1617" y2="901.5" stroke="#c0c0c0" stroke-width="1" stroke-dasharray="3,3" stroke-dashoffset="1"/>
<path d="M412 796h3v1h-3zM408 797h4v1h-4zM415 797h1v1h-1zM405 798h3v1h-3zM416 798h1v1h-1zM402 799h3v1h-3zM416 799h1v1h-1zM400 800h2v1h-2zM417 800h1v1h-1zM389 801h11v1h-11zM418 801h1v1h-1zM386 802h3v1h-3zM419 802h1v1h-1zM1250 802h29v1h-29zM384 803h2v1h-2zM420 803h1v1h-1zM437 803h2v1h-2zM1236 803h14v1h-14zM382 804h2v1h-2zM420 804h1v1h-1zM434 804h3v1h-3zM439 804h1v1h-1zM1232 804h4v1h-4zM381 805h1v1h-1zM421 805h1v1h-1zM432 805h2v1h-2zM440 805h2v1h-2zM1228 805h4v1h-4zM380 806h1v1h-1zM422 806h10v1h-10zM442 806h1v1h-1zM1210 806h8v1h-8zM1224 806h4v1h-4zM379 807h1v1h-1zM443 807h1v1h-1zM554 807h13v1h-13zM1206 807h4v1h-4zM1218 807h6v1h-6zM378 808h1v1h-1zM444 808h2v1h-2zM549 808h5v1h-5zM567 808h1v1h-1zM1204 808h2v1h-2zM332 809h4v1h-4zM377 809h1v1h-1zM446 809h1v1h-1zM546 809h3v1h-3zM568 809h1v1h-1zM1202 809h2v1h-2zM328 810h4v1h-4zM336 810h2v1h-2zM376 810h1v1h-1zM447 810h1v1h-1zM544 810h2v1h-2zM569 810h1v1h-1zM1201 810h1v1h-1zM292 811h6v1h-6zM322 811h6v1h-6zM338 811h3v1h-3zM375 811h1v1h-1zM447 811h1v1h-1zM534 811h10v1h-10zM570 811h1v1h-1zM1166 811h1v1h-1zM1199 811h2v1h-2zM288 812h4v1h-4zM298 812h8v1h-8zM314 812h8v1h-8zM341 812h2v1h-2zM365 812h10v1h-10zM448 812h1v1h-1zM533 812h1v1h-1zM571 812h1v1h-1zM1164 812h2v1h-2zM1167 812h2v1h-2zM1198 812h1v1h-1zM284 813h4v1h-4zM306 813h8v1h-8zM343 813h2v1h-2zM362 813h3v1h-3zM448 813h1v1h-1zM532 813h1v1h-1zM572 813h1v1h-1zM597 813h10v1h-10zM1162 813h2v1h-2zM1169 813h2v1h-2zM1197 813h1v1h-1zM280 814h4v1h-4zM345 814h2v1h-2zM360 814h2v1h-2zM449 814h1v1h-1zM532 814h1v1h-1zM573 814h1v1h-1zM578 814h6v1h-6zM594 814h3v1h-3zM607 814h1v1h-1zM1161 814h1v1h-1zM1171 814h2v1h-2zM1196 814h1v1h-1zM254 815h1v1h-1zM277 815h3v1h-3zM347 815h2v1h-2zM354 815h6v1h-6zM450 815h1v1h-1zM531 815h1v1h-1zM574 815h4v1h-4zM584 815h4v1h-4zM592 815h2v1h-2zM608 815h1v1h-1zM1159 815h2v1h-2zM1173 815h10v1h-10zM1196 815h1v1h-1zM254 816h2v1h-2zM275 816h2v1h-2zM349 816h5v1h-5zM450 816h1v1h-1zM530 816h1v1h-1zM588 816h4v1h-4zM608 816h1v1h-1zM1158 816h1v1h-1zM1183 816h1v1h-1zM1195 816h1v1h-1zM253 817h1v1h-1zM256 817h1v1h-1zM273 817h2v1h-2zM451 817h1v1h-1zM486 817h1v1h-1zM529 817h1v1h-1zM609 817h1v1h-1zM622 817h1v1h-1zM1157 817h1v1h-1zM1184 817h1v1h-1zM1194 817h1v1h-1zM253 818h1v1h-1zM257 818h1v1h-1zM271 818h2v1h-2zM452 818h1v1h-1zM466 818h5v1h-5zM485 818h1v1h-1zM487 818h1v1h-1zM528 818h1v1h-1zM610 818h1v1h-1zM620 818h2v1h-2zM623 818h2v1h-2zM1157 818h1v1h-1zM1185 818h1v1h-1zM1193 818h1v1h-1zM252 819h1v1h-1zM258 819h1v1h-1zM269 819h2v1h-2zM452 819h1v1h-1zM461 819h5v1h-5zM471 819h1v1h-1zM484 819h1v1h-1zM488 819h2v1h-2zM528 819h1v1h-1zM611 819h1v1h-1zM619 819h1v1h-1zM625 819h1v1h-1zM1156 819h1v1h-1zM1186 819h2v1h-2zM1192 819h1v1h-1zM252 820h1v1h-1zM259 820h1v1h-1zM267 820h2v1h-2zM453 820h1v1h-1zM458 820h3v1h-3zM472 820h1v1h-1zM483 820h1v1h-1zM490 820h1v1h-1zM517 820h5v1h-5zM527 820h1v1h-1zM612 820h1v1h-1zM618 820h1v1h-1zM626 820h2v1h-2zM644 820h3v1h-3zM1156 820h1v1h-1zM1188 820h1v1h-1zM1192 820h1v1h-1zM251 821h1v1h-1zM260 821h1v1h-1zM265 821h2v1h-2zM453 821h1v1h-1zM456 821h2v1h-2zM473 821h1v1h-1zM482 821h1v1h-1zM491 821h1v1h-1zM514 821h3v1h-3zM522 821h5v1h-5zM612 821h1v1h-1zM616 821h2v1h-2zM628 821h2v1h-2zM640 821h4v1h-4zM646 821h1v1h-1zM1155 821h1v1h-1zM1189 821h1v1h-1zM1191 821h1v1h-1zM251 822h1v1h-1zM261 822h1v1h-1zM263 822h2v1h-2zM454 822h2v1h-2zM474 822h2v1h-2zM481 822h1v1h-1zM492 822h2v1h-2zM512 822h2v1h-2zM613 822h1v1h-1zM615 822h1v1h-1zM630 822h10v1h-10zM647 822h1v1h-1zM1154 822h1v1h-1zM1190 822h1v1h-1zM251 823h1v1h-1zM262 823h1v1h-1zM476 823h1v1h-1zM480 823h1v1h-1zM494 823h2v1h-2zM509 823h3v1h-3zM614 823h1v1h-1zM647 823h1v1h-1zM1154 823h1v1h-1zM250 824h1v1h-1zM477 824h1v1h-1zM479 824h1v1h-1zM496 824h2v1h-2zM506 824h3v1h-3zM647 824h1v1h-1zM1153 824h1v1h-1zM250 825h1v1h-1zM478 825h1v1h-1zM498 825h3v1h-3zM504 825h2v1h-2zM647 825h1v1h-1zM1152 825h1v1h-1zM249 826h1v1h-1zM501 826h3v1h-3zM648 826h1v1h-1zM1152 826h1v1h-1zM249 827h1v1h-1zM648 827h1v1h-1zM1151 827h1v1h-1zM249 828h1v1h-1zM648 828h1v1h-1zM1151 828h1v1h-1zM238 829h1v1h-1zM248 829h1v1h-1zM649 829h1v1h-1zM1149 829h2v1h-2zM237 830h1v1h-1zM239 830h2v1h-2zM248 830h1v1h-1zM649 830h1v1h-1zM1147 830h2v1h-2zM237 831h1v1h-1zM241 831h1v1h-1zM247 831h1v1h-1zM649 831h1v1h-1zM1145 831h2v1h-2zM198 832h1v1h-1zM236 832h1v1h-1zM242 832h2v1h-2zM247 832h1v1h-1zM650 832h1v1h-1zM1143 832h2v1h-2zM197 833h1v1h-1zM199 833h2v1h-2zM235 833h1v1h-1zM244 833h3v1h-3zM650 833h1v1h-1zM1142 833h1v1h-1zM197 834h1v1h-1zM201 834h2v1h-2zM235 834h1v1h-1zM246 834h1v1h-1zM650 834h1v1h-1zM1141 834h1v1h-1zM196 835h1v1h-1zM203 835h2v1h-2zM234 835h1v1h-1zM650 835h1v1h-1zM1141 835h1v1h-1zM195 836h1v1h-1zM205 836h2v1h-2zM233 836h1v1h-1zM651 836h1v1h-1zM1140 836h1v1h-1zM195 837h1v1h-1zM206 837h1v1h-1zM233 837h1v1h-1zM651 837h1v1h-1zM670 837h1v1h-1zM1140 837h1v1h-1zM194 838h1v1h-1zM207 838h1v1h-1zM232 838h1v1h-1zM651 838h1v1h-1zM669 838h1v1h-1zM671 838h1v1h-1zM702 838h2v1h-2zM1139 838h1v1h-1zM193 839h1v1h-1zM207 839h1v1h-1zM231 839h1v1h-1zM652 839h1v1h-1zM668 839h1v1h-1zM671 839h1v1h-1zM701 839h1v1h-1zM704 839h4v1h-4zM1139 839h1v1h-1zM193 840h1v1h-1zM207 840h1v1h-1zM231 840h1v1h-1zM652 840h1v1h-1zM667 840h1v1h-1zM672 840h1v1h-1zM701 840h1v1h-1zM708 840h6v1h-6zM1038 840h2v1h-2zM1138 840h1v1h-1zM158 841h2v1h-2zM173 841h2v1h-2zM192 841h1v1h-1zM208 841h1v1h-1zM228 841h3v1h-3zM652 841h1v1h-1zM666 841h1v1h-1zM672 841h1v1h-1zM700 841h1v1h-1zM714 841h5v1h-5zM1037 841h1v1h-1zM1040 841h4v1h-4zM1137 841h1v1h-1zM157 842h1v1h-1zM160 842h2v1h-2zM170 842h3v1h-3zM175 842h1v1h-1zM191 842h1v1h-1zM208 842h1v1h-1zM224 842h4v1h-4zM653 842h1v1h-1zM666 842h1v1h-1zM673 842h1v1h-1zM699 842h1v1h-1zM719 842h1v1h-1zM1037 842h1v1h-1zM1044 842h3v1h-3zM1137 842h1v1h-1zM156 843h1v1h-1zM162 843h3v1h-3zM168 843h2v1h-2zM176 843h1v1h-1zM191 843h1v1h-1zM208 843h1v1h-1zM222 843h2v1h-2zM653 843h1v1h-1zM665 843h1v1h-1zM673 843h1v1h-1zM698 843h1v1h-1zM720 843h1v1h-1zM1036 843h1v1h-1zM1047 843h1v1h-1zM1136 843h1v1h-1zM155 844h1v1h-1zM165 844h3v1h-3zM177 844h1v1h-1zM189 844h2v1h-2zM209 844h1v1h-1zM222 844h1v1h-1zM653 844h1v1h-1zM664 844h1v1h-1zM674 844h1v1h-1zM698 844h1v1h-1zM721 844h1v1h-1zM1036 844h1v1h-1zM1048 844h1v1h-1zM1136 844h1v1h-1zM154 845h1v1h-1zM178 845h2v1h-2zM187 845h2v1h-2zM209 845h1v1h-1zM221 845h1v1h-1zM653 845h1v1h-1zM663 845h1v1h-1zM674 845h1v1h-1zM697 845h1v1h-1zM722 845h1v1h-1zM1035 845h1v1h-1zM1049 845h1v1h-1zM1135 845h1v1h-1zM153 846h1v1h-1zM180 846h1v1h-1zM185 846h2v1h-2zM209 846h1v1h-1zM221 846h1v1h-1zM654 846h1v1h-1zM658 846h5v1h-5zM675 846h1v1h-1zM696 846h1v1h-1zM723 846h1v1h-1zM942 846h1v1h-1zM1034 846h1v1h-1zM1050 846h1v1h-1zM1135 846h1v1h-1zM152 847h1v1h-1zM181 847h1v1h-1zM183 847h2v1h-2zM210 847h1v1h-1zM220 847h1v1h-1zM654 847h4v1h-4zM675 847h1v1h-1zM695 847h1v1h-1zM724 847h1v1h-1zM940 847h2v1h-2zM943 847h1v1h-1zM966 847h1v1h-1zM1034 847h1v1h-1zM1051 847h1v1h-1zM1134 847h1v1h-1zM151 848h1v1h-1zM182 848h1v1h-1zM210 848h1v1h-1zM220 848h1v1h-1zM676 848h1v1h-1zM695 848h1v1h-1zM725 848h1v1h-1zM938 848h2v1h-2zM944 848h2v1h-2zM964 848h2v1h-2zM967 848h1v1h-1zM1033 848h1v1h-1zM1052 848h1v1h-1zM1110 848h4v1h-4zM1132 848h2v1h-2zM150 849h1v1h-1zM210 849h1v1h-1zM219 849h1v1h-1zM676 849h1v1h-1zM694 849h1v1h-1zM726 849h2v1h-2zM937 849h1v1h-1zM946 849h1v1h-1zM963 849h1v1h-1zM968 849h1v1h-1zM1032 849h1v1h-1zM1053 849h1v1h-1zM1109 849h1v1h-1zM1114 849h6v1h-6zM1130 849h2v1h-2zM150 850h1v1h-1zM210 850h1v1h-1zM219 850h1v1h-1zM677 850h1v1h-1zM693 850h1v1h-1zM728 850h4v1h-4zM935 850h2v1h-2zM947 850h1v1h-1zM962 850h1v1h-1zM969 850h1v1h-1zM1032 850h1v1h-1zM1054 850h1v1h-1zM1109 850h1v1h-1zM1120 850h2v1h-2zM1129 850h1v1h-1zM149 851h1v1h-1zM211 851h1v1h-1zM218 851h1v1h-1zM677 851h1v1h-1zM693 851h1v1h-1zM732 851h3v1h-3zM918 851h17v1h-17zM948 851h2v1h-2zM960 851h2v1h-2zM970 851h2v1h-2zM1031 851h1v1h-1zM1054 851h1v1h-1zM1108 851h1v1h-1zM1122 851h3v1h-3zM1127 851h2v1h-2zM149 852h1v1h-1zM211 852h1v1h-1zM218 852h1v1h-1zM678 852h1v1h-1zM692 852h1v1h-1zM735 852h1v1h-1zM918 852h1v1h-1zM950 852h4v1h-4zM959 852h1v1h-1zM972 852h1v1h-1zM1031 852h1v1h-1zM1055 852h1v1h-1zM1107 852h1v1h-1zM1125 852h2v1h-2zM148 853h1v1h-1zM211 853h1v1h-1zM218 853h1v1h-1zM679 853h1v1h-1zM692 853h1v1h-1zM736 853h1v1h-1zM917 853h1v1h-1zM954 853h5v1h-5zM973 853h1v1h-1zM1030 853h1v1h-1zM1055 853h1v1h-1zM1106 853h1v1h-1zM148 854h1v1h-1zM212 854h1v1h-1zM217 854h1v1h-1zM680 854h1v1h-1zM691 854h1v1h-1zM736 854h1v1h-1zM814 854h1v1h-1zM917 854h1v1h-1zM974 854h1v1h-1zM1029 854h1v1h-1zM1055 854h1v1h-1zM1106 854h1v1h-1zM147 855h1v1h-1zM212 855h1v1h-1zM217 855h1v1h-1zM680 855h1v1h-1zM690 855h1v1h-1zM737 855h1v1h-1zM812 855h2v1h-2zM815 855h1v1h-1zM916 855h1v1h-1zM975 855h2v1h-2zM1028 855h1v1h-1zM1056 855h1v1h-1zM1094 855h1v1h-1zM1105 855h1v1h-1zM147 856h1v1h-1zM212 856h1v1h-1zM216 856h1v1h-1zM681 856h1v1h-1zM690 856h1v1h-1zM738 856h1v1h-1zM811 856h1v1h-1zM816 856h1v1h-1zM916 856h1v1h-1zM977 856h2v1h-2zM1027 856h1v1h-1zM1056 856h1v1h-1zM1092 856h2v1h-2zM1095 856h2v1h-2zM1104 856h1v1h-1zM147 857h1v1h-1zM213 857h1v1h-1zM216 857h1v1h-1zM682 857h1v1h-1zM689 857h1v1h-1zM739 857h1v1h-1zM810 857h1v1h-1zM817 857h1v1h-1zM915 857h1v1h-1zM979 857h2v1h-2zM1026 857h1v1h-1zM1057 857h1v1h-1zM1090 857h2v1h-2zM1097 857h2v1h-2zM1103 857h1v1h-1zM146 858h1v1h-1zM213 858h1v1h-1zM215 858h1v1h-1zM683 858h1v1h-1zM688 858h1v1h-1zM740 858h1v1h-1zM808 858h2v1h-2zM818 858h1v1h-1zM902 858h1v1h-1zM915 858h1v1h-1zM981 858h2v1h-2zM1026 858h1v1h-1zM1057 858h1v1h-1zM1089 858h1v1h-1zM1099 858h2v1h-2zM1103 858h1v1h-1zM38 859h4v1h-4zM146 859h1v1h-1zM213 859h1v1h-1zM215 859h1v1h-1zM684 859h1v1h-1zM688 859h1v1h-1zM740 859h1v1h-1zM807 859h1v1h-1zM818 859h1v1h-1zM901 859h1v1h-1zM903 859h1v1h-1zM914 859h1v1h-1zM983 859h2v1h-2zM1025 859h1v1h-1zM1057 859h1v1h-1zM1087 859h2v1h-2zM1101 859h2v1h-2zM37 860h1v1h-1zM42 860h5v1h-5zM145 860h1v1h-1zM214 860h1v1h-1zM684 860h1v1h-1zM687 860h1v1h-1zM741 860h1v1h-1zM790 860h1v1h-1zM806 860h1v1h-1zM819 860h1v1h-1zM900 860h1v1h-1zM904 860h1v1h-1zM914 860h1v1h-1zM985 860h1v1h-1zM1024 860h1v1h-1zM1058 860h1v1h-1zM1086 860h1v1h-1zM36 861h1v1h-1zM46 861h1v1h-1zM62 861h9v1h-9zM145 861h1v1h-1zM214 861h1v1h-1zM685 861h1v1h-1zM687 861h1v1h-1zM742 861h1v1h-1zM788 861h2v1h-2zM791 861h1v1h-1zM804 861h2v1h-2zM820 861h1v1h-1zM899 861h1v1h-1zM905 861h1v1h-1zM913 861h1v1h-1zM986 861h2v1h-2zM1005 861h2v1h-2zM1023 861h1v1h-1zM1058 861h1v1h-1zM1085 861h1v1h-1zM35 862h1v1h-1zM47 862h1v1h-1zM62 862h1v1h-1zM71 862h1v1h-1zM145 862h1v1h-1zM686 862h1v1h-1zM743 862h1v1h-1zM786 862h2v1h-2zM792 862h2v1h-2zM803 862h1v1h-1zM821 862h1v1h-1zM898 862h1v1h-1zM906 862h1v1h-1zM913 862h1v1h-1zM988 862h2v1h-2zM1002 862h3v1h-3zM1007 862h1v1h-1zM1022 862h1v1h-1zM1058 862h1v1h-1zM1085 862h1v1h-1zM34 863h1v1h-1zM47 863h1v1h-1zM61 863h1v1h-1zM71 863h1v1h-1zM144 863h1v1h-1zM744 863h1v1h-1zM785 863h1v1h-1zM794 863h1v1h-1zM802 863h1v1h-1zM822 863h1v1h-1zM897 863h1v1h-1zM906 863h1v1h-1zM912 863h1v1h-1zM990 863h4v1h-4zM1000 863h2v1h-2zM1007 863h1v1h-1zM1021 863h1v1h-1zM1059 863h1v1h-1zM1084 863h1v1h-1zM33 864h1v1h-1zM47 864h1v1h-1zM61 864h1v1h-1zM72 864h1v1h-1zM144 864h1v1h-1zM745 864h1v1h-1zM783 864h2v1h-2zM795 864h1v1h-1zM800 864h2v1h-2zM823 864h1v1h-1zM896 864h1v1h-1zM907 864h1v1h-1zM912 864h1v1h-1zM994 864h6v1h-6zM1008 864h1v1h-1zM1020 864h1v1h-1zM1059 864h1v1h-1zM1083 864h1v1h-1zM32 865h1v1h-1zM48 865h1v1h-1zM61 865h1v1h-1zM72 865h1v1h-1zM143 865h1v1h-1zM746 865h1v1h-1zM782 865h1v1h-1zM796 865h2v1h-2zM799 865h1v1h-1zM824 865h1v1h-1zM895 865h1v1h-1zM908 865h1v1h-1zM911 865h1v1h-1zM1009 865h1v1h-1zM1020 865h1v1h-1zM1059 865h1v1h-1zM1082 865h1v1h-1zM31 866h1v1h-1zM48 866h1v1h-1zM60 866h1v1h-1zM73 866h1v1h-1zM133 866h3v1h-3zM143 866h1v1h-1zM746 866h1v1h-1zM782 866h1v1h-1zM798 866h1v1h-1zM824 866h1v1h-1zM894 866h1v1h-1zM909 866h1v1h-1zM911 866h1v1h-1zM1010 866h1v1h-1zM1019 866h1v1h-1zM1060 866h1v1h-1zM1082 866h1v1h-1zM22 867h9v1h-9zM48 867h1v1h-1zM60 867h1v1h-1zM73 867h1v1h-1zM131 867h2v1h-2zM136 867h4v1h-4zM142 867h1v1h-1zM747 867h1v1h-1zM765 867h2v1h-2zM781 867h1v1h-1zM825 867h1v1h-1zM892 867h2v1h-2zM910 867h1v1h-1zM1010 867h1v1h-1zM1018 867h1v1h-1zM1060 867h1v1h-1zM1081 867h1v1h-1zM21 868h1v1h-1zM49 868h1v1h-1zM60 868h1v1h-1zM74 868h1v1h-1zM129 868h2v1h-2zM140 868h3v1h-3zM748 868h1v1h-1zM762 868h3v1h-3zM767 868h1v1h-1zM781 868h1v1h-1zM826 868h1v1h-1zM852 868h3v1h-3zM890 868h2v1h-2zM1011 868h1v1h-1zM1017 868h1v1h-1zM1061 868h1v1h-1zM1080 868h1v1h-1zM21 869h1v1h-1zM49 869h1v1h-1zM59 869h1v1h-1zM75 869h1v1h-1zM127 869h2v1h-2zM749 869h1v1h-1zM760 869h2v1h-2zM767 869h1v1h-1zM780 869h1v1h-1zM827 869h1v1h-1zM848 869h4v1h-4zM855 869h2v1h-2zM889 869h1v1h-1zM1012 869h1v1h-1zM1016 869h1v1h-1zM1061 869h1v1h-1zM1079 869h1v1h-1zM20 870h1v1h-1zM49 870h1v1h-1zM59 870h1v1h-1zM75 870h1v1h-1zM126 870h1v1h-1zM750 870h10v1h-10zM768 870h1v1h-1zM780 870h1v1h-1zM828 870h1v1h-1zM846 870h2v1h-2zM857 870h1v1h-1zM887 870h2v1h-2zM1013 870h1v1h-1zM1016 870h1v1h-1zM1061 870h1v1h-1zM1079 870h1v1h-1zM20 871h1v1h-1zM50 871h1v1h-1zM59 871h1v1h-1zM76 871h1v1h-1zM125 871h1v1h-1zM768 871h1v1h-1zM779 871h1v1h-1zM828 871h1v1h-1zM846 871h1v1h-1zM858 871h2v1h-2zM882 871h5v1h-5zM1013 871h1v1h-1zM1015 871h1v1h-1zM1062 871h1v1h-1zM1077 871h2v1h-2zM19 872h1v1h-1zM50 872h1v1h-1zM58 872h1v1h-1zM76 872h1v1h-1zM124 872h1v1h-1zM769 872h1v1h-1zM779 872h1v1h-1zM829 872h1v1h-1zM845 872h1v1h-1zM860 872h2v1h-2zM874 872h8v1h-8zM1014 872h1v1h-1zM1062 872h2v1h-2zM1074 872h3v1h-3zM19 873h1v1h-1zM50 873h1v1h-1zM58 873h1v1h-1zM77 873h1v1h-1zM122 873h2v1h-2zM769 873h1v1h-1zM778 873h1v1h-1zM830 873h1v1h-1zM845 873h1v1h-1zM862 873h12v1h-12zM1064 873h4v1h-4zM1072 873h2v1h-2zM18 874h1v1h-1zM51 874h1v1h-1zM57 874h1v1h-1zM77 874h1v1h-1zM121 874h1v1h-1zM770 874h1v1h-1zM778 874h1v1h-1zM831 874h1v1h-1zM844 874h1v1h-1zM1068 874h4v1h-4zM17 875h1v1h-1zM51 875h1v1h-1zM57 875h1v1h-1zM78 875h1v1h-1zM94 875h12v1h-12zM120 875h1v1h-1zM771 875h1v1h-1zM777 875h1v1h-1zM831 875h1v1h-1zM844 875h1v1h-1zM17 876h1v1h-1zM51 876h1v1h-1zM57 876h1v1h-1zM79 876h1v1h-1zM93 876h1v1h-1zM106 876h8v1h-8zM119 876h1v1h-1zM771 876h1v1h-1zM777 876h1v1h-1zM832 876h1v1h-1zM843 876h1v1h-1zM16 877h1v1h-1zM52 877h1v1h-1zM56 877h1v1h-1zM80 877h1v1h-1zM92 877h1v1h-1zM114 877h5v1h-5zM772 877h1v1h-1zM776 877h1v1h-1zM832 877h1v1h-1zM843 877h1v1h-1zM-2 878h4v1h-4zM16 878h1v1h-1zM52 878h1v1h-1zM56 878h1v1h-1zM81 878h1v1h-1zM90 878h2v1h-2zM772 878h1v1h-1zM776 878h1v1h-1zM833 878h1v1h-1zM842 878h1v1h-1zM2 879h6v1h-6zM15 879h1v1h-1zM52 879h1v1h-1zM56 879h1v1h-1zM82 879h2v1h-2zM89 879h1v1h-1zM773 879h1v1h-1zM775 879h1v1h-1zM833 879h1v1h-1zM842 879h1v1h-1zM8 880h4v1h-4zM15 880h1v1h-1zM53 880h1v1h-1zM55 880h1v1h-1zM84 880h1v1h-1zM88 880h1v1h-1zM773 880h1v1h-1zM775 880h1v1h-1zM834 880h1v1h-1zM841 880h1v1h-1zM12 881h3v1h-3zM53 881h1v1h-1zM55 881h1v1h-1zM85 881h1v1h-1zM87 881h1v1h-1zM774 881h1v1h-1zM835 881h1v1h-1zM841 881h1v1h-1zM53 882h1v1h-1zM55 882h1v1h-1zM86 882h1v1h-1zM835 882h1v1h-1zM840 882h1v1h-1zM54 883h1v1h-1zM836 883h1v1h-1zM840 883h1v1h-1zM54 884h1v1h-1zM836 884h1v1h-1zM839 884h1v1h-1zM837 885h1v1h-1zM839 885h1v1h-1zM837 886h2v1h-2zM838 887h1v1h-1z" fill="#1e90ff"/>
</g>
<text x="2" y="593.5" font-size="9.6" fill="#000" font-family="'Liberation Sans', Arial, sans-serif" textLength="128" lengthAdjust="spacingAndGlyphs">MACD(12,26,9) 0.2773 0.2595</text>
<text x="2" y="766" font-size="9.6" fill="#000" font-family="'Liberation Sans', Arial, sans-serif" textLength="68" lengthAdjust="spacingAndGlyphs">RSI(14) 73.0472</text>
<rect x="1618" y="48" width="2" height="1" fill="#000"/>
<text x="1624" y="52.3" font-size="9.3" fill="#000" font-family="'Liberation Sans', Arial, sans-serif" textLength="32" lengthAdjust="spacingAndGlyphs">110.315</text>
<rect x="1618" y="81" width="2" height="1" fill="#000"/>
<text x="1624" y="85.3" font-size="9.3" fill="#000" font-family="'Liberation Sans', Arial, sans-serif" textLength="32" lengthAdjust="spacingAndGlyphs">110.145</text>
<rect x="1618" y="114" width="2" height="1" fill="#000"/>
<text x="1624" y="118.3" font-size="9.3" fill="#000" font-family="'Liberation Sans', Arial, sans-serif" textLength="32" lengthAdjust="spacingAndGlyphs">109.975</text>
<rect x="1618" y="147" width="2" height="1" fill="#000"/>
<text x="1624" y="151.3" font-size="9.3" fill="#000" font-family="'Liberation Sans', Arial, sans-serif" textLength="32" lengthAdjust="spacingAndGlyphs">109.800</text>
<rect x="1618" y="180" width="2" height="1" fill="#000"/>
<text x="1624" y="184.3" font-size="9.3" fill="#000" font-family="'Liberation Sans', Arial, sans-serif" textLength="32" lengthAdjust="spacingAndGlyphs">109.630</text>
<rect x="1618" y="213" width="2" height="1" fill="#000"/>
<text x="1624" y="217.3" font-size="9.3" fill="#000" font-family="'Liberation Sans', Arial, sans-serif" textLength="32" lengthAdjust="spacingAndGlyphs">109.460</text>
<rect x="1618" y="246" width="2" height="1" fill="#000"/>
<text x="1624" y="250.3" font-size="9.3" fill="#000" font-family="'Liberation Sans', Arial, sans-serif" textLength="32" lengthAdjust="spacingAndGlyphs">109.290</text>
<rect x="1618" y="279" width="2" height="1" fill="#000"/>
<text x="1624" y="283.3" font-size="9.3" fill="#000" font-family="'Liberation Sans', Arial, sans-serif" textLength="32" lengthAdjust="spacingAndGlyphs">109.120</text>
<rect x="1618" y="312" width="2" height="1" fill="#000"/>
<text x="1624" y="316.3" font-size="9.3" fill="#000" font-family="'Liberation Sans', Arial, sans-serif" textLength="32" lengthAdjust="spacingAndGlyphs">108.950</text>
<rect x="1618" y="345" width="2" height="1" fill="#000"/>
<text x="1624" y="349.3" font-size="9.3" fill="#000" font-family="'Liberation Sans', Arial, sans-serif" textLength="32" lengthAdjust="spacingAndGlyphs">108.780</text>
<rect x="1618" y="378" width="2" height="1" fill="#000"/>
<text x="1624" y="382.3" font-size="9.3" fill="#000" font-family="'Liberation Sans', Arial, sans-serif" textLength="32" lengthAdjust="spacingAndGlyphs">108.605</text>
<rect x="1618" y="411" width="2" height="1" fill="#000"/>
<text x="1624" y="415.3" font-size="9.3" fill="#000" font-family="'Liberation Sans', Arial, sans-serif" textLength="32" lengthAdjust="spacingAndGlyphs">108.435</text>
<rect x="1618" y="444" width="2" height="1" fill="#000"/>
<text x="1624" y="448.3" font-size="9.3" fill="#000" font-family="'Liberation Sans', Arial, sans-serif" textLength="32" lengthAdjust="spacingAndGlyphs">108.265</text>
<rect x="1618" y="477" width="2" height="1" fill="#000"/>
<text x="1624" y="481.3" font-size="9.3" fill="#000" font-family="'Liberation Sans', Arial, sans-serif" textLength="32" lengthAdjust="spacingAndGlyphs">108.095</text>
<rect x="1618" y="510" width="2" height="1" fill="#000"/>
<text x="1624" y="514.3" font-size="9.3" fill="#000" font-family="'Liberation Sans', Arial, sans-serif" textLength="32" lengthAdjust="spacingAndGlyphs">107.925</text>
<rect x="1618" y="543" width="2" height="1" fill="#000"/>
<text x="1624" y="547.3" font-size="9.3" fill="#000" font-family="'Liberation Sans', Arial, sans-serif" textLength="32" lengthAdjust="spacingAndGlyphs">107.755</text>
<rect x="1618" y="576" width="2" height="1" fill="#000"/>
<text x="1624" y="580.3" font-size="9.3" fill="#000" font-family="'Liberation Sans', Arial, sans-serif" textLength="32" lengthAdjust="spacingAndGlyphs">107.585</text>
<text x="1621" y="591.5" font-size="9.3" fill="#000" font-family="'Liberation Sans', Arial, sans-serif" textLength="27" lengthAdjust="spacingAndGlyphs">0.3419</text>
<rect x="1618" y="668" width="2" height="1" fill="#000"/>
<text x="1621" y="672" font-size="9.3" fill="#000" font-family="'Liberation Sans', Arial, sans-serif" textLength="18" lengthAdjust="spacingAndGlyphs">0.00</text>
<text x="1621" y="748" font-size="9.3" fill="#000" font-family="'Liberation Sans', Arial, sans-serif" textLength="30" lengthAdjust="spacingAndGlyphs">-0.3301</text>
<text x="1621" y="763.8" font-size="9.3" fill="#000" font-family="'Liberation Sans', Arial, sans-serif">100</text>
<text x="1620" y="792.8" font-size="9.3" fill="#000" font-family="'Liberation Sans', Arial, sans-serif">80</text>
<text x="1620" y="843.8" font-size="9.3" fill="#000" font-family="'Liberation Sans', Arial, sans-serif">50</text>
<text x="1620" y="904.8" font-size="9.3" fill="#000" font-family="'Liberation Sans', Arial, sans-serif">15</text>
<text x="1621" y="924.8" font-size="9.3" fill="#000" font-family="'Liberation Sans', Arial, sans-serif">0</text>
<rect x="1618" y="755" width="1" height="1" fill="#000"/>
<rect x="1618" y="926" width="1" height="1" fill="#000"/>
<rect x="1618" y="583" width="1" height="1" fill="#000"/>
<rect x="1618" y="750" width="1" height="1" fill="#000"/>
<rect x="1619" y="36" width="41" height="11" fill="#ff0000"/>
<text x="1624" y="45" font-size="9.3" fill="#fff" font-family="'Liberation Sans', Arial, sans-serif" textLength="32" lengthAdjust="spacingAndGlyphs">110.343</text>
<rect x="1619" y="67" width="41" height="11" fill="#ff0000"/>
<text x="1624" y="76" font-size="9.3" fill="#fff" font-family="'Liberation Sans', Arial, sans-serif" textLength="32" lengthAdjust="spacingAndGlyphs">110.183</text>
<rect x="1619" y="109" width="41" height="11" fill="#000000"/>
<text x="1624" y="118" font-size="9.3" fill="#fff" font-family="'Liberation Sans', Arial, sans-serif" textLength="32" lengthAdjust="spacingAndGlyphs">109.973</text>
<rect x="1619" y="137" width="41" height="11" fill="#32cd32"/>
<text x="1624" y="146" font-size="9.3" fill="#fff" font-family="'Liberation Sans', Arial, sans-serif" textLength="32" lengthAdjust="spacingAndGlyphs">109.821</text>
<rect x="1619" y="166" width="41" height="11" fill="#0000ff"/>
<text x="1624" y="175" font-size="9.3" fill="#fff" font-family="'Liberation Sans', Arial, sans-serif" textLength="32" lengthAdjust="spacingAndGlyphs">109.671</text>
<rect x="1619" y="194" width="41" height="11" fill="#0000ff"/>
<text x="1624" y="203" font-size="9.3" fill="#fff" font-family="'Liberation Sans', Arial, sans-serif" textLength="32" lengthAdjust="spacingAndGlyphs">109.527</text>
<text x="-3" y="940" font-size="9.3" fill="#000" font-family="'Liberation Sans', Arial, sans-serif">31 Dec 2019</text>
<rect x="62" y="928" width="1" height="3" fill="#000"/>
<text x="61" y="940" font-size="9.3" fill="#000" font-family="'Liberation Sans', Arial, sans-serif">2 Jan 16:00</text>
<rect x="126" y="928" width="1" height="3" fill="#000"/>
<text x="125" y="940" font-size="9.3" fill="#000" font-family="'Liberation Sans', Arial, sans-serif">6 Jan 00:00</text>
<rect x="190" y="928" width="1" height="3" fill="#000"/>
<text x="189" y="940" font-size="9.3" fill="#000" font-family="'Liberation Sans', Arial, sans-serif">7 Jan 08:00</text>
<rect x="254" y="928" width="1" height="3" fill="#000"/>
<text x="253" y="940" font-size="9.3" fill="#000" font-family="'Liberation Sans', Arial, sans-serif">8 Jan 16:00</text>
<rect x="318" y="928" width="1" height="3" fill="#000"/>
<text x="317" y="940" font-size="9.3" fill="#000" font-family="'Liberation Sans', Arial, sans-serif">10 Jan 00:00</text>
<rect x="382" y="928" width="1" height="3" fill="#000"/>
<text x="381" y="940" font-size="9.3" fill="#000" font-family="'Liberation Sans', Arial, sans-serif">13 Jan 08:00</text>
<rect x="446" y="928" width="1" height="3" fill="#000"/>
<text x="445" y="940" font-size="9.3" fill="#000" font-family="'Liberation Sans', Arial, sans-serif">14 Jan 16:00</text>
<rect x="510" y="928" width="1" height="3" fill="#000"/>
<text x="509" y="940" font-size="9.3" fill="#000" font-family="'Liberation Sans', Arial, sans-serif">16 Jan 00:00</text>
<rect x="574" y="928" width="1" height="3" fill="#000"/>
<text x="573" y="940" font-size="9.3" fill="#000" font-family="'Liberation Sans', Arial, sans-serif">17 Jan 08:00</text>
<rect x="638" y="928" width="1" height="3" fill="#000"/>
<text x="637" y="940" font-size="9.3" fill="#000" font-family="'Liberation Sans', Arial, sans-serif">20 Jan 16:00</text>
<rect x="702" y="928" width="1" height="3" fill="#000"/>
<text x="701" y="940" font-size="9.3" fill="#000" font-family="'Liberation Sans', Arial, sans-serif">22 Jan 00:00</text>
<rect x="766" y="928" width="1" height="3" fill="#000"/>
<text x="765" y="940" font-size="9.3" fill="#000" font-family="'Liberation Sans', Arial, sans-serif">23 Jan 08:00</text>
<rect x="830" y="928" width="1" height="3" fill="#000"/>
<text x="829" y="940" font-size="9.3" fill="#000" font-family="'Liberation Sans', Arial, sans-serif">24 Jan 16:00</text>
<rect x="894" y="928" width="1" height="3" fill="#000"/>
<text x="893" y="940" font-size="9.3" fill="#000" font-family="'Liberation Sans', Arial, sans-serif">28 Jan 00:00</text>
<rect x="958" y="928" width="1" height="3" fill="#000"/>
<text x="957" y="940" font-size="9.3" fill="#000" font-family="'Liberation Sans', Arial, sans-serif">29 Jan 08:00</text>
<rect x="1022" y="928" width="1" height="3" fill="#000"/>
<text x="1021" y="940" font-size="9.3" fill="#000" font-family="'Liberation Sans', Arial, sans-serif">30 Jan 16:00</text>
<rect x="1086" y="928" width="1" height="3" fill="#000"/>
<text x="1085" y="940" font-size="9.3" fill="#000" font-family="'Liberation Sans', Arial, sans-serif">3 Feb 00:00</text>
<rect x="1150" y="928" width="1" height="3" fill="#000"/>
<text x="1149" y="940" font-size="9.3" fill="#000" font-family="'Liberation Sans', Arial, sans-serif">4 Feb 08:00</text>
<rect x="1214" y="928" width="1" height="3" fill="#000"/>
<text x="1213" y="940" font-size="9.3" fill="#000" font-family="'Liberation Sans', Arial, sans-serif">5 Feb 16:00</text>
<rect x="1278" y="928" width="1" height="3" fill="#000"/>
<text x="1277" y="940" font-size="9.3" fill="#000" font-family="'Liberation Sans', Arial, sans-serif">6 Feb 23:00</text>
<polygon points="1,37 8,37 4.5,33" fill="#000"/>
<text x="13" y="37.6" font-size="10" fill="#000" font-family="'Liberation Sans', Arial, sans-serif" textLength="201" lengthAdjust="spacingAndGlyphs">USDJPY-,H4  109.963 109.976 109.960 109.973</text>
<defs><linearGradient id="gTop" x1="0" y1="0" x2="0" y2="1"><stop offset="0" stop-color="#5a5aff"/><stop offset="1" stop-color="#3a32e0"/></linearGradient><linearGradient id="gBot" x1="0" y1="0" x2="0" y2="1"><stop offset="0" stop-color="#3026e0"/><stop offset="1" stop-color="#0000a8"/></linearGradient><linearGradient id="gBtn" x1="0" y1="0" x2="0" y2="1"><stop offset="0" stop-color="#f0f0f0"/><stop offset="0.4" stop-color="#ececec"/><stop offset="0.42" stop-color="#d8d8d8"/><stop offset="1" stop-color="#d2d2d2"/></linearGradient></defs>
<rect x="0" y="44" width="222" height="67" fill="#ffffff"/>
<rect x="1" y="46" width="52" height="25" fill="#0000a0"/>
<rect x="2" y="47" width="50" height="23" fill="url(#gTop)"/>
<rect x="168" y="46" width="52" height="25" fill="#0000a0"/>
<rect x="169" y="47" width="50" height="23" fill="url(#gTop)"/>
<rect x="1" y="70" width="110" height="40" fill="#0000a0"/>
<rect x="2" y="71" width="108" height="38" fill="url(#gBot)"/>
<rect x="112" y="70" width="108" height="40" fill="#0000a0"/>
<rect x="113" y="71" width="106" height="38" fill="url(#gBot)"/>
<rect x="5" y="69" width="45" height="1" fill="#000080"/>
<rect x="5" y="70" width="45" height="1" fill="#7070ff"/>
<rect x="172" y="69" width="45" height="1" fill="#000080"/>
<rect x="172" y="70" width="45" height="1" fill="#7070ff"/>
<rect x="55" y="46" width="111" height="22" fill="#a8a8a8"/>
<rect x="56" y="47" width="109" height="20" fill="#ffffff"/>
<rect x="57" y="48" width="19" height="18" fill="url(#gBtn)"/>
<rect x="76" y="47" width="1" height="20" fill="#a8a8a8"/>
<rect x="145" y="47" width="1" height="20" fill="#a8a8a8"/>
<rect x="146" y="48" width="19" height="18" fill="url(#gBtn)"/>
<polygon points="63,55 68,55 65.5,58" fill="#4858b8"/>
<polygon points="152,58 157,58 154.5,55" fill="#4858b8"/>
<text x="117.5" y="61" font-size="12" fill="#000" font-family="'Liberation Sans', Arial, sans-serif" textLength="23.5" lengthAdjust="spacingAndGlyphs">1.00</text>
<text x="13.6" y="62" font-size="12.2" fill="#f0f0ff" font-family="'Liberation Sans', Arial, sans-serif" textLength="25.5" lengthAdjust="spacingAndGlyphs">SELL</text>
<text x="181.5" y="62" font-size="12.2" fill="#f0f0ff" font-family="'Liberation Sans', Arial, sans-serif" textLength="23.2" lengthAdjust="spacingAndGlyphs">BUY</text>
<text x="24.7" y="101" font-size="12.4" fill="#ffffff" font-family="'Liberation Sans', Arial, sans-serif" font-weight="bold" textLength="20" lengthAdjust="spacingAndGlyphs">109</text>
<text x="48.5" y="101" font-size="33.5" fill="#ffffff" font-family="'Liberation Sans', Arial, sans-serif" textLength="34.5" lengthAdjust="spacingAndGlyphs">97</text>
<text x="88.6" y="84.6" font-size="10.5" fill="#ffffff" font-family="'Liberation Sans', Arial, sans-serif" font-weight="bold" textLength="6.2" lengthAdjust="spacingAndGlyphs">3</text>
<text x="134.6" y="101" font-size="12.4" fill="#ffffff" font-family="'Liberation Sans', Arial, sans-serif" font-weight="bold" textLength="20.4" lengthAdjust="spacingAndGlyphs">109</text>
<text x="159.5" y="101" font-size="33.5" fill="#ffffff" font-family="'Liberation Sans', Arial, sans-serif" textLength="34.8" lengthAdjust="spacingAndGlyphs">99</text>
<text x="199.8" y="84.6" font-size="10.5" fill="#ffffff" font-family="'Liberation Sans', Arial, sans-serif" font-weight="bold" textLength="5.9" lengthAdjust="spacingAndGlyphs">1</text>
</svg>
</body></html>
